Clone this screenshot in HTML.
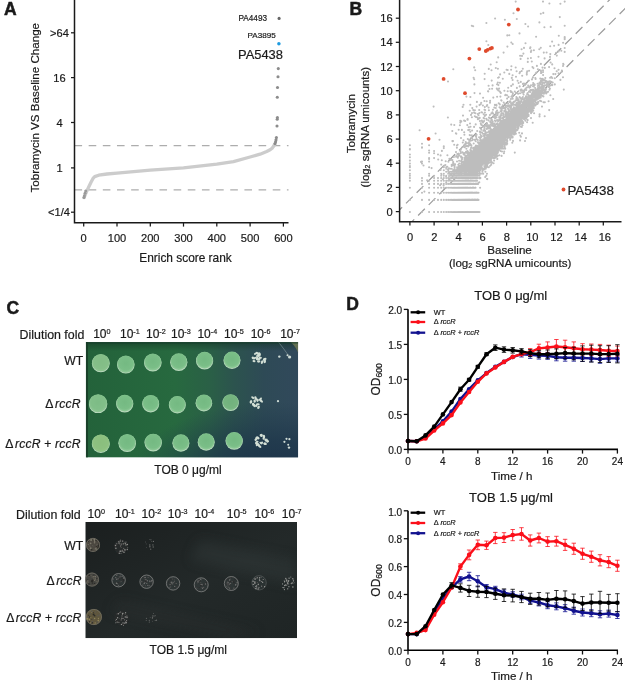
<!DOCTYPE html>
<html lang="en"><head><meta charset="utf-8"><title>Figure</title>
<style>html,body{margin:0;padding:0;background:#fff}body{width:625px;height:684px;overflow:hidden;font-family:"Liberation Sans", Arial, Helvetica, sans-serif}svg{display:block;filter:blur(.4px)}svg text{stroke:#1a1a1a;stroke-width:.2px}</style>
</head><body>
<svg width="625" height="684" viewBox="0 0 625 684" font-family='"Liberation Sans", Arial, Helvetica, sans-serif' fill="#1a1a1a">
<g id="pA">
<text x="4.0" y="14.5" font-size="17.5" font-weight="bold" style="stroke-width:.5px">A</text>
<line x1="74.5" y1="145.6" x2="288.5" y2="145.6" stroke="#adadad" stroke-width="1.3" stroke-dasharray="7.6 6.56"/>
<line x1="74.5" y1="189.9" x2="288.5" y2="189.9" stroke="#adadad" stroke-width="1.3" stroke-dasharray="7.6 6.56"/>
<path d="M74.5 0V222.8H288.5" fill="none" stroke="#1a1a1a" stroke-width="1.5"/>
<line x1="71.0" y1="32.8" x2="74.5" y2="32.8" stroke="#1a1a1a" stroke-width="1.25"/>
<line x1="71.0" y1="77.6" x2="74.5" y2="77.6" stroke="#1a1a1a" stroke-width="1.25"/>
<line x1="71.0" y1="122.5" x2="74.5" y2="122.5" stroke="#1a1a1a" stroke-width="1.25"/>
<line x1="71.0" y1="167.9" x2="74.5" y2="167.9" stroke="#1a1a1a" stroke-width="1.25"/>
<line x1="71.0" y1="212.2" x2="74.5" y2="212.2" stroke="#1a1a1a" stroke-width="1.25"/>
<text x="59.5" y="36.9" text-anchor="middle" font-size="11.1">&gt;64</text>
<text x="59.5" y="81.8" text-anchor="middle" font-size="11.1">16</text>
<text x="59.5" y="126.7" text-anchor="middle" font-size="11.1">4</text>
<text x="59.5" y="172.1" text-anchor="middle" font-size="11.1">1</text>
<text x="70" y="216.4" text-anchor="end" font-size="11.1">&lt;1/4</text>
<line x1="83.7" y1="222.8" x2="83.7" y2="226.60000000000002" stroke="#1a1a1a" stroke-width="1.25"/>
<text x="83.7" y="242.4" text-anchor="middle" font-size="11.1">0</text>
<line x1="117.0" y1="222.8" x2="117.0" y2="226.60000000000002" stroke="#1a1a1a" stroke-width="1.25"/>
<text x="117.0" y="242.4" text-anchor="middle" font-size="11.1">100</text>
<line x1="150.3" y1="222.8" x2="150.3" y2="226.60000000000002" stroke="#1a1a1a" stroke-width="1.25"/>
<text x="150.3" y="242.4" text-anchor="middle" font-size="11.1">200</text>
<line x1="183.5" y1="222.8" x2="183.5" y2="226.60000000000002" stroke="#1a1a1a" stroke-width="1.25"/>
<text x="183.5" y="242.4" text-anchor="middle" font-size="11.1">300</text>
<line x1="216.8" y1="222.8" x2="216.8" y2="226.60000000000002" stroke="#1a1a1a" stroke-width="1.25"/>
<text x="216.8" y="242.4" text-anchor="middle" font-size="11.1">400</text>
<line x1="250.1" y1="222.8" x2="250.1" y2="226.60000000000002" stroke="#1a1a1a" stroke-width="1.25"/>
<text x="250.1" y="242.4" text-anchor="middle" font-size="11.1">500</text>
<line x1="283.4" y1="222.8" x2="283.4" y2="226.60000000000002" stroke="#1a1a1a" stroke-width="1.25"/>
<text x="283.4" y="242.4" text-anchor="middle" font-size="11.1">600</text>
<text x="185.5" y="261.9" text-anchor="middle" font-size="11.9">Enrich score rank</text>
<text transform="translate(39.0 107.7) rotate(-90)" text-anchor="middle" font-size="11.6">Tobramycin VS Baseline Change</text>
<path d="M84.0 197.6 L84.7 196.0 L85.7 193.6 L87.0 190.6 L88.7 187.0 L91.0 182.2 L93.0 178.4 L94.7 176.6 L98.7 175.2 L107.0 174.0 L117.0 173.2 L133.6 171.6 L150.3 170.2 L183.5 167.8 L216.8 164.2 L233.5 161.6 L250.1 157.0 L260.1 154.2 L266.7 151.5 L270.1 149.8 L272.1 148.2 L273.4 146.5 L274.7 144.5" fill="none" stroke="#cccccc" stroke-width="3.3" stroke-linecap="round" stroke-linejoin="round"/>
<circle cx="84.0" cy="197.6" r="1.5" fill="#9a9a9a"/>
<circle cx="84.4" cy="195.8" r="1.5" fill="#9a9a9a"/>
<circle cx="85.0" cy="193.2" r="1.5" fill="#9a9a9a"/>
<circle cx="85.7" cy="191.0" r="1.5" fill="#9a9a9a"/>
<circle cx="275.0" cy="143.6" r="1.55" fill="#8c8c8c"/>
<circle cx="275.6" cy="141.8" r="1.55" fill="#8c8c8c"/>
<circle cx="276.0" cy="139.8" r="1.55" fill="#8c8c8c"/>
<circle cx="276.4" cy="137.6" r="1.55" fill="#8c8c8c"/>
<circle cx="277.0" cy="126.0" r="1.55" fill="#8c8c8c"/>
<circle cx="277.2" cy="119.2" r="1.55" fill="#8c8c8c"/>
<circle cx="277.4" cy="117.6" r="1.55" fill="#8c8c8c"/>
<circle cx="277.3" cy="97.2" r="1.55" fill="#8c8c8c"/>
<circle cx="277.5" cy="87.5" r="1.55" fill="#8c8c8c"/>
<circle cx="278.0" cy="76.8" r="1.55" fill="#8c8c8c"/>
<circle cx="278.3" cy="68.6" r="1.55" fill="#8c8c8c"/>
<circle cx="279.1" cy="18.4" r="1.55" fill="#666"/>
<circle cx="278.9" cy="43.8" r="1.75" fill="#1e9be0"/>
<text x="238.5" y="21.2" font-size="8.2" fill="#222">PA4493</text>
<text x="247.5" y="37.9" font-size="8.1" fill="#222">PA3895</text>
<text x="238" y="58.9" font-size="12.9" fill="#1a1a1a">PA5438</text>
</g>
<g id="pB">
<text x="349.6" y="14.5" font-size="17.5" font-weight="bold" style="stroke-width:.5px">B</text>
<clipPath id="cb"><rect x="399.6" y="0" width="225.39999999999998" height="221.8"/></clipPath>
<g clip-path="url(#cb)" stroke="#9c9c9c" stroke-width="1.25" stroke-dasharray="9.5 5.5" fill="none">
<line x1="395.4" y1="214.0" x2="627.5" y2="-18.1"/>
<line x1="407.5" y1="226.1" x2="639.6" y2="-6.0"/>
</g>
<path d="M491.6 138.7h0M500.5 132.6h0M487.6 151.5h0M477.1 168.7h0M482.7 144.5h0M471.4 163.6h0M494.7 142.4h0M522.3 121.1h0M483.8 144.5h0M476.3 150.5h0M504.1 131.0h0M501.2 132.9h0M497.2 139.5h0M471.9 173.7h0M491.1 142.7h0M506.0 129.9h0M470.3 178.1h0M481.6 153.9h0M453.2 187.8h0M461.3 166.0h0M460.3 171.8h0M487.0 152.7h0M466.7 164.8h0M501.6 140.6h0M495.8 135.1h0M492.7 144.5h0M450.1 192.8h0M483.5 163.6h0M494.7 151.5h0M496.6 144.8h0M464.6 178.1h0M481.6 144.5h0M472.9 152.7h0M476.7 168.7h0M516.9 114.3h0M476.3 156.6h0M491.2 149.5h0M512.9 120.4h0M481.9 157.3h0M493.0 147.2h0M497.3 137.6h0M493.0 136.9h0M464.6 187.8h0M495.3 141.2h0M523.3 110.2h0M451.7 175.7h0M512.9 125.8h0M496.7 138.7h0M478.1 155.2h0M537.1 95.2h0M510.7 129.7h0M466.7 160.6h0M492.8 139.2h0M506.6 124.7h0M491.6 141.5h0M507.0 131.0h0M490.4 146.8h0M509.5 130.3h0M525.1 114.1h0M479.2 149.5h0M496.6 135.8h0M482.7 170.2h0M493.8 137.4h0M465.3 171.8h0M481.9 151.5h0M491.1 146.4h0M512.6 125.4h0M517.0 113.7h0M469.2 171.8h0M479.2 154.5h0M507.2 127.1h0M453.2 199.9h0M478.8 147.7h0M491.2 153.9h0M520.6 111.1h0M507.2 127.1h0M490.6 152.1h0M487.6 146.8h0M486.8 157.3h0M526.2 110.0h0M481.9 154.5h0M487.0 148.1h0M501.5 138.9h0M489.9 142.1h0M490.6 145.2h0M467.4 187.8h0M493.5 140.6h0M481.0 159.7h0M519.1 117.4h0M507.4 131.2h0M494.3 138.1h0M507.5 121.4h0M487.0 144.1h0M516.7 117.9h0M494.7 145.2h0M505.6 134.1h0M465.3 170.2h0M500.8 123.9h0M458.3 175.7h0M448.2 180.7h0M485.0 153.3h0M473.3 159.7h0M496.8 137.4h0M541.8 93.8h0M475.1 171.8h0M478.8 163.6h0M496.3 134.3h0M502.9 131.0h0M487.0 157.3h0M488.4 146.4h0M510.1 133.7h0M505.1 120.0h0M474.2 171.8h0M494.3 152.1h0M495.2 134.5h0M468.6 178.1h0M498.1 132.2h0M471.4 160.6h0M514.3 126.2h0M497.3 133.7h0M495.7 146.0h0M479.8 156.6h0M489.9 143.4h0M448.2 187.8h0M471.9 175.7h0M502.7 123.2h0M450.1 180.7h0M511.4 129.7h0M458.3 167.3h0M509.3 122.6h0M473.3 167.3h0M510.1 126.2h0M497.3 139.5h0M462.2 171.8h0M520.1 112.3h0M525.1 118.3h0M491.7 133.3h0M486.5 144.1h0M489.7 155.2h0M470.3 173.7h0M517.1 124.3h0M480.7 156.6h0M491.2 144.1h0M480.1 155.9h0M481.3 163.6h0M472.4 173.7h0M520.4 107.1h0M489.9 148.6h0M514.1 107.6h0M494.4 145.6h0M481.9 155.9h0M487.0 152.7h0M487.2 164.8h0M494.4 134.9h0M487.6 152.1h0M486.1 151.5h0M463.0 175.7h0M475.5 154.5h0M529.0 110.0h0M474.2 155.2h0M470.9 158.9h0M499.5 135.1h0M524.0 102.6h0M466.7 166.0h0M489.5 143.8h0M478.5 153.9h0M462.2 175.7h0M510.6 117.5h0M493.5 153.3h0M495.1 138.7h0M477.4 163.6h0M502.7 135.1h0M482.7 162.6h0M490.7 138.9h0M469.2 168.7h0M470.3 166.0h0M522.3 105.2h0M483.2 155.9h0M500.6 133.5h0M490.7 143.4h0M482.7 159.7h0M480.7 157.3h0M505.2 124.8h0M488.0 147.2h0M490.0 137.6h0M493.7 147.7h0M518.7 114.7h0M508.1 134.7h0M502.2 136.5h0M473.3 160.6h0M465.3 164.8h0M513.3 116.7h0M514.0 117.8h0M489.3 138.1h0M503.7 121.6h0M510.8 122.1h0M510.4 126.3h0M512.8 130.3h0M484.3 155.2h0M525.6 107.4h0M468.0 171.8h0M511.6 124.1h0M503.7 136.0h0M512.2 114.0h0M533.2 105.9h0M525.9 111.6h0M468.0 170.2h0M454.6 212.0h0M513.0 118.3h0M471.9 155.9h0M495.3 143.1h0M511.9 129.4h0M460.3 175.7h0M453.2 187.8h0M499.3 126.7h0M494.1 144.5h0M485.9 153.3h0M494.8 146.8h0M473.8 158.1h0M458.3 171.8h0M486.3 154.5h0M471.4 164.8h0M457.1 178.1h0M503.5 128.9h0M493.0 142.1h0M503.4 121.3h0M469.8 171.8h0M479.2 159.7h0M465.3 170.2h0M475.5 158.1h0M498.2 150.5h0M479.8 158.9h0M500.3 134.1h0M501.9 140.3h0M536.2 99.2h0M454.6 166.0h0M514.2 114.7h0M490.6 153.3h0M492.7 143.8h0M461.3 160.6h0M481.0 163.6h0M509.0 127.9h0M492.7 151.0h0M493.8 138.9h0M488.6 155.9h0M517.6 118.7h0M493.1 150.0h0M446.2 199.9h0M479.2 168.7h0M453.2 212.0h0M441.2 212.0h0M481.9 152.7h0M522.9 116.3h0M494.7 140.0h0M471.4 175.7h0M474.2 166.0h0M517.3 119.3h0M497.6 135.6h0M494.9 140.3h0M494.8 151.5h0M490.6 141.2h0M510.5 123.5h0M506.1 121.2h0M500.1 145.6h0M471.9 170.2h0M505.3 126.8h0M473.8 164.8h0M516.4 112.5h0M463.8 167.3h0M489.5 149.5h0M494.8 133.9h0M462.2 171.8h0M530.7 109.3h0M524.0 109.1h0M482.7 150.5h0M510.0 121.4h0M503.1 136.0h0M441.2 192.8h0M499.9 137.6h0M492.4 134.7h0M495.1 124.8h0M470.3 173.7h0M486.8 159.7h0M492.8 152.7h0M520.0 121.5h0M499.6 134.5h0M493.0 143.4h0M526.7 112.9h0M481.9 163.6h0M483.0 156.6h0M454.6 180.7h0M527.7 120.1h0M515.7 115.5h0M513.4 122.8h0M506.6 129.1h0M496.0 137.6h0M496.2 144.1h0M488.0 149.5h0M488.6 143.1h0M496.0 136.5h0M526.8 104.5h0M507.1 133.5h0M491.4 149.0h0M477.4 149.0h0M474.7 155.9h0M528.2 107.3h0M505.5 144.5h0M492.8 149.0h0M483.5 158.1h0M469.8 156.6h0M491.9 141.2h0M510.5 126.1h0M483.0 153.3h0M491.9 131.7h0M489.0 141.8h0M499.0 141.8h0M457.1 178.1h0M489.1 156.6h0M474.7 167.3h0M513.3 121.1h0M470.9 152.7h0M507.4 123.5h0M526.0 107.3h0M484.5 155.2h0M480.1 153.9h0M497.8 136.5h0M493.4 148.6h0M471.9 171.8h0M504.2 120.6h0M537.2 94.8h0M489.1 136.7h0M490.6 141.8h0M470.9 157.3h0M501.2 138.9h0M460.3 166.0h0M471.4 155.2h0M520.0 106.8h0M478.1 163.6h0M517.1 112.7h0M527.4 111.1h0M498.0 144.8h0M506.4 125.8h0M535.8 89.8h0M491.1 146.0h0M478.1 168.7h0M463.0 178.1h0M495.2 140.3h0M525.1 111.3h0M513.8 133.9h0M474.7 155.9h0M477.4 150.0h0M481.0 152.7h0M501.0 143.8h0M488.8 156.6h0M497.4 134.5h0M502.4 131.3h0M487.4 143.4h0M493.5 144.1h0M497.3 139.5h0M489.7 146.4h0M505.3 133.3h0M534.0 104.0h0M504.4 128.1h0M496.1 150.0h0M459.3 178.1h0M502.6 132.0h0M446.2 183.9h0M469.8 162.6h0M511.4 128.6h0M507.9 127.5h0M489.0 137.9h0M451.7 183.9h0M488.4 159.7h0M476.7 155.9h0M507.6 119.7h0M543.0 82.6h0M498.4 149.5h0M480.1 162.6h0M468.0 173.7h0M492.8 147.7h0M491.1 138.7h0M472.4 180.7h0M497.4 133.7h0M464.6 175.7h0M517.2 122.5h0M515.3 123.6h0M517.8 117.6h0M482.2 153.9h0M505.9 123.8h0M491.6 144.1h0M482.7 149.5h0M491.2 158.9h0M468.0 173.7h0M463.0 168.7h0M509.7 122.2h0M490.9 152.1h0M496.7 143.4h0M515.6 117.8h0M460.3 175.7h0M477.1 164.8h0M497.5 140.9h0M501.0 138.9h0M482.7 141.8h0M515.5 118.1h0M498.2 133.5h0M466.7 163.6h0M471.4 156.6h0M510.1 128.9h0M505.3 124.5h0M443.8 175.7h0M523.3 108.4h0M506.8 122.0h0M521.7 114.4h0M483.0 148.1h0M483.5 152.7h0M463.8 161.6h0M548.8 86.9h0M488.2 144.1h0M528.2 110.8h0M479.8 155.9h0M496.5 138.9h0M448.2 178.1h0M483.8 145.2h0M515.2 120.5h0M466.0 170.2h0M515.1 130.2h0M497.1 130.2h0M467.4 170.2h0M481.6 155.9h0M481.0 158.9h0M492.8 136.7h0M481.3 155.9h0M475.1 157.3h0M487.0 142.1h0M468.0 155.2h0M469.2 163.6h0M491.6 141.2h0M511.7 128.2h0M463.8 173.7h0M491.4 136.2h0M477.8 153.9h0M474.7 155.2h0M509.2 122.8h0M485.2 158.1h0M526.7 101.3h0M477.4 149.5h0M500.1 138.1h0M487.8 141.8h0M477.4 162.6h0M506.4 124.3h0M492.2 144.1h0M506.7 125.2h0M492.8 139.5h0M467.4 162.6h0M492.5 151.5h0M497.9 140.3h0M513.3 119.6h0M477.8 171.8h0M491.7 141.5h0M460.3 183.9h0M508.2 123.6h0M472.9 153.9h0M455.9 183.9h0M491.4 139.7h0M517.4 114.9h0M458.3 170.2h0M472.4 171.8h0M469.2 155.2h0M469.2 173.7h0M503.2 128.8h0M472.9 158.1h0M482.4 148.6h0M506.2 126.7h0M481.3 157.3h0M500.9 121.0h0M471.9 164.8h0M464.6 167.3h0M448.2 192.8h0M533.3 95.1h0M489.0 149.5h0M498.9 130.0h0M492.0 133.3h0M496.6 144.8h0M494.8 137.2h0M534.5 95.5h0M470.9 178.1h0M461.3 171.8h0M473.3 162.6h0M465.3 164.8h0M507.9 132.0h0M512.2 122.3h0M478.8 168.7h0M465.3 159.7h0M485.2 152.7h0M523.5 110.5h0M443.8 187.8h0M502.5 128.2h0M464.6 170.2h0M516.0 123.9h0M468.6 167.3h0M486.5 152.7h0M465.3 170.2h0M471.9 178.1h0M524.0 110.9h0M511.2 129.4h0M484.7 158.1h0M475.1 154.5h0M455.9 212.0h0M482.2 144.8h0M490.4 149.0h0M490.7 140.9h0M491.9 131.7h0M472.4 183.9h0M488.0 150.0h0M490.0 137.4h0M521.6 110.7h0M534.2 100.8h0M492.0 150.0h0M474.7 162.6h0M492.7 148.1h0M480.7 146.0h0M474.2 157.3h0M491.7 139.7h0M471.4 155.2h0M506.6 116.3h0M491.1 147.2h0M499.4 135.1h0M489.1 146.8h0M479.2 156.6h0M474.2 171.8h0M490.6 150.5h0M478.8 164.8h0M498.7 150.0h0M493.8 147.7h0M465.3 168.7h0M493.4 131.5h0M467.4 171.8h0M479.5 157.3h0M487.0 143.1h0M448.2 173.7h0M494.5 139.7h0M496.0 139.7h0M490.2 133.9h0M485.2 149.5h0M484.0 154.5h0M473.3 183.9h0M485.9 143.4h0M485.9 155.2h0M494.9 126.4h0M469.2 164.8h0M500.3 133.5h0M495.3 132.9h0M493.1 134.9h0M488.0 159.7h0M506.0 120.9h0M450.1 168.7h0M504.9 133.9h0M497.2 140.6h0M496.0 136.2h0M503.2 138.7h0M481.6 167.3h0M488.8 144.8h0M507.7 126.4h0M502.1 136.5h0M498.7 138.7h0M461.3 170.2h0M504.9 128.4h0M519.7 118.4h0M516.1 107.7h0M499.2 141.8h0M466.7 180.7h0M514.9 120.9h0M490.2 144.5h0M438.0 183.9h0M501.0 128.5h0M458.3 183.9h0M459.3 171.8h0M482.7 159.7h0M521.6 118.0h0M482.7 156.6h0M497.8 143.8h0M531.2 104.6h0M527.4 103.9h0M490.7 147.7h0M490.0 147.2h0M464.6 173.7h0M477.1 162.6h0M503.7 138.4h0M502.1 134.7h0M496.1 137.6h0M516.8 119.0h0M476.7 159.7h0M494.1 146.4h0M508.1 117.8h0M505.7 123.9h0M517.0 118.2h0M502.7 130.5h0M486.8 146.8h0M500.4 134.9h0M473.8 167.3h0M454.6 164.8h0M506.7 121.9h0M492.4 138.9h0M500.8 140.0h0M454.6 173.7h0M487.6 138.7h0M480.1 157.3h0M470.9 154.5h0M438.0 192.8h0M481.6 144.8h0M512.9 112.9h0M502.3 132.0h0M477.1 153.9h0M489.1 144.5h0M511.2 110.5h0M448.2 212.0h0M491.7 145.6h0M505.9 120.5h0M507.7 126.7h0M530.2 102.0h0M517.4 117.8h0M500.8 136.2h0M501.4 138.4h0M510.6 118.3h0M480.7 155.9h0M490.2 142.1h0M512.9 121.7h0M535.5 98.0h0M489.5 151.0h0M491.2 136.9h0M495.6 133.7h0M522.6 113.0h0M491.1 150.5h0M524.8 104.3h0M467.4 170.2h0M488.2 143.4h0M489.5 146.8h0M509.2 127.5h0M515.9 122.4h0M466.0 175.7h0M471.9 153.9h0M501.0 137.9h0M479.2 164.8h0M454.6 175.7h0M516.8 114.5h0M503.3 124.0h0M503.8 136.5h0M481.9 156.6h0M515.4 100.5h0M490.0 146.0h0M516.4 117.9h0M473.8 158.1h0M471.9 157.3h0M499.0 145.2h0M475.1 157.3h0M508.7 125.1h0M499.7 131.5h0M471.9 166.0h0M495.7 144.5h0M482.4 158.1h0M512.3 131.9h0M483.2 148.1h0M484.0 157.3h0M521.2 116.7h0M541.5 81.4h0M536.4 97.7h0M496.2 135.8h0M497.2 138.4h0M527.4 102.7h0M489.5 146.4h0M467.4 158.9h0M494.3 134.1h0M504.0 130.7h0M475.5 171.8h0M460.3 178.1h0M460.3 168.7h0M508.2 135.4h0M478.5 159.7h0M489.9 142.4h0M499.9 123.4h0M506.0 130.0h0M483.2 146.4h0M504.3 140.9h0M472.9 170.2h0M486.1 151.5h0M474.2 156.6h0M517.8 119.0h0M488.2 145.2h0M481.6 164.8h0M485.2 147.2h0M487.4 146.4h0M507.9 125.0h0M453.2 175.7h0M466.7 163.6h0M486.3 143.4h0M548.1 91.8h0M513.6 124.1h0M492.4 147.7h0M508.7 128.4h0M538.4 88.2h0M488.8 140.6h0M487.8 152.1h0M521.1 113.6h0M502.5 125.4h0M508.5 131.2h0M484.7 152.1h0M535.0 92.8h0M530.2 99.2h0M507.0 122.9h0M509.4 125.8h0M446.2 180.7h0M508.6 132.6h0M489.1 154.5h0M502.7 129.5h0M506.7 144.5h0M487.0 149.5h0M464.6 171.8h0M503.5 132.9h0M478.8 159.7h0M491.1 143.1h0M483.8 155.2h0M486.1 144.5h0M434.1 178.1h0M518.2 109.8h0M497.6 131.7h0M518.8 114.2h0M536.3 94.7h0M494.5 139.5h0M450.1 187.8h0M477.1 153.3h0M469.2 175.7h0M481.9 155.9h0M494.5 138.7h0M454.6 199.9h0M500.9 136.0h0M463.8 183.9h0M497.5 133.3h0M493.0 139.2h0M488.8 139.5h0M493.3 137.4h0M483.2 154.5h0M481.3 157.3h0M455.9 175.7h0M489.7 134.7h0M533.2 110.6h0M536.9 94.7h0M522.8 122.2h0M509.2 123.0h0M479.8 153.9h0M525.9 106.8h0M492.5 135.4h0M491.1 143.8h0M487.2 148.1h0M495.8 140.0h0M485.2 151.5h0M493.1 142.7h0M469.8 167.3h0M488.4 158.9h0M543.0 82.9h0M493.8 144.5h0M488.4 155.9h0M505.1 134.5h0M509.4 131.5h0M470.3 167.3h0M487.0 137.4h0M514.6 118.0h0M501.8 128.1h0M497.1 130.5h0M527.3 110.0h0M481.3 154.5h0M494.3 132.2h0M481.3 144.1h0M525.9 116.7h0M451.7 192.8h0M473.3 155.9h0M483.8 161.6h0M505.9 133.7h0M508.0 125.3h0M523.9 114.6h0M451.7 192.8h0M510.5 123.4h0M487.2 149.5h0M476.7 155.9h0M505.0 126.4h0M468.6 161.6h0M448.2 192.8h0M485.2 156.6h0M459.3 180.7h0M481.6 160.6h0M502.1 126.2h0M501.0 128.2h0M527.2 94.4h0M489.1 148.1h0M460.3 212.0h0M473.3 160.6h0M479.8 164.8h0M475.5 178.1h0M502.3 140.3h0M480.7 158.1h0M448.2 173.7h0M508.9 135.1h0M491.1 149.0h0M501.7 136.0h0M494.9 146.0h0M509.0 137.2h0M491.4 141.8h0M519.6 117.1h0M502.3 133.9h0M502.6 144.8h0M501.7 123.9h0M457.1 183.9h0M487.8 149.5h0M486.5 156.6h0M498.5 136.9h0M463.8 187.8h0M528.0 103.3h0M498.3 138.4h0M470.9 160.6h0M465.3 183.9h0M489.5 148.6h0M491.7 145.2h0M480.7 147.7h0M496.3 148.6h0M481.0 158.9h0M505.7 130.7h0M480.4 163.6h0M492.5 137.6h0M516.4 118.2h0M549.7 81.4h0M475.9 164.8h0M479.5 155.9h0M477.4 161.6h0M511.0 135.1h0M472.4 168.7h0M479.2 161.6h0M491.9 146.8h0M474.7 158.9h0M477.8 160.6h0M484.0 152.7h0M459.3 183.9h0M461.3 199.9h0M487.2 155.2h0M498.0 136.2h0M488.8 142.7h0M450.1 187.8h0M485.9 152.7h0M510.1 118.9h0M504.8 126.7h0M493.1 146.8h0M473.3 163.6h0M508.2 123.2h0M478.8 143.1h0M470.3 160.6h0M478.8 161.6h0M523.9 108.0h0M498.0 138.1h0M519.3 113.7h0M481.6 154.5h0M515.7 116.9h0M480.7 163.6h0M491.9 148.1h0M547.7 82.5h0M509.3 127.6h0M480.4 152.7h0M492.4 157.3h0M501.6 131.0h0M518.8 115.7h0M477.1 158.1h0M451.7 180.7h0M487.6 149.5h0M491.1 145.6h0M497.8 127.8h0M522.0 114.7h0M500.4 131.2h0M510.5 113.8h0M466.0 168.7h0M512.9 121.4h0M539.3 98.1h0M509.9 119.9h0M499.1 139.7h0M496.9 143.4h0M532.0 93.9h0M468.6 160.6h0M489.3 153.9h0M502.7 125.0h0M509.8 123.6h0M487.2 137.2h0M499.2 125.9h0M486.5 153.3h0M495.6 140.9h0M488.8 149.0h0M465.3 168.7h0M494.9 140.9h0M513.5 120.6h0M468.0 161.6h0M489.0 153.9h0M507.9 131.2h0M473.8 162.6h0M498.9 131.2h0M472.4 164.8h0M517.9 116.6h0M543.9 89.6h0M538.0 94.7h0M488.2 160.6h0M510.0 121.8h0M495.3 143.8h0M495.1 137.9h0M527.1 122.2h0M466.7 178.1h0M516.5 112.0h0M492.0 162.6h0M525.1 101.6h0M497.8 138.4h0M475.1 158.1h0M501.1 143.8h0M507.5 118.7h0M493.3 138.7h0M505.3 127.8h0M477.8 149.5h0M450.1 183.9h0M510.9 116.7h0M508.9 132.0h0M497.6 136.5h0M495.1 149.0h0M516.8 122.8h0M485.4 159.7h0M471.9 155.9h0M489.9 156.6h0M517.7 120.1h0M466.7 167.3h0M518.9 114.3h0M481.3 144.5h0M474.2 156.6h0M520.9 111.3h0M490.4 139.2h0M467.4 175.7h0M489.3 155.2h0M513.4 124.1h0M519.7 116.1h0M485.0 159.7h0M503.7 137.6h0M506.8 128.2h0M483.2 155.9h0M502.1 130.8h0M490.2 144.1h0M483.5 155.9h0M487.4 150.0h0M494.8 143.8h0M492.4 147.2h0M484.0 168.7h0M478.5 155.2h0M518.4 112.0h0M497.1 135.4h0M511.5 118.9h0M520.7 112.1h0M504.6 122.0h0M543.2 88.8h0M472.9 168.7h0M511.0 130.2h0M485.9 147.2h0M533.3 92.8h0M530.5 98.1h0M454.6 180.7h0M469.2 158.9h0M508.2 134.7h0M508.6 128.6h0M510.2 139.7h0M490.4 142.1h0M503.9 137.4h0M508.5 127.4h0M491.4 151.0h0M516.6 130.5h0M441.2 183.9h0M508.4 122.6h0M469.8 170.2h0M514.5 119.1h0M489.0 145.2h0M476.7 168.7h0M500.7 127.9h0M475.5 163.6h0M480.1 164.8h0M460.3 171.8h0M492.4 148.6h0M505.6 126.7h0M516.3 113.8h0M490.4 140.6h0M516.7 119.8h0M493.1 145.6h0M490.9 153.9h0M505.5 134.9h0M517.1 116.6h0M487.2 148.6h0M488.6 153.3h0M493.8 149.5h0M496.5 139.2h0M473.8 156.6h0M514.7 111.8h0M487.4 159.7h0M504.4 127.6h0M475.9 166.0h0M499.6 134.5h0M502.5 132.0h0M483.8 153.9h0M536.9 103.7h0M501.6 155.9h0M532.2 99.5h0M513.5 113.1h0M481.9 156.6h0M487.4 150.5h0M503.3 133.1h0M494.1 144.1h0M494.0 145.2h0M485.7 143.4h0M441.2 180.7h0M490.0 158.1h0M443.8 180.7h0M502.4 134.1h0M479.8 178.1h0M477.1 151.5h0M487.0 150.5h0M498.9 134.5h0M465.3 183.9h0M455.9 183.9h0M467.4 170.2h0M454.6 180.7h0M468.0 168.7h0M527.7 93.1h0M474.2 158.9h0M506.6 131.7h0M461.3 175.7h0M498.1 131.9h0M486.3 149.0h0M493.1 149.5h0M504.8 133.1h0M531.4 90.3h0M499.2 132.8h0M495.5 152.7h0M471.4 180.7h0M506.0 133.5h0M487.2 147.2h0M512.7 120.0h0M490.6 144.5h0M530.6 109.7h0M451.7 180.7h0M489.0 146.0h0M511.2 123.5h0M486.5 153.9h0M476.3 161.6h0M489.3 148.6h0M468.0 173.7h0M497.3 139.7h0M546.8 92.4h0M518.3 111.8h0M463.0 175.7h0M469.2 170.2h0M484.0 150.5h0M514.9 113.9h0M475.1 178.1h0M476.7 171.8h0M512.6 111.2h0M512.5 130.2h0M489.3 154.5h0M468.0 178.1h0M459.3 187.8h0M479.2 178.1h0M441.2 192.8h0M508.7 128.9h0M477.1 157.3h0M502.2 128.6h0M533.9 96.3h0M519.3 109.0h0M469.2 170.2h0M510.6 118.5h0M519.5 122.4h0M480.1 159.7h0M464.6 154.5h0M492.0 133.5h0M457.1 173.7h0M526.1 103.7h0M446.2 192.8h0M465.3 170.2h0M487.4 136.9h0M488.8 150.5h0M496.9 139.2h0M498.4 121.0h0M490.7 159.7h0M519.3 116.3h0M458.3 199.9h0M492.2 143.8h0M476.3 159.7h0M496.6 139.2h0M496.1 134.3h0M472.9 167.3h0M478.1 162.6h0M509.4 131.5h0M497.9 132.9h0M477.4 161.6h0M537.1 90.3h0M543.4 96.4h0M462.2 171.8h0M498.5 145.6h0M547.9 85.4h0M511.4 116.0h0M498.1 136.9h0M489.9 153.9h0M482.4 151.5h0M488.8 167.3h0M485.9 150.5h0M508.9 129.9h0M485.4 168.7h0M484.5 153.3h0M468.6 173.7h0M491.7 131.0h0M475.1 158.9h0M485.2 140.0h0M516.0 109.8h0M500.8 138.1h0M502.1 138.4h0M501.7 127.8h0M494.8 144.1h0M488.2 141.5h0M485.9 151.0h0M509.2 134.7h0M471.4 167.3h0M521.5 117.8h0M491.9 152.1h0M477.8 164.8h0M486.1 138.1h0M477.1 150.0h0M498.3 141.2h0M473.8 161.6h0M517.1 114.8h0M480.1 156.6h0M434.1 192.8h0M475.9 154.5h0M451.7 212.0h0M494.1 138.1h0M516.8 102.9h0M507.6 133.7h0M468.0 183.9h0M478.1 155.9h0M532.7 101.1h0M500.4 134.7h0M492.4 138.4h0M516.5 116.0h0M546.2 93.4h0M522.0 123.8h0M499.1 139.5h0M501.0 139.7h0M505.1 127.8h0M478.8 170.2h0M475.9 175.7h0M495.5 149.0h0M475.5 158.1h0M490.2 150.0h0M496.9 139.2h0M544.0 80.3h0M472.4 168.7h0M490.4 150.0h0M491.2 135.1h0M504.1 130.7h0M515.7 116.7h0M479.5 153.9h0M473.8 153.9h0M453.2 170.2h0M473.8 157.3h0M504.0 122.9h0M492.5 147.2h0M470.9 167.3h0M486.5 155.2h0M496.3 142.1h0M502.7 130.0h0M481.6 158.1h0M490.2 146.0h0M446.2 183.9h0M470.3 180.7h0M528.9 100.5h0M453.2 187.8h0M486.3 152.1h0M498.5 134.5h0M483.2 149.5h0M473.8 159.7h0M492.2 154.5h0M493.5 148.6h0M489.5 144.8h0M454.6 167.3h0M488.8 152.1h0M475.9 164.8h0M476.7 162.6h0M499.2 138.9h0M508.2 127.4h0M513.4 132.8h0M477.8 171.8h0M513.6 116.6h0M518.6 114.2h0M518.7 121.1h0M524.3 104.8h0M490.9 138.1h0M489.1 158.9h0M512.2 124.8h0M463.0 170.2h0M499.7 144.8h0M485.7 159.7h0M485.9 146.4h0M458.3 192.8h0M471.9 170.2h0M490.9 142.1h0M513.9 126.8h0M515.0 117.0h0M494.7 150.0h0M485.9 141.2h0M474.2 164.8h0M503.2 134.7h0M485.7 155.9h0M507.9 134.9h0M530.9 96.2h0M490.2 135.8h0M458.3 178.1h0M479.5 175.7h0M465.3 199.9h0M464.6 159.7h0M521.1 109.3h0M499.1 142.7h0M463.8 178.1h0M508.6 126.2h0M522.2 107.9h0M481.3 149.5h0M478.1 153.3h0M488.6 153.3h0M501.5 140.6h0M507.9 137.4h0M518.9 117.6h0M519.7 116.7h0M520.0 112.2h0M523.9 118.2h0M505.3 109.7h0M458.3 178.1h0M489.5 138.9h0M498.9 131.3h0M485.9 162.6h0M513.9 122.1h0M484.5 145.2h0M475.1 187.8h0M525.5 104.6h0M507.7 132.8h0M499.2 140.0h0M514.6 120.1h0M517.4 129.9h0M501.3 133.7h0M434.1 199.9h0M481.9 163.6h0M480.4 150.5h0M469.8 143.4h0M498.0 136.0h0M519.5 112.1h0M485.4 150.0h0M466.0 166.0h0M537.5 95.0h0M485.0 142.4h0M473.3 175.7h0M498.7 132.0h0M503.1 133.9h0M478.8 143.4h0M511.2 137.4h0M482.7 147.2h0M470.3 161.6h0M499.2 136.9h0M510.1 129.9h0M480.4 161.6h0M500.1 140.3h0M489.7 144.1h0M554.8 84.4h0M480.1 164.8h0M524.2 108.2h0M493.3 137.6h0M489.5 148.6h0M510.8 129.5h0M511.7 127.6h0M520.7 98.6h0M501.0 130.7h0M481.9 159.7h0M480.7 153.3h0M503.2 117.8h0M504.7 123.9h0M524.1 115.6h0M504.4 136.2h0M517.5 120.4h0M525.9 109.4h0M499.1 146.0h0M455.9 180.7h0M471.4 171.8h0M463.0 178.1h0M527.6 104.8h0M474.7 167.3h0M519.7 123.5h0M505.3 130.0h0M531.6 99.1h0M514.0 115.9h0M492.5 148.6h0M488.4 162.6h0M495.6 143.8h0M497.1 141.5h0M478.1 156.6h0M492.0 153.3h0M527.8 108.5h0M462.2 199.9h0M497.1 120.1h0M471.4 163.6h0M496.2 140.3h0M511.9 123.0h0M492.4 150.5h0M510.0 123.9h0M465.3 178.1h0M517.3 115.5h0M481.3 155.2h0M506.8 123.4h0M495.7 139.7h0M422.0 183.9h0M478.1 158.1h0M500.3 146.4h0M526.4 115.3h0M498.7 139.7h0M499.3 138.9h0M465.3 166.0h0M524.9 103.2h0M532.2 103.4h0M495.7 148.1h0M491.2 146.0h0M462.2 173.7h0M513.2 124.0h0M552.2 78.0h0M509.3 119.0h0M521.7 110.4h0M506.7 130.5h0M472.9 175.7h0M523.0 102.2h0M470.3 163.6h0M488.4 144.1h0M499.8 137.2h0M513.5 132.8h0M505.0 131.7h0M503.5 134.5h0M471.9 155.9h0M460.3 171.8h0M495.6 131.7h0M479.8 160.6h0M469.8 167.3h0M465.3 173.7h0M482.4 156.6h0M457.1 187.8h0M463.8 180.7h0M455.9 187.8h0M496.6 139.7h0M502.8 133.5h0M537.4 103.9h0M461.3 180.7h0M472.9 159.7h0M512.5 125.3h0M491.2 147.7h0M485.0 157.3h0M531.1 113.3h0M486.5 152.7h0M471.9 162.6h0M466.7 178.1h0M500.1 136.7h0M502.5 130.8h0M458.3 183.9h0M469.2 160.6h0M504.4 126.4h0M506.8 126.2h0M479.8 163.6h0M505.8 140.3h0M504.6 148.1h0M454.6 187.8h0M489.9 148.1h0M504.6 129.9h0M481.6 149.5h0M453.2 192.8h0M483.5 158.1h0M510.5 124.0h0M526.7 96.8h0M446.2 192.8h0M550.1 77.7h0M463.8 183.9h0M514.8 121.1h0M520.1 109.5h0M514.1 123.5h0M498.0 146.8h0M469.8 175.7h0M508.0 128.8h0M476.3 157.3h0M438.0 212.0h0M555.4 74.1h0M508.1 128.5h0M532.9 95.0h0M471.4 152.7h0M524.1 99.9h0M528.2 98.6h0M526.7 101.4h0M494.1 150.5h0M465.3 166.0h0M491.2 151.0h0M450.1 175.7h0M455.9 187.8h0M495.5 139.7h0M468.0 162.6h0M492.2 157.3h0M491.4 153.9h0M535.5 99.8h0M521.6 118.2h0M493.1 148.6h0M519.8 116.7h0M474.7 162.6h0M481.6 144.1h0M511.2 121.2h0M466.7 173.7h0M482.4 153.3h0M468.6 167.3h0M495.7 136.7h0M528.5 111.8h0M479.8 153.3h0M498.7 133.5h0M476.3 171.8h0M468.0 183.9h0M466.0 180.7h0M525.6 112.1h0M544.5 85.3h0M503.4 129.1h0M477.1 161.6h0M508.7 129.5h0M487.4 149.5h0M512.4 111.6h0M500.5 151.0h0M498.1 130.5h0M507.0 127.5h0M478.1 158.9h0M481.6 148.1h0M457.1 180.7h0M481.3 159.7h0M462.2 167.3h0M491.1 145.6h0M472.9 187.8h0M495.1 136.2h0M502.8 125.8h0M462.2 192.8h0M474.2 175.7h0M475.9 153.9h0M510.4 123.7h0M529.4 102.6h0M511.9 120.0h0M485.9 144.8h0M525.3 105.6h0M466.0 168.7h0M525.9 106.4h0M479.8 153.3h0M443.8 212.0h0M551.2 82.0h0M527.9 113.1h0M463.8 154.5h0M498.6 126.1h0M488.4 146.4h0M494.4 151.0h0M463.0 175.7h0M477.1 152.1h0M503.1 130.7h0M498.9 134.9h0M519.7 109.2h0M495.2 152.1h0M544.1 80.0h0M479.5 158.1h0M500.3 137.9h0M454.6 183.9h0M467.4 170.2h0M521.8 120.2h0M470.9 178.1h0M505.2 131.3h0M493.8 137.9h0M469.8 163.6h0M485.9 150.0h0M485.7 154.5h0M486.3 148.6h0M510.7 126.2h0M506.8 119.4h0M479.5 149.5h0M476.3 163.6h0M499.6 138.1h0M491.2 142.4h0M514.8 122.9h0M551.0 85.3h0M511.4 125.0h0M490.6 149.5h0M489.0 142.4h0M470.9 159.7h0M475.5 173.7h0M473.3 158.1h0M485.7 155.2h0M485.4 140.3h0M509.9 125.3h0M484.0 157.3h0M490.2 148.6h0M466.7 168.7h0M528.5 105.8h0M502.0 131.9h0M532.0 102.1h0M511.6 120.9h0M525.7 106.3h0M491.2 147.7h0M508.6 133.9h0M552.3 85.1h0M469.2 187.8h0M520.1 110.3h0M529.8 96.9h0M505.1 125.8h0M510.6 122.3h0M521.9 106.6h0M477.4 161.6h0M500.9 136.2h0M473.8 183.9h0M477.8 162.6h0M479.2 164.8h0M486.3 141.2h0M495.7 128.5h0M504.0 135.4h0M466.7 166.0h0M538.1 94.5h0M518.3 119.3h0M507.0 137.6h0M482.4 155.9h0M490.2 151.0h0M507.4 133.3h0M502.0 134.3h0M457.1 183.9h0M510.2 125.9h0M558.5 69.8h0M448.2 183.9h0M514.9 114.0h0M502.7 139.5h0M493.4 145.6h0M522.9 107.4h0M468.0 170.2h0M496.8 146.0h0M526.1 103.9h0M488.0 152.1h0M483.0 149.0h0M495.1 136.5h0M483.5 151.5h0M527.8 104.6h0M475.5 154.5h0M512.9 117.4h0M464.6 180.7h0M509.7 124.8h0M491.2 139.2h0M434.1 212.0h0M495.2 146.0h0M472.9 168.7h0M484.3 155.9h0M527.6 110.3h0M466.7 171.8h0M473.8 161.6h0M525.6 111.7h0M496.0 136.7h0M527.3 116.0h0M502.2 132.6h0M473.3 161.6h0M491.9 125.7h0M520.0 119.2h0M513.5 127.0h0M493.1 138.4h0M495.3 134.9h0M490.7 155.9h0M481.3 151.0h0M536.1 91.2h0M493.8 150.5h0M466.7 166.0h0M478.1 156.6h0M508.2 128.6h0M507.5 128.2h0M488.0 145.6h0M483.2 173.7h0M492.0 129.7h0M454.6 183.9h0M462.2 187.8h0M512.7 120.2h0M481.6 160.6h0M502.7 127.4h0M521.0 115.3h0M508.6 124.1h0M491.7 144.1h0M541.2 91.9h0M507.6 124.8h0M485.9 147.2h0M506.9 114.9h0M502.4 135.1h0M473.8 170.2h0M496.0 144.8h0M493.5 147.2h0M446.2 180.7h0M486.8 143.4h0M488.0 163.6h0M482.4 153.3h0M454.6 183.9h0M484.7 152.7h0M491.9 148.1h0M493.1 151.0h0M459.3 171.8h0M509.6 126.2h0M466.7 178.1h0M488.6 146.8h0M523.1 103.7h0M475.1 168.7h0M482.4 150.5h0M517.2 120.4h0M481.6 154.5h0M485.2 151.0h0M497.5 138.9h0M517.4 109.9h0M450.1 199.9h0M473.8 171.8h0M471.9 161.6h0M465.3 166.0h0M477.1 166.0h0M469.2 158.9h0M499.7 138.4h0M471.9 170.2h0M497.6 128.9h0M504.2 144.1h0M477.4 157.3h0M495.6 145.6h0M530.0 103.7h0M499.4 134.9h0M481.6 159.7h0M493.0 155.2h0M475.9 158.9h0M497.1 136.0h0M513.9 127.6h0M476.7 161.6h0M487.4 143.8h0M519.6 118.7h0M485.7 150.5h0M496.5 144.1h0M468.6 159.7h0M476.7 158.1h0M485.2 138.1h0M540.1 87.4h0M483.0 150.0h0M479.5 150.5h0M484.7 160.6h0M488.2 140.6h0M508.8 131.9h0M497.1 139.5h0M537.4 89.0h0M496.8 135.8h0M524.5 101.2h0M501.7 143.1h0M507.5 126.3h0M464.6 183.9h0M490.7 149.5h0M490.7 154.5h0M491.1 143.4h0M448.2 192.8h0M513.1 127.8h0M485.0 163.6h0M483.8 154.5h0M485.4 142.4h0M490.2 149.0h0M501.0 133.3h0M464.6 167.3h0M478.1 162.6h0M499.7 129.4h0M496.9 134.9h0M487.0 154.5h0M484.5 153.9h0M480.1 173.7h0M492.2 142.1h0M518.7 116.0h0M472.4 167.3h0M526.3 106.4h0M512.8 124.0h0M484.5 155.2h0M510.3 119.0h0M460.3 178.1h0M457.1 183.9h0M469.8 170.2h0M483.8 142.1h0M486.3 149.5h0M481.9 153.3h0M497.2 147.2h0M450.1 183.9h0M505.9 122.4h0M467.4 162.6h0M475.1 158.1h0M485.4 157.3h0M466.7 183.9h0M463.0 168.7h0M472.9 162.6h0M495.2 139.2h0M506.8 117.8h0M505.7 126.7h0M475.9 159.7h0M473.8 164.8h0M479.5 158.9h0M503.6 129.4h0M448.2 183.9h0M521.0 109.7h0M484.3 151.5h0M477.4 158.9h0M501.6 141.2h0M516.9 115.0h0M501.5 129.1h0M517.0 122.6h0M498.0 141.2h0M520.2 111.8h0M520.2 113.6h0M493.1 140.3h0M525.2 106.0h0M495.5 144.5h0M494.8 141.8h0M475.9 157.3h0M486.3 150.0h0M510.2 127.1h0M454.6 173.7h0M508.1 123.9h0M501.1 122.9h0M499.3 145.2h0M453.2 192.8h0M487.0 140.0h0M508.1 132.0h0M474.2 162.6h0M496.0 146.4h0M446.2 199.9h0M506.2 123.8h0M481.3 151.0h0M511.3 121.6h0M459.3 175.7h0M507.5 121.6h0M489.9 154.5h0M512.2 116.4h0M475.9 157.3h0M482.2 162.6h0M542.0 80.4h0M475.9 158.9h0M477.1 155.9h0M489.9 139.2h0M470.9 175.7h0M517.8 120.9h0M531.2 98.7h0M479.2 159.7h0M463.8 187.8h0M519.3 106.8h0M518.1 113.3h0M509.8 132.8h0M518.4 117.6h0M475.1 158.1h0M493.1 136.2h0M463.8 199.9h0M463.0 178.1h0M515.4 122.6h0M471.9 168.7h0M542.5 90.8h0M492.7 151.0h0M479.8 160.6h0M509.0 116.0h0M532.9 97.5h0M502.8 126.7h0M469.2 164.8h0M502.3 133.1h0M523.6 105.6h0M482.7 164.8h0M477.4 161.6h0M515.2 113.7h0M499.3 141.8h0M470.3 167.3h0M485.9 141.8h0M476.7 150.0h0M499.9 139.7h0M494.4 145.6h0M519.0 113.2h0M510.0 123.8h0M455.9 199.9h0M503.7 130.3h0M511.9 117.7h0M502.4 131.0h0M514.6 101.8h0M481.0 147.7h0M468.6 159.7h0M513.1 114.1h0M466.7 152.7h0M443.8 178.1h0M515.9 122.0h0M470.9 160.6h0M485.0 147.7h0M464.6 187.8h0M459.3 170.2h0M465.3 170.2h0M485.7 157.3h0M501.2 135.6h0M448.2 212.0h0M510.1 134.9h0M469.2 170.2h0M474.2 178.1h0M505.6 123.5h0M494.1 160.6h0M457.1 178.1h0M533.4 108.2h0M472.4 164.8h0M499.2 136.5h0M498.0 142.4h0M524.8 110.7h0M482.4 158.1h0M515.5 121.5h0M473.3 159.7h0M516.3 111.9h0M474.7 158.1h0M485.4 152.1h0M535.9 96.2h0M500.2 141.8h0M493.1 142.7h0M542.1 78.8h0M500.1 138.9h0M478.1 155.9h0M508.5 124.6h0M471.9 160.6h0M516.8 119.2h0M519.6 112.5h0M484.7 150.0h0M479.5 163.6h0M498.3 133.9h0M495.3 146.4h0M469.2 173.7h0M506.7 131.9h0M459.3 199.9h0M483.8 153.9h0M485.0 158.1h0M484.7 148.6h0M499.2 136.5h0M464.6 173.7h0M505.2 120.9h0M489.1 145.6h0M482.4 155.2h0M465.3 170.2h0M464.6 187.8h0M501.3 126.8h0M465.3 170.2h0M494.0 138.4h0M517.6 117.1h0M515.4 120.4h0M526.4 105.5h0M488.0 154.5h0M472.4 171.8h0M516.8 125.8h0M499.1 141.2h0M518.3 108.8h0M493.5 143.1h0M518.4 127.8h0M511.6 116.6h0M506.8 130.3h0M505.2 148.6h0M502.6 131.5h0M501.0 132.0h0M499.0 135.1h0M515.7 109.1h0M477.1 161.6h0M532.3 97.3h0M493.8 147.7h0M514.7 118.2h0M487.8 134.7h0M492.5 143.4h0M537.2 92.9h0M487.0 161.6h0M469.2 170.2h0M477.1 164.8h0M484.0 145.2h0M540.3 96.0h0M496.9 137.4h0M513.3 125.9h0M472.4 158.9h0M499.3 142.7h0M508.2 122.5h0M533.0 86.2h0M475.1 153.9h0M506.0 136.5h0M501.0 130.3h0M468.0 160.6h0M492.7 138.4h0M488.8 162.6h0M441.2 199.9h0M504.5 138.7h0M505.7 120.6h0M485.7 150.0h0M466.7 180.7h0M526.0 102.6h0M497.2 135.8h0M514.0 127.0h0M525.0 100.8h0M484.5 156.6h0M512.6 136.2h0M489.9 141.8h0M490.9 136.0h0M491.9 140.0h0M492.8 141.5h0M518.2 123.2h0M495.2 131.3h0M490.4 136.5h0M490.0 145.6h0M499.4 127.4h0M475.5 166.0h0M480.4 146.4h0M493.3 135.8h0M479.5 157.3h0M494.0 153.9h0M478.8 162.6h0M537.1 95.5h0M523.3 107.4h0M504.7 132.0h0M489.9 146.4h0M540.9 92.8h0M501.2 133.5h0M493.8 137.9h0M499.0 132.8h0M501.6 138.9h0M523.2 108.6h0M492.4 143.4h0M538.1 89.4h0M477.8 159.7h0M507.9 119.8h0M471.4 166.0h0M532.8 98.7h0M483.0 154.5h0M495.2 143.8h0M514.5 118.8h0M520.8 112.9h0M462.2 171.8h0M484.7 157.3h0M468.6 170.2h0M495.8 138.9h0M490.0 143.1h0M489.0 141.5h0M476.3 160.6h0M482.4 164.8h0M476.7 158.1h0M506.8 136.5h0M525.4 114.5h0M450.1 171.8h0M493.4 141.8h0M483.5 155.9h0M506.8 135.6h0M472.4 168.7h0M489.5 153.3h0M469.8 171.8h0M505.4 129.1h0M493.3 130.3h0M489.0 152.1h0M501.1 126.7h0M486.8 150.5h0M463.8 171.8h0M506.2 133.3h0M498.2 132.6h0M489.0 151.0h0M514.7 124.7h0M519.5 113.0h0M470.3 166.0h0M476.3 151.5h0M527.6 98.2h0M524.0 104.7h0M481.3 168.7h0M460.3 171.8h0M479.8 168.7h0M486.5 155.2h0M453.2 163.6h0M493.7 154.5h0M466.0 173.7h0M466.7 160.6h0M514.1 122.9h0M480.4 152.7h0M492.5 142.4h0M505.8 124.1h0M512.0 112.1h0M485.2 151.0h0M493.7 138.9h0M475.9 162.6h0M531.0 99.8h0M506.6 120.6h0M464.6 154.5h0M492.4 139.5h0M509.9 132.0h0M504.3 137.9h0M532.9 107.5h0M524.9 109.5h0M483.2 144.8h0M491.4 162.6h0M464.6 180.7h0M498.5 129.9h0M497.2 150.0h0M551.4 77.1h0M493.7 148.1h0M455.9 183.9h0M481.9 151.5h0M497.4 139.2h0M457.1 170.2h0M475.1 158.9h0M482.4 149.5h0M500.9 125.6h0M489.3 137.2h0M471.4 166.0h0M510.3 127.4h0M481.0 156.6h0M482.4 155.9h0M468.0 178.1h0M478.8 159.7h0M505.3 124.5h0M448.2 183.9h0M493.8 136.5h0M507.5 127.2h0M489.1 149.5h0M498.0 138.1h0M468.6 158.9h0M522.0 110.3h0M517.4 113.0h0M498.1 137.2h0M464.6 183.9h0M468.6 161.6h0M513.7 118.7h0M531.3 103.1h0M501.8 142.7h0M521.0 111.6h0M482.2 159.7h0M490.2 151.0h0M492.7 132.2h0M503.7 140.3h0M463.0 170.2h0M513.3 112.4h0M522.2 105.6h0M462.2 161.6h0M453.2 173.7h0M500.1 138.9h0M477.8 151.5h0M450.1 212.0h0M512.8 112.3h0M493.1 137.6h0M483.0 151.5h0M538.8 89.8h0M495.1 142.7h0M475.9 154.5h0M497.6 143.1h0M475.9 167.3h0M478.1 167.3h0M503.5 131.2h0M479.5 161.6h0M483.8 155.9h0M529.6 101.2h0M513.3 122.1h0M512.9 126.6h0M505.9 133.3h0M504.9 137.6h0M526.0 96.4h0M494.5 152.7h0M532.8 89.7h0M470.3 160.6h0M489.5 142.4h0M466.7 173.7h0M488.4 149.0h0M504.7 125.0h0M524.7 103.1h0M479.2 159.7h0M491.6 145.2h0M485.4 139.5h0M480.1 149.5h0M470.3 166.0h0M493.7 146.4h0M466.7 175.7h0M496.2 138.1h0M489.3 137.6h0M482.7 159.7h0M469.8 166.0h0M460.3 192.8h0M534.3 91.3h0M461.3 156.6h0M527.6 106.3h0M508.2 124.1h0M488.6 148.1h0M470.9 167.3h0M516.5 124.8h0M530.8 95.9h0M469.2 159.7h0M485.2 155.2h0M516.6 110.1h0M502.1 133.3h0M536.6 104.2h0M479.8 152.1h0M505.1 130.8h0M469.2 154.5h0M538.4 93.7h0M480.4 158.9h0M446.2 183.9h0M492.0 143.8h0M492.4 151.5h0M534.9 97.6h0M488.0 157.3h0M494.5 134.1h0M503.4 114.5h0M528.6 111.1h0M488.4 141.8h0M516.6 121.3h0M505.2 132.8h0M489.7 155.9h0M496.3 141.2h0M495.5 135.4h0M475.5 164.8h0M519.6 122.2h0M462.2 175.7h0M518.2 108.8h0M514.6 113.0h0M489.7 153.3h0M473.3 168.7h0M490.2 148.6h0M504.7 125.9h0M509.8 117.9h0M499.5 134.3h0M515.2 114.6h0M480.1 152.1h0M497.3 139.7h0M451.7 166.0h0M511.2 124.0h0M497.3 145.6h0M486.3 152.7h0M519.2 125.6h0M508.2 128.5h0M438.0 199.9h0M494.8 149.0h0M460.3 170.2h0M517.2 106.2h0M547.5 82.0h0M479.2 158.1h0M496.0 141.8h0M487.6 148.6h0M502.9 143.8h0M507.0 135.4h0M521.1 113.8h0M472.4 168.7h0M527.7 102.8h0M473.8 171.8h0M499.5 125.9h0M518.7 107.3h0M509.0 120.5h0M471.9 170.2h0M478.8 146.8h0M483.2 154.5h0M489.1 134.3h0M518.1 108.7h0M472.4 173.7h0M502.9 132.2h0M506.8 117.0h0M506.6 123.4h0M503.7 132.9h0M527.5 106.0h0M503.9 128.8h0M514.0 124.8h0M506.8 129.7h0M532.5 103.1h0M454.6 192.8h0M521.1 109.1h0M489.7 155.2h0M489.9 145.2h0M475.9 170.2h0M453.2 183.9h0M487.6 140.0h0M479.8 152.1h0M504.1 128.2h0M460.3 168.7h0M525.2 110.6h0M496.5 134.1h0M485.7 158.1h0M475.5 159.7h0M475.5 158.9h0M470.3 167.3h0M483.0 151.0h0M492.0 145.6h0M489.7 140.3h0M458.3 173.7h0M490.0 148.6h0M473.8 160.6h0M493.5 129.7h0M533.9 99.6h0M506.9 131.0h0M486.1 153.3h0M453.2 180.7h0M464.6 187.8h0M453.2 171.8h0M506.3 115.8h0M481.0 173.7h0M495.7 151.5h0M481.3 155.9h0M494.7 134.1h0M521.9 109.2h0M483.0 156.6h0M486.8 149.5h0M474.7 152.1h0M512.6 112.2h0M474.2 167.3h0M471.9 168.7h0M465.3 173.7h0M457.1 167.3h0M501.7 135.6h0M549.2 83.5h0M473.8 173.7h0M512.7 123.9h0M499.3 134.1h0M463.8 166.0h0M487.4 153.3h0M488.4 156.6h0M475.9 164.8h0M534.7 84.9h0M451.7 168.7h0M503.9 125.7h0M499.5 127.8h0M482.4 171.8h0M498.2 136.7h0M511.9 124.7h0M492.8 146.4h0M501.0 139.2h0M507.8 116.3h0M446.2 183.9h0M526.5 110.4h0M543.1 82.5h0M514.0 117.2h0M516.3 129.2h0M463.8 178.1h0M494.3 150.0h0M475.5 162.6h0M482.7 149.5h0M515.0 120.9h0M474.2 166.0h0M487.8 137.9h0M459.3 192.8h0M489.0 145.6h0M496.9 139.7h0M474.7 162.6h0M476.3 160.6h0M534.4 104.0h0M468.0 168.7h0M469.8 164.8h0M474.2 157.3h0M519.0 107.2h0M538.8 92.6h0M500.9 136.9h0M477.8 149.5h0M481.3 153.3h0M515.6 127.4h0M480.7 161.6h0M524.9 106.2h0M522.9 102.9h0M494.5 147.7h0M508.0 122.4h0M509.7 113.5h0M525.8 102.2h0M471.4 175.7h0M519.2 117.2h0M487.0 149.5h0M474.2 168.7h0M496.0 140.6h0M489.7 143.4h0M466.0 170.2h0M460.3 175.7h0M472.9 170.2h0M524.8 106.7h0M535.8 90.2h0M507.6 129.5h0M517.2 110.8h0M483.5 158.9h0M491.6 149.0h0M498.0 135.6h0M466.7 158.1h0M473.8 170.2h0M493.0 135.1h0M483.8 155.9h0M474.2 162.6h0M501.6 125.6h0M485.0 146.8h0M513.9 124.8h0M494.1 151.0h0M486.5 144.5h0M497.8 145.2h0M489.5 140.6h0M478.8 159.7h0M482.4 149.0h0M511.5 110.1h0M507.7 118.7h0M522.5 107.6h0M455.9 187.8h0M481.6 153.3h0M482.7 156.6h0M498.0 139.7h0M487.2 149.5h0M485.2 168.7h0M510.5 121.7h0M496.3 135.8h0M469.2 171.8h0M521.5 101.6h0M513.0 124.8h0M483.0 154.5h0M511.7 122.8h0M483.0 173.7h0M517.1 124.7h0M488.0 158.9h0M479.5 158.1h0M487.6 148.6h0M479.2 153.3h0M498.1 135.1h0M497.1 153.3h0M495.8 143.8h0M480.1 164.8h0M446.2 183.9h0M495.2 129.9h0M459.3 180.7h0M498.1 134.5h0M517.4 111.7h0M498.9 136.7h0M486.8 151.5h0M487.8 155.9h0M492.4 140.3h0M481.6 159.7h0M481.0 153.3h0M471.4 166.0h0M520.3 117.1h0M493.1 139.7h0M515.8 124.4h0M486.1 142.4h0M491.2 143.4h0M492.7 137.4h0M501.7 135.8h0M512.1 119.7h0M499.8 125.0h0M478.1 183.9h0M473.3 166.0h0M529.6 103.5h0M485.4 142.1h0M488.6 155.2h0M525.1 105.4h0M517.0 120.9h0M505.6 127.6h0M485.0 150.5h0M544.6 82.9h0M501.0 146.4h0M503.5 140.6h0M490.4 136.9h0M454.6 171.8h0M470.3 175.7h0M501.8 122.4h0M502.5 128.6h0M487.6 139.7h0M470.9 171.8h0M460.3 173.7h0M482.7 150.0h0M457.1 187.8h0M512.2 119.1h0M518.9 117.1h0M554.5 68.3h0M512.8 114.3h0M481.3 153.3h0M473.8 170.2h0M448.2 199.9h0M475.9 149.5h0M488.4 144.1h0M514.6 119.8h0M506.8 126.2h0M507.1 125.4h0M498.9 130.3h0M508.4 125.0h0M525.2 112.7h0M463.8 175.7h0M485.0 148.1h0M457.1 199.9h0M528.3 105.5h0M520.9 111.9h0M510.3 135.6h0M469.8 166.0h0M497.2 152.7h0M489.7 150.0h0M496.1 143.8h0M488.0 135.8h0M503.7 128.6h0M488.2 148.6h0M513.1 121.0h0M498.0 131.2h0M489.0 156.6h0M490.6 141.5h0M481.6 154.5h0M510.6 108.6h0M491.4 153.3h0M499.0 148.1h0M483.0 150.0h0M461.3 161.6h0M512.4 127.9h0M471.4 145.2h0M506.0 125.9h0M499.2 125.4h0M459.3 175.7h0M474.2 161.6h0M483.8 161.6h0M472.4 164.8h0M466.0 171.8h0M509.3 118.2h0M487.2 151.5h0M501.4 129.5h0M483.8 151.0h0M501.7 139.2h0M475.5 163.6h0M493.1 148.1h0M504.4 130.8h0M496.5 138.1h0M483.5 153.3h0M470.3 168.7h0M493.4 149.0h0M501.0 137.2h0M487.8 144.1h0M476.7 158.9h0M506.1 121.8h0M547.1 83.2h0M485.9 143.4h0M500.6 133.1h0M503.2 128.4h0M446.2 192.8h0M495.6 137.6h0M475.1 162.6h0M523.3 109.3h0M488.6 138.1h0M475.5 162.6h0M489.9 148.6h0M495.8 141.5h0M482.7 144.1h0M491.7 131.7h0M469.2 171.8h0M489.9 160.6h0M509.7 122.4h0M536.0 92.1h0M509.5 136.0h0M497.5 137.2h0M519.4 114.9h0M514.4 130.3h0M529.0 100.3h0M516.3 114.5h0M493.3 141.5h0M500.8 140.6h0M496.2 142.1h0M500.6 138.1h0M499.3 136.0h0M477.4 162.6h0M454.6 178.1h0M477.1 153.9h0M451.7 187.8h0M496.6 128.9h0M494.9 140.0h0M453.2 183.9h0M510.0 124.6h0M512.3 132.4h0M496.3 138.7h0M528.6 116.0h0M533.5 105.7h0M467.4 160.6h0M517.3 109.1h0M504.0 132.0h0M503.2 137.9h0M514.4 114.6h0M473.3 158.1h0M479.8 155.2h0M477.1 161.6h0M475.1 175.7h0M492.0 143.4h0M467.4 192.8h0M472.4 156.6h0M506.9 139.5h0M489.7 148.1h0M499.5 138.4h0M457.1 178.1h0M478.1 158.1h0M483.5 151.0h0M493.8 138.1h0M480.7 152.7h0M513.2 119.2h0M493.4 158.1h0M494.3 157.3h0M494.8 152.1h0M507.2 126.6h0M483.0 154.5h0M517.3 117.8h0M504.4 133.1h0M498.0 139.2h0M494.1 146.0h0M504.8 140.0h0M515.8 127.4h0M512.1 110.9h0M498.4 128.1h0M511.2 132.0h0M496.2 144.5h0M521.4 111.0h0M491.6 135.1h0M446.2 183.9h0M522.5 108.8h0M493.4 136.0h0M460.3 187.8h0M486.8 150.0h0M473.8 164.8h0M539.4 97.8h0M502.6 118.5h0M457.1 170.2h0M505.3 127.9h0M486.5 152.7h0M535.4 93.5h0M472.9 175.7h0M450.1 192.8h0M495.3 139.5h0M484.3 162.6h0M487.0 153.3h0M448.2 180.7h0M505.5 126.7h0M529.6 100.3h0M451.7 187.8h0M518.8 118.8h0M481.3 167.3h0M545.0 80.4h0M501.6 130.3h0M489.3 149.0h0M517.9 113.0h0M505.6 125.4h0M483.8 151.0h0M509.8 125.4h0M485.0 153.9h0M459.3 175.7h0M537.9 86.0h0M487.2 150.5h0M479.5 160.6h0M501.9 131.5h0M461.3 212.0h0M463.0 178.1h0M482.2 155.2h0M484.5 147.2h0M493.0 137.9h0M516.7 109.6h0M482.4 141.5h0M504.1 134.7h0M507.8 133.7h0M475.5 160.6h0M499.0 137.2h0M467.4 167.3h0M517.3 120.9h0M504.0 126.6h0M492.4 148.6h0M469.8 183.9h0M496.8 140.6h0M472.9 156.6h0M509.4 118.0h0M490.4 144.5h0M478.1 161.6h0M514.9 113.2h0M509.4 127.4h0M479.8 158.1h0M518.0 113.8h0M487.2 142.7h0M489.7 145.2h0M496.1 150.0h0M475.9 158.1h0M484.7 155.2h0M488.0 149.5h0M527.2 94.3h0M525.5 102.7h0M488.6 153.9h0M529.3 108.1h0M492.2 146.8h0M500.7 140.0h0M512.9 133.9h0M499.4 133.3h0M546.2 81.4h0M500.3 134.9h0M468.6 167.3h0M520.6 111.7h0M485.7 145.6h0M492.5 154.5h0M434.1 180.7h0M513.8 123.6h0M512.2 119.4h0M510.5 123.3h0M514.2 128.8h0M530.1 106.7h0M493.5 133.7h0M513.0 124.3h0M477.1 155.9h0M485.7 150.5h0M513.2 110.9h0M501.2 132.9h0M464.6 180.7h0M501.2 139.7h0M490.2 147.2h0M480.7 159.7h0M504.8 129.4h0M486.3 157.3h0M467.4 167.3h0M472.4 167.3h0M531.3 106.1h0M459.3 180.7h0M498.5 142.4h0M507.5 132.9h0M506.8 134.5h0M468.6 168.7h0M486.1 151.0h0M494.5 153.3h0M512.6 122.6h0M478.8 168.7h0M464.6 163.6h0M513.8 117.1h0M517.6 111.7h0M502.5 132.9h0M479.5 148.1h0M503.1 135.1h0M496.6 146.8h0M511.4 119.9h0M464.6 192.8h0M496.7 143.8h0M489.1 151.0h0M474.2 166.0h0M499.1 131.2h0M493.5 138.9h0M485.4 151.5h0M502.9 138.4h0M463.0 167.3h0M493.7 149.5h0M504.0 131.0h0M499.4 133.7h0M516.2 115.4h0M465.3 155.9h0M464.6 178.1h0M499.6 149.0h0M502.8 128.1h0M539.0 85.7h0M507.7 129.5h0M472.9 154.5h0M510.9 115.2h0M479.2 162.6h0M459.3 175.7h0M549.9 88.5h0M501.0 132.8h0M508.6 123.4h0M506.1 125.7h0M533.2 107.1h0M501.3 144.1h0M519.4 120.9h0M472.4 173.7h0M464.6 175.7h0M525.1 118.5h0M526.7 109.9h0M503.6 131.5h0M496.5 135.4h0M497.1 138.1h0M480.4 161.6h0M526.6 105.4h0M507.9 125.0h0M504.0 131.9h0M501.4 131.9h0M516.2 120.0h0M505.8 133.9h0M509.0 126.2h0M466.7 178.1h0M504.8 126.2h0M541.2 101.2h0M483.5 155.9h0M492.0 146.8h0M511.7 111.7h0M515.4 114.0h0M506.8 131.9h0M453.2 199.9h0M505.3 136.2h0M471.4 164.8h0M481.3 158.1h0M505.4 114.0h0M488.8 158.1h0M510.6 116.0h0M561.5 72.0h0M509.6 123.6h0M507.8 121.5h0M475.1 159.7h0M473.8 154.5h0M473.3 170.2h0M481.0 162.6h0M470.9 171.8h0M478.5 147.7h0M489.7 156.6h0M468.0 167.3h0M467.4 180.7h0M467.4 175.7h0M504.4 137.2h0M495.3 136.7h0M516.0 105.4h0M516.5 109.6h0M486.1 156.6h0M508.4 127.9h0M464.6 183.9h0M542.5 85.8h0M518.7 106.5h0M493.1 144.1h0M468.6 168.7h0M500.1 133.1h0M451.7 199.9h0M475.5 180.7h0M509.4 128.5h0M495.2 140.6h0M484.3 145.6h0M513.9 120.8h0M474.2 161.6h0M499.7 132.4h0M483.0 146.4h0M475.5 159.7h0M503.1 140.6h0M474.7 162.6h0M534.3 95.3h0M481.9 154.5h0M537.2 102.8h0M465.3 164.8h0M506.6 139.5h0M469.2 183.9h0M469.2 175.7h0M497.8 142.7h0M507.9 122.4h0M462.2 158.9h0M519.4 115.1h0M477.8 150.5h0M497.1 142.4h0M500.6 128.9h0M507.3 134.9h0M454.6 183.9h0M528.6 106.6h0M504.2 127.9h0M484.5 144.1h0M466.7 178.1h0M457.1 173.7h0M461.3 175.7h0M505.4 128.1h0M485.4 144.8h0M468.0 162.6h0M481.0 161.6h0M527.7 111.7h0M485.7 143.4h0M480.7 160.6h0M522.6 108.5h0M503.1 138.7h0M496.2 131.7h0M477.1 159.7h0M461.3 183.9h0M468.0 178.1h0M483.5 155.9h0M488.4 147.2h0M500.3 131.7h0M507.0 127.8h0M498.0 128.9h0M498.6 133.7h0M469.8 163.6h0M454.6 187.8h0M483.0 160.6h0M473.3 157.3h0M479.2 157.3h0M490.4 158.1h0M468.0 163.6h0M472.4 170.2h0M491.6 134.3h0M497.2 141.2h0M480.1 155.2h0M504.8 129.1h0M489.0 158.1h0M471.9 167.3h0M494.4 146.0h0M534.3 90.4h0M470.3 152.1h0M519.1 116.4h0M523.0 122.1h0M525.6 107.2h0M472.4 161.6h0M537.5 92.0h0M494.9 140.3h0M490.0 153.9h0M487.2 146.4h0M504.8 131.5h0M494.3 132.9h0M488.2 152.1h0M520.4 116.6h0M479.5 158.1h0M469.2 167.3h0M510.8 126.3h0M507.5 128.2h0M516.2 119.2h0M472.9 170.2h0M516.2 109.2h0M501.9 128.9h0M531.2 108.4h0M467.4 160.6h0M498.4 133.1h0M488.4 150.5h0M464.6 168.7h0M478.5 159.7h0M517.2 113.0h0M481.9 158.9h0M479.2 160.6h0M513.3 128.1h0M516.3 119.3h0M514.7 125.7h0M470.9 153.3h0M493.0 148.6h0M516.3 118.5h0M481.3 152.1h0M478.1 155.9h0M512.1 122.4h0M527.7 106.5h0M473.8 173.7h0M441.2 212.0h0M457.1 170.2h0M475.5 159.7h0M491.2 149.5h0M505.1 130.5h0M488.2 144.8h0M479.5 157.3h0M496.2 127.6h0M474.2 171.8h0M495.2 139.7h0M479.8 155.9h0M551.2 82.3h0M512.5 118.2h0M472.4 162.6h0M473.8 164.8h0M485.2 149.0h0M468.0 178.1h0M476.3 155.9h0M480.1 155.2h0M513.2 114.8h0M479.2 155.9h0M479.5 168.7h0M468.0 180.7h0M466.0 166.0h0M494.3 134.3h0M489.1 162.6h0M518.5 116.1h0M474.2 157.3h0M517.1 111.8h0M499.0 136.9h0M491.4 152.7h0M448.2 192.8h0M463.0 175.7h0M509.9 126.2h0M524.8 110.7h0M498.2 143.4h0M510.5 124.3h0M484.3 158.9h0M488.8 139.2h0M477.8 155.9h0M514.1 116.6h0M502.0 140.6h0M488.2 158.9h0M485.9 159.7h0M504.1 131.2h0M501.2 121.8h0M471.9 156.6h0M530.6 105.5h0M498.7 129.7h0M490.2 136.5h0M524.5 110.0h0M516.0 114.1h0M489.0 146.4h0M505.0 133.3h0M470.9 183.9h0M478.8 151.5h0M443.8 199.9h0M519.2 122.5h0M453.2 192.8h0M508.6 123.0h0M472.4 178.1h0M475.1 159.7h0M490.9 150.5h0M498.7 131.7h0M506.1 119.7h0M531.4 110.5h0M501.0 138.4h0M511.2 110.0h0M481.6 155.2h0M510.2 126.7h0M496.2 137.4h0M485.2 147.2h0M488.4 137.9h0M490.0 145.6h0M495.6 140.0h0M500.3 133.9h0M481.9 151.5h0M475.1 149.0h0M509.8 126.3h0M446.2 167.3h0M478.5 164.8h0M526.4 103.8h0M448.2 183.9h0M479.5 154.5h0M507.3 122.5h0M457.1 183.9h0M549.8 85.7h0M448.2 199.9h0M524.6 105.9h0M527.2 108.8h0M513.6 132.6h0M490.9 153.9h0M501.3 131.9h0M474.7 159.7h0M508.6 130.7h0M477.8 170.2h0M489.3 155.9h0M515.9 123.3h0M470.3 144.1h0M486.1 148.6h0M495.8 140.9h0M469.8 167.3h0M518.3 121.5h0M500.9 146.8h0M458.3 173.7h0M491.7 145.2h0M476.3 155.2h0M480.4 164.8h0M495.1 137.2h0M478.5 155.2h0M514.1 130.3h0M473.3 152.7h0M515.2 127.4h0M491.7 143.8h0M513.7 112.1h0M481.0 156.6h0M486.8 166.0h0M465.3 166.0h0M507.0 127.2h0M512.9 114.4h0M539.9 94.5h0M521.4 111.2h0M500.8 136.2h0M487.2 140.0h0M502.0 142.4h0M493.0 146.0h0M525.5 112.2h0M511.7 119.5h0M473.3 163.6h0M479.2 153.9h0M522.5 102.7h0M501.5 147.2h0M487.8 155.2h0M518.4 120.9h0M485.2 151.0h0M487.4 145.2h0M485.2 159.7h0M450.1 199.9h0M512.8 125.2h0M466.7 163.6h0M477.1 151.5h0M476.3 158.1h0M510.3 116.8h0M492.7 140.0h0M493.1 155.2h0M451.7 183.9h0M488.2 146.8h0M457.1 168.7h0M498.6 129.5h0M502.1 134.5h0M493.4 140.0h0M538.3 101.9h0M506.1 142.7h0M507.3 133.1h0M497.8 142.1h0M486.3 164.8h0M515.8 117.8h0M517.3 116.7h0M471.4 160.6h0M516.1 109.7h0M506.5 126.6h0M513.6 122.7h0M504.4 134.7h0M470.3 175.7h0M469.8 171.8h0M532.5 92.4h0M500.4 131.5h0M466.7 178.1h0M501.7 140.0h0M488.2 128.4h0M455.9 180.7h0M450.1 192.8h0M451.7 173.7h0M499.9 127.8h0M492.7 142.1h0M489.7 141.2h0M500.6 144.1h0M506.3 125.8h0M453.2 192.8h0M486.5 146.4h0M477.1 158.9h0M464.6 183.9h0M480.7 142.7h0M490.6 158.1h0M489.0 138.9h0M462.2 180.7h0M482.7 153.9h0M536.5 98.4h0M470.9 148.1h0M459.3 166.0h0M498.1 127.0h0M505.9 123.8h0M502.1 126.7h0M472.9 168.7h0M515.2 120.3h0M472.9 156.6h0M465.3 162.6h0M478.5 159.7h0M490.2 155.2h0M508.7 128.1h0M507.0 126.1h0M493.1 148.1h0M513.6 115.6h0M496.5 140.6h0M512.4 129.4h0M461.3 171.8h0M463.0 171.8h0M511.1 126.2h0M468.6 175.7h0M486.5 146.8h0M491.1 153.3h0M479.8 160.6h0M483.5 152.1h0M523.9 114.1h0M443.8 192.8h0M513.8 107.4h0M543.3 79.8h0M494.8 141.2h0M493.8 137.6h0M508.9 123.5h0M532.9 94.3h0M468.6 173.7h0M495.6 144.5h0M486.3 150.5h0M506.9 119.0h0M494.5 131.2h0M507.2 131.3h0M482.2 144.1h0M494.1 145.6h0M478.1 150.5h0M480.7 164.8h0M489.0 140.0h0M491.7 144.1h0M465.3 168.7h0M527.4 105.6h0M490.9 142.4h0M461.3 180.7h0M517.1 122.9h0M478.5 150.5h0M506.2 134.9h0M488.8 153.9h0M496.7 152.7h0M495.6 157.3h0M484.7 162.6h0M493.5 133.1h0M537.8 103.4h0M443.8 199.9h0M495.1 155.9h0M501.9 128.5h0M473.3 159.7h0M465.3 168.7h0M540.7 84.1h0M487.6 143.4h0M538.9 87.9h0M504.8 132.6h0M495.5 151.0h0M504.4 138.4h0M505.9 136.0h0M518.1 105.4h0M503.5 134.9h0M494.7 141.2h0M497.2 137.9h0M522.3 97.9h0M510.6 126.2h0M470.9 155.9h0M476.7 151.0h0M501.3 136.9h0M480.4 170.2h0M481.6 146.0h0M478.8 173.7h0M489.7 149.0h0M503.6 132.8h0M515.0 119.1h0M493.1 132.4h0M538.2 98.1h0M489.1 143.1h0M563.0 66.0h0M516.3 118.8h0M506.1 125.4h0M481.3 157.3h0M441.2 199.9h0M492.5 151.0h0M496.2 152.7h0M535.3 96.9h0M469.8 168.7h0M534.4 101.0h0M489.1 149.5h0M510.7 128.6h0M422.0 212.0h0M497.6 138.1h0M484.7 147.7h0M508.2 135.6h0M496.9 132.2h0M471.9 158.9h0M514.4 126.3h0M508.4 117.9h0M507.1 128.1h0M515.0 109.9h0M514.8 124.5h0M491.6 136.2h0M467.4 187.8h0M459.3 178.1h0M522.5 106.6h0M509.3 131.3h0M498.3 148.1h0M482.4 153.9h0M494.0 154.5h0M496.3 141.2h0M484.5 158.1h0M477.1 164.8h0M540.5 83.4h0M499.7 137.2h0M479.8 158.1h0M463.8 171.8h0M478.8 170.2h0M510.2 119.5h0M510.1 129.2h0M489.0 151.0h0M493.1 137.6h0M487.8 148.1h0M468.6 164.8h0M520.5 101.3h0M501.6 146.0h0M547.6 84.4h0M475.9 170.2h0M489.5 146.0h0M512.6 119.1h0M487.2 136.7h0M463.8 192.8h0M474.2 160.6h0M494.8 133.1h0M500.8 138.7h0M493.8 134.3h0M514.4 118.1h0M514.4 125.3h0M502.9 131.9h0M492.2 154.5h0M487.4 141.2h0M506.1 124.1h0M512.5 122.5h0M495.6 139.7h0M503.5 130.5h0M484.7 135.1h0M466.7 178.1h0M473.8 166.0h0M510.3 138.1h0M500.8 134.9h0M528.5 114.9h0M491.7 141.2h0M512.2 121.4h0M523.1 113.5h0M515.3 124.8h0M482.4 147.2h0M487.8 143.1h0M496.0 137.9h0M466.7 163.6h0M505.4 137.9h0M515.9 123.0h0M479.5 142.7h0M536.8 96.8h0M489.7 156.6h0M488.6 146.8h0M488.0 155.9h0M479.5 160.6h0M501.0 134.1h0M492.8 144.5h0M528.9 104.1h0M506.8 125.8h0M503.0 139.7h0M491.4 161.6h0M463.0 167.3h0M492.7 149.5h0M469.2 157.3h0M514.4 117.9h0M493.0 150.5h0M529.2 99.9h0M507.7 131.5h0M511.3 123.0h0M498.5 131.2h0M498.9 125.0h0M507.5 128.1h0M513.6 117.8h0M475.1 158.1h0M502.7 126.3h0M550.4 95.3h0M493.0 146.4h0M488.8 148.1h0M485.0 155.9h0M462.2 178.1h0M519.0 109.5h0M494.4 133.9h0M498.7 134.9h0M533.3 101.0h0M547.8 86.3h0M475.5 161.6h0M517.3 110.9h0M508.2 118.8h0M501.5 135.6h0M503.2 136.9h0M493.4 142.4h0M527.7 99.6h0M506.0 127.5h0M500.3 131.0h0M520.4 111.0h0M512.3 119.9h0M503.9 132.4h0M502.6 141.5h0M530.5 105.2h0M505.1 130.3h0M493.4 141.2h0M470.9 166.0h0M484.5 148.1h0M473.3 160.6h0M495.3 144.8h0M499.2 133.5h0M451.7 187.8h0M490.6 146.0h0M507.7 137.9h0M497.4 143.8h0M472.4 175.7h0M521.0 107.5h0M478.8 162.6h0M470.9 163.6h0M470.9 161.6h0M492.7 145.2h0M512.9 117.1h0M517.6 111.6h0M496.9 148.1h0M468.6 173.7h0M478.8 166.0h0M474.2 157.3h0M488.8 141.8h0M454.6 180.7h0M495.3 130.7h0M504.6 129.4h0M487.6 142.1h0M504.6 129.9h0M472.9 167.3h0M469.2 171.8h0M474.2 155.2h0M518.4 107.6h0M515.3 118.2h0M483.0 153.9h0M519.4 116.6h0M487.6 157.3h0M525.6 116.0h0M505.7 129.2h0M485.0 147.2h0M508.7 124.8h0M476.3 167.3h0M472.9 159.7h0M453.2 163.6h0M500.8 136.5h0M489.3 132.2h0M491.7 151.5h0M482.4 149.5h0M524.5 105.6h0M483.2 151.0h0M475.1 159.7h0M519.7 118.7h0M525.4 112.0h0M500.1 127.1h0M463.0 166.0h0M484.3 157.3h0M505.4 126.7h0M494.0 138.7h0M527.3 100.6h0M465.3 178.1h0M509.3 124.1h0M477.8 149.0h0M521.9 118.4h0M489.7 143.4h0M515.1 126.7h0M478.5 167.3h0M462.2 183.9h0M472.4 178.1h0M481.0 158.9h0M471.9 154.5h0M521.1 114.1h0M522.3 113.2h0M498.1 138.9h0M470.3 173.7h0M492.4 141.8h0M476.7 156.6h0M525.4 111.9h0M500.8 140.9h0M503.7 134.9h0M482.2 148.6h0M459.3 187.8h0M473.3 152.1h0M466.0 164.8h0M500.9 127.0h0M494.0 148.1h0M481.0 164.8h0M484.5 150.0h0M527.1 103.7h0M476.3 178.1h0M473.3 148.6h0M486.3 150.5h0M483.5 152.1h0M483.5 156.6h0M505.3 123.2h0M530.6 97.8h0M451.7 173.7h0M495.1 153.3h0M495.3 140.0h0M490.0 146.4h0M491.2 144.8h0M488.0 143.1h0M516.3 122.4h0M483.2 145.2h0M491.2 141.8h0M491.2 140.3h0M495.5 139.7h0M487.6 152.7h0M515.2 125.2h0M493.3 151.5h0M495.8 130.7h0M492.2 143.4h0M468.6 168.7h0M477.1 171.8h0M472.4 171.8h0M495.2 152.1h0M477.8 158.9h0M467.4 163.6h0M499.7 148.1h0M505.5 134.7h0M458.3 180.7h0M530.2 104.8h0M495.6 148.6h0M490.4 145.6h0M516.4 117.2h0M494.0 143.8h0M474.7 152.7h0M540.8 91.6h0M466.7 171.8h0M490.9 145.2h0M511.0 134.3h0M469.8 158.1h0M488.8 153.9h0M502.8 135.8h0M545.9 85.2h0M467.4 157.3h0M493.1 143.4h0M507.8 121.0h0M494.9 146.0h0M464.6 164.8h0M505.2 131.5h0M498.0 141.2h0M504.8 136.9h0M517.7 107.8h0M515.9 123.7h0M501.1 133.7h0M501.7 136.2h0M470.3 173.7h0M490.9 146.4h0M495.3 141.2h0M486.5 147.2h0M496.3 136.7h0M478.1 167.3h0M526.6 99.4h0M540.7 97.6h0M482.2 142.4h0M501.0 137.9h0M488.4 145.2h0M520.6 112.2h0M503.7 132.4h0M493.4 155.2h0M490.9 140.9h0M496.5 144.1h0M471.4 168.7h0M508.2 121.3h0M475.5 163.6h0M504.7 120.1h0M497.6 127.4h0M518.5 113.7h0M491.7 143.1h0M515.3 114.1h0M469.2 170.2h0M505.9 126.6h0M485.0 143.8h0M497.9 139.7h0M494.1 140.9h0M515.0 127.5h0M451.7 180.7h0M500.3 127.2h0M459.3 199.9h0M519.1 116.1h0M453.2 187.8h0M475.1 166.0h0M455.9 175.7h0M529.8 109.9h0M464.6 178.1h0M494.8 133.1h0M480.7 158.1h0M453.2 178.1h0M485.7 155.9h0M508.7 129.7h0M490.7 148.6h0M514.1 122.1h0M484.7 152.7h0M493.0 131.5h0M483.0 152.7h0M502.8 133.3h0M535.3 91.8h0M501.0 138.1h0M498.3 139.2h0M481.9 156.6h0M473.8 164.8h0M525.6 105.4h0M470.3 158.9h0M473.8 160.6h0M491.9 143.8h0M478.8 151.0h0M535.4 105.4h0M441.2 183.9h0M503.3 131.9h0M509.4 121.8h0M473.8 167.3h0M479.8 155.9h0M503.8 135.6h0M529.0 104.4h0M475.1 163.6h0M455.9 178.1h0M514.6 120.5h0M526.6 109.2h0M487.4 147.2h0M453.2 192.8h0M524.9 111.2h0M488.0 163.6h0M518.3 125.0h0M489.0 153.3h0M483.5 147.7h0M485.7 153.9h0M524.9 108.2h0M524.5 103.5h0M457.1 192.8h0M474.2 153.3h0M531.6 99.0h0M482.2 155.2h0M467.4 175.7h0M493.1 150.5h0M491.1 148.6h0M491.1 147.2h0M485.0 155.9h0M484.0 153.9h0M484.3 163.6h0M501.1 136.7h0M476.7 160.6h0M485.7 133.9h0M491.6 134.7h0M521.7 110.6h0M501.0 140.6h0M489.1 140.6h0M504.3 136.9h0M501.4 131.7h0M517.3 115.0h0M503.8 132.6h0M532.0 99.8h0M521.6 113.7h0M493.0 149.5h0M484.0 144.8h0M514.0 117.5h0M506.2 132.4h0M489.9 152.1h0M460.3 167.3h0M454.6 183.9h0M500.2 127.4h0M510.3 117.1h0M512.0 121.1h0M459.3 192.8h0M516.5 106.8h0M479.2 144.8h0M503.5 129.1h0M501.5 125.8h0M477.8 175.7h0M478.5 157.3h0M441.2 199.9h0M470.9 156.6h0M450.1 187.8h0M502.0 133.5h0M497.2 130.8h0M514.7 118.2h0M500.2 138.4h0M475.5 148.6h0M500.3 141.5h0M483.2 148.1h0M506.6 127.4h0M500.3 130.7h0M466.7 163.6h0M495.6 144.8h0M496.9 139.7h0M489.0 155.2h0M513.8 119.2h0M530.5 104.0h0M487.8 143.4h0M485.9 157.3h0M454.6 183.9h0M492.8 140.9h0M487.4 145.2h0M446.2 187.8h0M498.9 134.7h0M504.5 124.7h0M480.4 158.9h0M481.6 151.5h0M473.8 166.0h0M509.7 130.3h0M461.3 178.1h0M488.0 141.2h0M535.4 102.4h0M490.6 144.1h0M502.6 146.8h0M490.7 150.0h0M473.8 175.7h0M492.5 131.7h0M500.6 128.5h0M473.8 168.7h0M501.4 122.6h0M520.5 108.3h0M517.0 118.3h0M462.2 164.8h0M471.9 163.6h0M462.2 173.7h0M516.7 129.7h0M507.9 136.5h0M508.1 126.8h0M473.8 171.8h0M474.7 167.3h0M494.5 138.4h0M497.4 144.8h0M469.8 152.7h0M498.9 143.1h0M505.6 123.4h0M499.2 146.0h0M472.9 171.8h0M451.7 183.9h0M488.6 155.2h0M500.2 141.5h0M487.6 146.4h0M483.2 146.4h0M481.0 162.6h0M508.1 130.2h0M492.5 148.1h0M499.3 155.2h0M469.8 163.6h0M481.9 146.0h0M496.5 128.6h0M475.1 173.7h0M465.3 171.8h0M486.3 148.1h0M519.9 111.8h0M496.0 148.1h0M525.5 114.7h0M488.6 139.5h0M488.2 145.2h0M457.1 183.9h0M480.1 163.6h0M523.8 111.4h0M499.7 137.6h0M509.2 130.3h0M507.2 140.6h0M493.0 138.7h0M488.2 147.7h0M492.8 145.2h0M509.6 117.3h0M503.2 128.4h0M503.4 135.6h0M497.6 139.2h0M476.7 175.7h0M487.2 143.1h0M476.7 167.3h0M516.3 119.5h0M443.8 192.8h0M488.4 138.4h0M545.6 89.2h0M489.5 157.3h0M466.0 160.6h0M494.0 143.1h0M521.7 104.5h0M490.2 153.9h0M506.8 126.8h0M492.8 145.2h0M484.3 150.0h0M561.9 70.6h0M495.5 146.8h0M479.8 145.6h0M484.5 152.1h0M500.4 140.6h0M502.1 135.1h0M509.8 129.5h0M497.5 147.2h0M454.6 180.7h0M504.6 131.3h0M487.0 148.1h0M487.6 151.0h0M466.0 183.9h0M481.9 156.6h0M479.2 155.9h0M493.5 153.3h0M457.1 173.7h0M493.8 137.2h0M496.3 145.6h0M472.4 167.3h0M477.8 155.9h0M474.2 168.7h0M513.4 128.4h0M429.1 192.8h0M482.2 145.6h0M463.0 187.8h0M482.4 146.0h0M512.3 136.9h0M479.8 163.6h0M498.2 148.1h0M471.4 155.2h0M535.4 101.5h0M513.2 116.8h0M518.1 128.5h0M461.3 168.7h0M464.6 163.6h0M517.0 116.1h0M483.8 158.1h0M487.8 145.2h0M500.8 130.8h0M458.3 153.9h0M511.9 124.7h0M496.8 152.1h0M503.7 129.9h0M476.3 153.9h0M504.8 132.2h0M480.7 152.7h0M515.5 125.0h0M517.3 115.3h0M511.2 118.3h0M503.4 135.6h0M506.0 111.4h0M422.0 212.0h0M511.8 121.3h0M488.2 155.2h0M496.5 139.5h0M488.6 145.2h0M466.0 187.8h0M478.5 164.8h0M507.6 130.3h0M524.0 109.3h0M479.8 170.2h0M469.2 170.2h0M524.2 112.0h0M471.9 158.1h0M538.5 91.1h0M493.4 153.9h0M473.3 159.7h0M514.3 122.9h0M529.6 105.7h0M463.8 170.2h0M527.2 100.5h0M482.4 145.2h0M525.1 104.2h0M484.0 153.9h0M461.3 183.9h0M504.1 136.5h0M512.8 122.0h0M538.6 95.8h0M531.8 103.6h0M509.6 123.4h0M490.7 146.8h0M479.8 156.6h0M486.8 146.8h0M481.3 156.6h0M489.7 149.0h0M438.0 187.8h0M498.1 136.7h0M492.2 140.3h0M548.7 82.1h0M509.3 129.9h0M483.2 160.6h0M507.6 117.4h0M470.3 167.3h0M476.3 150.5h0M453.2 192.8h0M523.5 110.2h0M506.1 112.4h0M467.4 175.7h0M494.3 143.4h0M513.2 120.9h0M505.2 140.6h0M505.4 140.6h0M475.5 163.6h0M479.5 154.5h0M493.4 145.6h0M513.0 116.6h0M470.3 161.6h0M464.6 158.1h0M518.2 107.7h0M471.9 159.7h0M517.6 123.5h0M498.4 146.0h0M512.9 117.0h0M530.4 99.5h0M508.6 129.1h0M510.5 115.1h0M472.4 183.9h0M480.7 157.3h0M506.6 136.9h0M527.4 105.6h0M523.9 113.0h0M544.3 90.7h0M498.3 126.7h0M500.1 134.3h0M515.6 127.5h0M491.4 143.1h0M493.5 137.9h0M468.6 175.7h0M515.0 121.8h0M472.9 175.7h0M504.3 133.3h0M462.2 173.7h0M515.9 114.0h0M471.4 175.7h0M510.9 111.5h0M464.6 183.9h0M482.2 155.2h0M518.8 104.1h0M480.1 151.5h0M494.0 138.7h0M483.5 153.3h0M446.2 192.8h0M501.0 126.6h0M504.4 132.8h0M471.9 166.0h0M505.1 125.9h0M471.4 152.7h0M478.5 164.8h0M493.3 132.9h0M479.8 153.9h0M542.9 86.2h0M458.3 187.8h0M509.3 123.0h0M514.7 113.8h0M454.6 173.7h0M448.2 173.7h0M505.4 128.4h0M483.2 153.9h0M503.2 124.5h0M517.7 118.3h0M483.8 158.9h0M474.2 163.6h0M441.2 192.8h0M498.5 138.1h0M475.9 162.6h0M498.9 140.3h0M497.3 152.1h0M461.3 175.7h0M530.3 109.0h0M516.3 117.0h0M512.1 124.4h0M468.0 168.7h0M487.4 155.2h0M480.7 159.7h0M488.6 154.5h0M466.0 162.6h0M502.2 139.5h0M499.0 133.1h0M501.6 133.5h0M483.8 152.1h0M521.1 110.1h0M497.3 139.5h0M434.1 192.8h0M481.0 157.3h0M492.4 137.2h0M516.1 122.0h0M483.0 155.2h0M486.1 153.3h0M483.2 151.0h0M509.6 129.4h0M482.7 147.7h0M483.0 162.6h0M476.7 154.5h0M505.0 127.8h0M480.7 161.6h0M454.6 175.7h0M509.3 118.2h0M481.3 156.6h0M501.5 130.5h0M499.9 136.2h0M518.4 116.1h0M516.1 115.6h0M477.1 158.1h0M491.7 134.9h0M466.7 168.7h0M530.7 104.9h0M502.4 134.5h0M523.8 118.4h0M485.4 153.9h0M443.8 192.8h0M526.4 118.7h0M495.8 134.9h0M498.6 132.9h0M494.8 141.2h0M506.7 132.8h0M505.1 127.8h0M459.3 187.8h0M517.8 110.4h0M482.4 168.7h0M481.6 153.3h0M531.0 103.5h0M512.8 121.3h0M490.0 155.2h0M446.2 199.9h0M497.1 142.1h0M507.6 137.2h0M492.5 149.5h0M468.6 161.6h0M477.4 146.8h0M471.4 159.7h0M498.3 131.2h0M511.8 113.1h0M514.7 118.4h0M475.1 166.0h0M497.6 126.1h0M505.6 135.1h0M482.4 158.9h0M492.0 149.0h0M539.4 85.0h0M499.6 139.2h0M511.8 118.8h0M482.4 158.1h0M492.2 146.8h0M457.1 183.9h0M490.2 141.5h0M518.9 121.8h0M538.3 98.8h0M519.1 120.9h0M509.1 120.3h0M493.0 140.3h0M475.5 153.3h0M490.2 140.0h0M508.3 133.5h0M475.1 158.1h0M513.9 123.5h0M473.8 175.7h0M463.0 187.8h0M466.7 155.9h0M459.3 180.7h0M464.6 162.6h0M518.5 125.8h0M489.5 152.7h0M497.1 141.2h0M518.3 121.5h0M521.5 109.6h0M480.7 166.0h0M522.8 116.9h0M504.1 128.4h0M493.5 146.4h0M502.7 128.2h0M461.3 173.7h0M477.4 178.1h0M490.6 152.7h0M508.8 128.1h0M486.5 150.5h0M492.0 140.3h0M514.4 134.5h0M524.2 103.4h0M510.9 119.0h0M520.2 105.0h0M485.9 155.9h0M488.6 157.3h0M500.7 139.7h0M487.8 149.0h0M484.3 153.3h0M529.1 105.8h0M486.5 148.6h0M469.8 162.6h0M502.4 137.6h0M533.5 89.9h0M495.7 147.2h0M519.6 110.1h0M480.1 149.5h0M482.4 156.6h0M483.0 155.2h0M491.6 137.2h0M533.5 100.9h0M468.0 159.7h0M529.1 103.0h0M472.4 159.7h0M489.7 143.1h0M512.6 126.1h0M506.3 129.1h0M501.0 133.5h0M457.1 183.9h0M500.2 131.2h0M474.2 166.0h0M548.4 81.7h0M490.0 139.5h0M497.5 133.1h0M466.7 163.6h0M480.7 158.1h0M467.4 170.2h0M515.5 116.9h0M487.6 141.5h0M504.5 128.4h0M479.8 149.0h0M484.0 159.7h0M520.9 106.3h0M473.3 171.8h0M458.3 183.9h0M503.2 136.9h0M466.7 162.6h0M485.2 145.2h0M511.9 130.0h0M478.1 162.6h0M511.8 125.9h0M479.2 163.6h0M525.2 113.6h0M522.0 116.2h0M479.8 146.8h0M488.0 136.2h0M474.2 168.7h0M497.1 140.3h0M518.1 117.1h0M462.2 178.1h0M513.0 122.2h0M466.0 164.8h0M476.3 158.9h0M457.1 183.9h0M538.7 96.4h0M494.9 134.5h0M498.1 141.8h0M475.1 152.7h0M516.4 123.5h0M451.7 212.0h0M491.9 142.4h0M541.5 92.2h0M483.2 157.3h0M494.9 138.9h0M507.9 134.3h0M473.3 163.6h0M494.0 133.1h0M514.0 122.9h0M498.3 133.1h0M500.6 131.3h0M487.0 155.9h0M499.5 129.4h0M495.3 139.2h0M525.2 109.3h0M509.6 130.0h0M486.5 144.8h0M446.2 183.9h0M508.9 129.9h0M511.4 115.8h0M473.8 170.2h0M453.2 192.8h0M466.0 173.7h0M513.8 132.8h0M470.9 155.2h0M483.2 142.7h0M498.7 129.7h0M519.3 124.4h0M494.8 138.7h0M491.6 143.4h0M477.8 157.3h0M529.5 102.5h0M515.1 124.6h0M490.9 142.7h0M458.3 175.7h0M477.8 163.6h0M505.8 130.0h0M475.9 166.0h0M513.0 123.6h0M501.9 136.0h0M502.1 134.5h0M507.5 121.9h0M503.7 128.2h0M477.4 161.6h0M487.0 158.9h0M544.3 89.8h0M458.3 167.3h0M483.2 158.9h0M516.5 121.3h0M491.2 150.0h0M476.3 149.5h0M473.8 175.7h0M503.5 132.0h0M515.5 116.3h0M524.1 103.8h0M496.0 138.4h0M516.3 113.3h0M466.0 167.3h0M493.5 141.2h0M479.2 157.3h0M495.7 143.8h0M512.0 128.1h0M514.4 115.0h0M471.4 163.6h0M520.3 111.7h0M481.6 153.3h0M470.3 171.8h0M489.7 152.1h0M465.3 180.7h0M495.1 149.5h0M500.0 148.1h0M489.7 147.7h0M505.0 140.9h0M489.1 152.7h0M490.2 150.5h0M466.0 168.7h0M493.4 140.9h0M475.9 152.1h0M482.4 160.6h0M489.7 144.8h0M497.3 136.2h0M457.1 187.8h0M450.1 178.1h0M483.2 158.9h0M505.0 131.9h0M502.7 140.0h0M512.9 123.7h0M522.3 112.6h0M505.2 121.9h0M493.5 135.4h0M470.3 160.6h0M473.3 168.7h0M480.7 152.1h0M498.9 120.0h0M499.2 127.6h0M490.0 126.2h0M489.1 148.6h0M508.8 126.1h0M498.4 132.9h0M501.1 133.5h0M497.5 135.8h0M484.5 167.3h0M472.4 162.6h0M503.6 130.0h0M504.9 126.7h0M488.6 152.1h0M484.7 163.6h0M542.6 86.1h0M477.1 150.5h0M491.1 154.5h0M501.1 142.7h0M466.0 173.7h0M497.2 143.4h0M531.9 112.1h0M513.8 112.3h0M507.0 122.7h0M507.0 131.9h0M497.1 152.7h0M515.3 117.1h0M490.4 134.1h0M481.3 146.8h0M496.1 135.8h0M513.8 129.1h0M500.6 131.7h0M508.9 135.6h0M455.9 175.7h0M518.9 112.2h0M544.8 102.3h0M522.2 123.4h0M487.6 145.6h0M479.5 163.6h0M498.6 138.7h0M469.2 156.6h0M509.4 113.6h0M483.5 148.6h0M515.3 131.5h0M523.0 111.4h0M448.2 187.8h0M496.9 143.8h0M482.2 153.3h0M463.0 180.7h0M480.1 158.1h0M485.7 142.4h0M515.7 125.2h0M459.3 170.2h0M515.6 118.9h0M536.7 93.5h0M506.8 131.9h0M504.8 125.0h0M494.5 146.0h0M466.7 164.8h0M506.6 133.9h0M499.7 130.5h0M510.5 135.8h0M549.1 67.1h0M509.2 129.1h0M504.8 132.2h0M528.6 108.5h0M460.3 167.3h0M470.9 163.6h0M490.0 153.3h0M480.1 162.6h0M509.7 133.3h0M485.7 154.5h0M530.6 108.5h0M525.7 98.5h0M511.8 132.2h0M483.2 161.6h0M507.3 127.9h0M510.8 113.9h0M468.0 175.7h0M501.5 143.4h0M507.7 128.1h0M498.2 138.1h0M527.7 111.2h0M521.6 126.6h0M474.7 173.7h0M498.1 135.4h0M474.2 166.0h0M508.1 123.8h0M475.9 155.2h0M513.7 123.4h0M503.6 127.2h0M514.9 119.6h0M489.7 144.1h0M470.3 183.9h0M531.6 104.2h0M485.9 143.4h0M523.0 110.2h0M502.4 136.0h0M509.0 122.8h0M533.6 97.1h0M502.6 132.8h0M523.4 113.2h0M465.3 183.9h0M512.5 109.4h0M485.7 149.0h0M489.0 152.1h0M494.7 143.4h0M499.9 139.7h0M530.3 111.7h0M451.7 180.7h0M495.6 136.5h0M473.8 158.1h0M518.8 106.9h0M484.3 150.0h0M503.6 137.2h0M481.3 146.8h0M509.0 130.8h0M517.0 120.0h0M485.0 156.6h0M494.9 138.9h0M461.3 170.2h0M500.2 137.4h0M512.6 122.3h0M484.3 153.9h0M517.1 115.4h0M443.8 187.8h0M462.2 173.7h0M462.2 178.1h0M479.8 157.3h0M492.7 144.5h0M489.0 153.9h0M493.3 140.0h0M509.6 119.0h0M480.7 149.5h0M464.6 163.6h0M472.9 160.6h0M539.4 88.1h0M450.1 212.0h0M487.4 151.0h0M525.4 120.7h0M503.6 136.2h0M480.1 168.7h0M493.8 139.5h0M511.6 120.0h0M520.0 119.5h0M475.9 166.0h0M507.9 125.0h0M496.8 137.6h0M518.1 116.3h0M522.9 122.8h0M482.7 155.9h0M465.3 175.7h0M499.8 131.7h0M531.9 110.3h0M509.0 129.7h0M498.0 138.4h0M545.5 91.9h0M464.6 164.8h0M513.3 124.5h0M482.4 153.3h0M497.2 143.1h0M493.5 126.1h0M526.7 110.6h0M474.2 166.0h0M482.7 153.9h0M462.2 178.1h0M505.3 133.7h0M486.3 175.7h0M503.2 130.5h0M468.6 167.3h0M489.0 155.9h0M517.5 109.7h0M491.7 149.5h0M507.5 133.3h0M505.4 138.1h0M484.7 157.3h0M462.2 199.9h0M514.1 129.2h0M494.8 138.4h0M515.2 114.4h0M451.7 187.8h0M461.3 183.9h0M450.1 199.9h0M475.5 167.3h0M516.3 117.1h0M505.3 130.3h0M490.2 150.0h0M495.7 142.7h0M508.6 120.6h0M485.4 138.1h0M504.2 135.1h0M496.7 133.7h0M448.2 187.8h0M485.7 154.5h0M522.8 104.4h0M485.9 151.0h0M491.7 146.4h0M481.6 152.7h0M483.2 154.5h0M517.7 121.3h0M484.7 138.7h0M469.8 168.7h0M434.1 175.7h0M481.3 154.5h0M451.7 183.9h0M463.0 187.8h0M510.3 122.5h0M509.4 127.0h0M453.2 183.9h0M511.4 122.6h0M504.4 117.1h0M479.8 161.6h0M509.6 124.5h0M454.6 187.8h0M468.0 175.7h0M464.6 166.0h0M468.0 178.1h0M512.7 122.0h0M463.8 166.0h0M466.7 166.0h0M471.9 163.6h0M497.3 135.4h0M483.8 146.0h0M512.8 130.8h0M472.9 151.0h0M466.0 170.2h0M481.6 152.7h0M493.1 133.7h0M475.9 158.1h0M499.5 136.7h0M532.5 93.5h0M480.4 151.0h0M496.8 129.2h0M523.2 122.9h0M480.4 155.9h0M473.3 168.7h0M470.9 167.3h0M500.9 134.3h0M506.2 143.8h0M486.1 154.5h0M491.4 151.5h0M520.3 115.3h0M512.6 113.8h0M467.4 178.1h0M492.0 152.7h0M494.9 158.1h0M508.2 126.3h0M488.6 146.8h0M481.6 160.6h0M486.1 166.0h0M450.1 192.8h0M491.2 155.2h0M478.1 162.6h0M502.4 141.5h0M473.3 183.9h0M486.5 149.5h0M475.1 158.9h0M462.2 162.6h0M509.2 125.9h0M480.1 158.1h0M502.2 125.6h0M471.9 175.7h0M496.0 130.5h0M455.9 183.9h0M479.8 162.6h0M485.7 150.5h0M505.1 120.5h0M496.3 141.2h0M488.6 142.1h0M510.0 125.3h0M496.6 142.4h0M504.7 147.2h0M508.4 119.9h0M488.6 146.4h0M486.5 147.2h0M498.7 144.1h0M482.4 168.7h0M499.3 130.0h0M515.7 120.3h0M512.9 124.6h0M483.0 160.6h0M463.0 178.1h0M489.9 141.5h0M487.4 149.5h0M516.7 118.7h0M485.7 154.5h0M490.0 140.6h0M508.8 130.2h0M484.3 160.6h0M487.8 134.9h0M529.3 105.0h0M524.2 119.2h0M504.8 134.9h0M498.2 141.8h0M475.1 160.6h0M505.1 129.5h0M492.5 142.1h0M499.3 132.4h0M480.7 152.1h0M495.8 146.4h0M488.4 140.0h0M497.4 129.5h0M523.0 108.1h0M502.0 151.5h0M457.1 183.9h0M475.5 163.6h0M463.0 180.7h0M474.7 151.5h0M504.2 130.7h0M503.5 142.1h0M478.5 156.6h0M498.3 140.9h0M477.1 159.7h0M454.6 170.2h0M463.8 168.7h0M470.3 163.6h0M522.5 110.3h0M463.0 175.7h0M518.2 122.6h0M521.8 110.2h0M489.9 155.2h0M488.2 146.4h0M478.5 168.7h0M492.0 143.8h0M507.1 124.3h0M494.8 144.8h0M513.7 116.4h0M517.5 112.0h0M498.3 135.8h0M498.1 143.8h0M490.0 145.2h0M501.7 140.6h0M470.9 175.7h0M501.6 122.1h0M498.0 144.8h0M470.3 167.3h0M539.4 90.8h0M471.9 162.6h0M475.9 145.6h0M497.8 136.0h0M458.3 199.9h0M475.5 153.9h0M459.3 192.8h0M470.3 187.8h0M488.0 153.9h0M499.7 136.7h0M516.4 117.0h0M512.0 124.8h0M518.3 126.3h0M502.1 125.8h0M483.2 139.2h0M516.5 120.7h0M481.9 153.3h0M479.5 158.9h0M525.1 102.2h0M510.6 128.8h0M499.0 143.1h0M508.9 132.6h0M511.4 118.4h0M460.3 170.2h0M489.0 160.6h0M471.9 180.7h0M496.2 155.9h0M472.9 163.6h0M521.2 110.1h0M501.7 130.3h0M476.7 150.0h0M490.6 140.9h0M468.6 167.3h0M491.6 134.1h0M504.0 136.9h0M499.6 146.4h0M453.2 187.8h0M480.4 147.7h0M504.1 141.8h0M498.0 134.9h0M518.2 112.3h0M464.6 171.8h0M504.1 134.5h0M479.5 160.6h0M493.7 137.9h0M501.6 131.7h0M507.5 132.4h0M478.8 154.5h0M496.3 133.9h0M466.7 166.0h0M465.3 178.1h0M504.3 141.2h0M491.7 139.2h0M448.2 178.1h0M475.5 160.6h0M493.1 148.1h0M525.3 118.2h0M513.5 121.7h0M508.2 128.8h0M453.2 187.8h0M490.0 143.4h0M502.7 137.9h0M499.2 128.9h0M501.4 147.7h0M489.7 136.2h0M530.9 111.2h0M525.3 108.5h0M491.7 142.7h0M467.4 166.0h0M537.4 92.6h0M481.0 157.3h0M517.8 127.6h0M533.7 96.6h0M471.9 160.6h0M498.2 138.7h0M485.4 162.6h0M503.5 136.7h0M498.2 133.7h0M534.5 97.5h0M504.5 124.6h0M495.8 142.1h0M517.7 116.8h0M485.4 164.8h0M484.7 137.9h0M540.5 91.5h0M474.2 155.9h0M486.3 151.5h0M493.7 144.1h0M465.3 167.3h0M441.2 175.7h0M515.7 110.8h0M475.1 159.7h0M478.5 146.0h0M481.6 154.5h0M468.6 166.0h0M473.3 178.1h0M496.1 131.7h0M543.8 87.6h0M509.4 123.0h0M507.1 116.0h0M460.3 183.9h0M491.9 134.7h0M470.3 168.7h0M509.7 129.4h0M485.9 158.9h0M494.7 138.9h0M491.2 164.8h0M480.4 157.3h0M461.3 171.8h0M504.2 121.1h0M461.3 170.2h0M472.4 170.2h0M485.9 146.0h0M474.7 148.1h0M498.1 138.7h0M514.6 117.4h0M496.6 146.8h0M497.3 146.4h0M493.1 143.8h0M512.2 125.7h0M458.3 212.0h0M502.4 139.5h0M468.0 162.6h0M461.3 178.1h0M490.0 141.8h0M484.0 155.9h0M504.1 121.9h0M516.6 108.2h0M446.2 187.8h0M490.9 144.1h0M535.2 88.1h0M510.1 120.0h0M523.0 113.5h0M494.8 152.7h0M465.3 187.8h0M468.6 160.6h0M508.2 128.1h0M512.8 104.7h0M475.9 162.6h0M485.9 151.0h0M499.0 130.8h0M458.3 178.1h0M485.7 148.1h0M527.2 111.6h0M540.1 100.7h0M486.5 146.8h0M531.6 101.3h0M482.4 155.9h0M472.9 173.7h0M454.6 180.7h0M513.7 124.7h0M483.0 159.7h0M543.1 92.8h0M498.6 149.5h0M493.0 133.1h0M458.3 178.1h0M525.0 106.8h0M486.8 144.1h0M489.0 144.5h0M455.9 199.9h0M510.6 125.1h0M514.3 118.3h0M478.8 154.5h0M494.9 138.1h0M500.4 135.4h0M513.4 120.1h0M495.1 140.9h0M529.3 99.6h0M488.6 146.4h0M475.9 147.2h0M483.0 152.7h0M438.0 187.8h0M478.5 159.7h0M515.2 124.3h0M495.7 140.9h0M476.7 160.6h0M497.8 133.9h0M453.2 173.7h0M488.2 148.1h0M502.1 135.8h0M506.4 130.2h0M477.4 158.9h0M512.1 122.7h0M533.0 102.5h0M482.4 147.2h0M507.9 135.8h0M462.2 178.1h0M446.2 183.9h0M505.4 129.9h0M493.4 149.0h0M498.9 132.0h0M477.8 147.2h0M489.1 154.5h0M510.1 124.4h0M529.0 100.3h0M488.6 138.1h0M453.2 183.9h0M519.3 120.8h0M505.1 131.3h0M506.5 115.6h0M498.9 139.7h0M542.6 88.0h0M493.1 131.3h0M503.1 141.8h0M448.2 192.8h0M479.8 149.0h0M478.1 156.6h0M492.8 150.0h0M499.6 132.8h0M473.8 159.7h0M530.1 100.9h0M468.0 183.9h0M481.3 155.9h0M499.8 144.8h0M470.3 171.8h0M505.0 132.0h0M506.8 120.9h0M481.9 146.4h0M533.8 108.3h0M490.0 140.3h0M499.3 129.7h0M474.2 162.6h0M459.3 168.7h0M480.7 153.9h0M485.7 144.1h0M485.4 160.6h0M508.7 119.2h0M443.8 192.8h0M472.9 160.6h0M458.3 199.9h0M522.5 125.3h0M478.8 153.9h0M484.3 157.3h0M470.9 168.7h0M511.0 118.0h0M487.8 153.9h0M495.1 142.1h0M438.0 199.9h0M517.5 114.2h0M499.2 129.5h0M503.2 118.9h0M519.0 119.1h0M486.8 156.6h0M486.1 144.1h0M509.2 125.6h0M501.5 141.5h0M488.0 149.5h0M492.2 137.2h0M481.6 152.1h0M505.7 121.8h0M512.5 126.7h0M491.4 140.0h0M534.2 104.9h0M459.3 183.9h0M488.8 146.8h0M528.8 103.5h0M484.3 143.1h0M453.2 192.8h0M522.5 107.5h0M502.3 121.7h0M469.2 162.6h0M509.8 128.6h0M475.5 167.3h0M455.9 180.7h0M491.2 143.8h0M478.8 152.1h0M472.9 166.0h0M488.0 148.6h0M472.9 175.7h0M492.8 153.3h0M490.9 154.5h0M508.1 133.9h0M479.8 152.7h0M464.6 166.0h0M459.3 155.2h0M485.2 146.8h0M525.3 107.4h0M512.0 115.8h0M476.7 159.7h0M512.9 121.5h0M469.2 168.7h0M515.0 115.2h0M485.2 146.4h0M509.5 124.6h0M506.8 132.8h0M485.4 148.1h0M500.4 138.4h0M469.2 162.6h0M490.4 146.8h0M515.1 115.6h0M563.0 77.3h0M507.5 120.9h0M496.8 151.0h0M471.4 183.9h0M515.6 124.8h0M457.1 183.9h0M471.9 153.3h0M500.5 132.4h0M466.0 170.2h0M525.1 107.8h0M514.8 118.3h0M478.5 166.0h0M478.1 160.6h0M468.6 183.9h0M458.3 199.9h0M504.2 151.5h0M506.8 131.2h0M499.7 143.4h0M499.4 138.9h0M480.4 159.7h0M499.3 130.5h0M463.0 170.2h0M493.3 143.4h0M524.8 105.3h0M521.3 106.0h0M481.9 150.0h0M486.8 155.2h0M522.5 115.8h0M531.8 105.8h0M466.7 199.9h0M485.0 155.2h0M497.9 138.7h0M518.8 108.5h0M475.1 159.7h0M506.9 119.2h0M487.4 146.4h0M544.3 91.1h0M500.6 126.2h0M488.2 161.6h0M485.2 145.6h0M515.3 118.0h0M506.2 122.9h0M472.4 192.8h0M496.3 124.1h0M466.0 173.7h0M478.5 164.8h0M464.6 163.6h0M466.0 168.7h0M473.3 162.6h0M471.4 161.6h0M504.4 137.2h0M509.6 120.8h0M486.1 144.8h0M466.0 163.6h0M509.3 131.0h0M446.2 180.7h0M446.2 192.8h0M507.5 114.8h0M508.6 134.9h0M512.0 110.8h0M488.2 144.8h0M458.3 168.7h0M482.2 161.6h0M507.1 127.5h0M476.7 155.9h0M479.5 167.3h0M464.6 178.1h0M473.3 175.7h0M510.5 116.1h0M503.9 135.1h0M468.0 167.3h0M475.9 163.6h0M482.7 157.3h0M503.6 130.8h0M471.4 166.0h0M490.0 137.6h0M446.2 212.0h0M471.9 171.8h0M499.8 143.1h0M511.8 120.5h0M466.0 180.7h0M473.3 163.6h0M508.6 119.4h0M484.0 159.7h0M483.0 158.1h0M503.7 127.1h0M497.4 134.9h0M517.4 122.5h0M508.1 123.6h0M477.1 155.9h0M487.8 147.7h0M487.6 153.3h0M468.0 175.7h0M473.3 168.7h0M513.5 121.6h0M459.3 180.7h0M514.9 126.2h0M497.1 137.2h0M489.7 145.6h0M505.1 131.5h0M503.8 120.2h0M519.4 121.2h0M481.3 155.9h0M492.2 155.9h0M491.7 150.5h0M534.3 105.4h0M512.9 120.9h0M474.2 173.7h0M488.6 143.1h0M476.3 160.6h0M493.1 148.1h0M496.2 128.1h0M542.2 95.8h0M458.3 187.8h0M514.2 107.9h0M501.6 139.7h0M477.4 147.2h0M490.0 136.5h0M479.8 151.0h0M493.3 153.9h0M514.7 112.1h0M463.8 168.7h0M520.7 116.2h0M485.0 148.1h0M524.6 112.5h0M503.0 130.5h0M519.9 118.7h0M504.6 126.8h0M516.2 124.8h0M494.3 144.8h0M478.8 160.6h0M506.6 132.4h0M506.8 125.2h0M538.2 94.6h0M453.2 192.8h0M488.4 141.5h0M515.5 121.6h0M459.3 183.9h0M490.4 148.6h0M539.0 93.5h0M523.6 106.2h0M471.9 155.9h0M524.4 105.2h0M517.1 115.8h0M509.2 123.2h0M501.4 140.6h0M496.2 130.2h0M472.9 166.0h0M483.0 145.6h0M507.5 128.9h0M496.3 136.9h0M532.8 103.6h0M484.5 149.0h0M434.1 212.0h0M486.5 144.8h0M499.1 131.7h0M502.9 122.4h0M494.1 140.3h0M475.9 167.3h0M525.6 107.7h0M477.4 158.1h0M508.9 126.6h0M483.5 156.6h0M468.6 178.1h0M525.1 115.3h0M441.2 187.8h0M476.3 170.2h0M502.9 141.8h0M487.2 153.3h0M508.9 121.0h0M489.9 144.8h0M483.5 147.7h0M539.8 87.1h0M487.6 144.8h0M490.2 152.7h0M469.8 171.8h0M478.5 166.0h0M509.0 132.8h0M506.2 127.8h0M492.0 147.7h0M477.8 155.2h0M507.6 117.8h0M457.1 175.7h0M485.0 147.2h0M487.6 155.9h0M475.5 178.1h0M496.7 141.2h0M481.3 155.9h0M480.1 164.8h0M532.1 105.8h0M508.6 115.3h0M520.0 113.7h0M494.1 140.3h0M513.7 117.2h0M508.7 123.5h0M519.3 118.6h0M544.3 90.4h0M489.5 154.5h0M499.5 128.4h0M492.4 152.1h0M409.9 212.0h0M466.0 180.7h0M494.3 152.1h0M505.9 116.8h0M485.0 149.0h0M518.0 108.5h0M521.3 105.8h0M483.2 148.1h0M524.0 105.6h0M530.7 105.3h0M503.5 135.4h0M468.6 173.7h0M524.8 109.6h0M492.7 153.9h0M481.3 144.8h0M494.7 135.4h0M483.2 156.6h0M518.2 128.5h0M510.3 118.2h0M519.9 109.1h0M508.0 130.0h0M476.7 171.8h0M490.7 144.1h0M512.8 117.5h0M484.5 166.0h0M556.7 71.2h0M487.0 156.6h0M476.7 157.3h0M518.2 106.2h0M508.2 124.4h0M495.2 141.2h0M489.7 148.6h0M503.0 132.8h0M510.4 108.7h0M509.5 116.4h0M487.2 153.3h0M501.0 135.8h0M514.0 122.7h0M509.4 111.2h0M441.2 187.8h0M477.4 153.3h0M473.8 161.6h0M492.5 153.9h0M498.1 134.3h0M512.8 121.2h0M508.8 131.2h0M491.2 151.5h0M496.0 145.2h0M532.6 106.2h0M479.2 162.6h0M501.0 132.9h0M528.9 103.8h0M500.6 129.1h0M457.1 187.8h0M501.4 132.6h0M488.0 152.1h0M491.1 142.1h0M517.5 113.6h0M505.0 127.2h0M487.6 151.5h0M512.7 128.1h0M504.4 136.9h0M494.8 141.5h0M499.5 139.7h0M498.0 148.6h0M484.0 140.9h0M486.8 158.1h0M492.2 147.2h0M476.3 167.3h0M466.0 173.7h0M521.5 109.7h0M488.4 136.9h0M494.9 151.0h0M487.0 143.1h0M495.3 141.8h0M492.4 132.4h0M494.4 132.9h0M472.9 153.3h0M515.1 117.9h0M476.3 155.2h0M516.1 121.1h0M455.9 180.7h0M467.4 170.2h0M513.9 119.4h0M492.7 146.8h0M477.8 162.6h0M499.2 133.7h0M469.2 171.8h0M495.3 139.5h0M448.2 183.9h0M482.4 154.5h0M481.3 142.7h0M506.2 136.5h0M512.5 127.5h0M473.3 154.5h0M528.1 100.5h0M479.8 163.6h0M454.6 183.9h0M446.2 192.8h0M526.6 101.7h0M489.5 141.8h0M477.1 155.2h0M476.7 166.0h0M468.6 168.7h0M521.6 108.7h0M491.1 138.9h0M532.6 108.1h0M486.1 149.0h0M448.2 192.8h0M514.0 119.8h0M485.4 164.8h0M487.2 154.5h0M527.4 93.6h0M491.1 141.8h0M518.4 123.3h0M493.7 140.6h0M480.1 150.5h0M504.8 125.8h0M484.7 153.9h0M519.4 117.5h0M513.0 115.4h0M496.0 145.6h0M505.0 124.3h0M504.4 127.5h0M485.0 150.0h0M513.3 115.3h0M485.2 151.0h0M505.3 125.7h0M473.8 166.0h0M495.1 139.2h0M501.6 134.7h0M480.7 159.7h0M482.4 149.5h0M482.2 145.6h0M510.5 115.3h0M480.1 153.3h0M503.4 131.0h0M526.3 98.6h0M502.7 128.2h0M463.8 175.7h0M496.8 144.5h0M516.2 110.5h0M490.4 155.9h0M517.9 110.3h0M507.1 130.2h0M502.9 125.3h0M489.0 152.1h0M483.0 173.7h0M489.5 159.7h0M493.7 139.7h0M503.3 133.7h0M504.4 145.2h0M489.5 154.5h0M496.2 144.8h0M503.8 136.9h0M457.1 171.8h0M479.8 161.6h0M477.1 170.2h0M488.8 143.8h0M489.0 151.5h0M487.6 144.5h0M477.8 163.6h0M506.6 124.6h0M498.9 137.9h0M460.3 171.8h0M493.1 142.7h0M469.8 171.8h0M530.1 108.2h0M483.2 152.1h0M482.7 153.9h0M494.5 142.7h0M490.7 142.4h0M493.5 125.7h0M528.7 107.5h0M498.3 133.1h0M511.8 121.3h0M518.5 108.9h0M471.4 155.2h0M530.2 96.6h0M508.7 122.3h0M514.2 104.7h0M476.7 159.7h0M513.6 134.1h0M502.2 132.9h0M480.4 157.3h0M543.5 102.3h0M506.0 132.4h0M488.6 149.5h0M498.9 145.6h0M513.4 121.9h0M518.9 125.2h0M505.0 125.4h0M521.4 108.9h0M525.7 105.2h0M468.0 183.9h0M483.2 158.9h0M475.5 163.6h0M493.7 131.0h0M525.5 105.6h0M507.5 116.6h0M475.5 168.7h0M489.3 140.6h0M515.5 120.0h0M479.2 160.6h0M492.4 153.9h0M500.4 130.8h0M451.7 183.9h0M508.7 119.8h0M500.7 126.4h0M507.2 128.2h0M470.9 164.8h0M471.9 159.7h0M478.1 151.5h0M497.8 137.4h0M491.4 135.4h0M498.4 138.1h0M533.0 96.3h0M522.8 107.5h0M483.0 160.6h0M480.4 152.7h0M532.2 96.3h0M488.8 151.0h0M523.8 108.6h0M528.7 108.7h0M482.2 152.7h0M488.0 141.8h0M497.2 135.8h0M478.1 168.7h0M471.9 162.6h0M488.2 149.0h0M513.0 115.7h0M480.4 159.7h0M490.4 149.0h0M485.0 152.7h0M469.2 173.7h0M525.0 100.9h0M441.2 212.0h0M476.7 161.6h0M506.3 136.5h0M464.6 178.1h0M506.5 124.4h0M520.6 110.3h0M475.1 153.3h0M498.6 134.1h0M463.0 187.8h0M504.7 126.6h0M498.9 149.5h0M496.3 138.7h0M523.9 112.7h0M504.1 139.2h0M524.1 109.1h0M507.7 129.5h0M466.7 157.3h0M498.4 131.7h0M504.7 123.8h0M466.7 173.7h0M524.4 106.6h0M495.2 142.4h0M499.3 120.5h0M471.4 167.3h0M493.4 139.2h0M501.8 136.0h0M486.8 150.0h0M496.1 136.2h0M454.6 180.7h0M523.2 106.5h0M468.6 163.6h0M446.2 180.7h0M470.9 156.6h0M474.2 167.3h0M506.8 140.9h0M480.1 160.6h0M500.7 135.1h0M474.2 151.5h0M542.0 91.3h0M506.6 123.5h0M536.8 91.4h0M470.9 150.0h0M507.7 126.4h0M474.2 157.3h0M506.2 129.5h0M506.9 132.0h0M459.3 199.9h0M471.4 175.7h0M471.4 166.0h0M464.6 173.7h0M477.1 156.6h0M468.6 163.6h0M469.8 175.7h0M495.5 141.2h0M505.2 127.9h0M467.4 175.7h0M482.7 146.8h0M494.9 153.3h0M489.7 143.8h0M475.9 153.3h0M511.2 129.2h0M512.3 123.6h0M510.2 127.4h0M489.0 140.9h0M536.1 91.3h0M531.1 102.3h0M484.7 150.0h0M490.7 140.9h0M520.1 111.9h0M475.5 150.5h0M502.9 133.5h0M493.3 150.0h0M477.1 156.6h0M488.4 148.1h0M463.8 183.9h0M483.8 149.5h0M448.2 187.8h0M543.2 79.3h0M527.5 101.3h0M519.1 105.1h0M499.9 142.1h0M515.5 122.8h0M521.1 109.7h0M514.1 118.3h0M513.7 117.4h0M473.8 161.6h0M500.2 134.7h0M481.6 147.2h0M472.4 164.8h0M466.7 170.2h0M502.7 142.4h0M515.6 116.9h0M468.6 164.8h0M530.0 101.7h0M525.6 117.8h0M486.1 148.1h0M480.1 160.6h0M492.8 137.9h0M514.4 117.1h0M487.4 142.4h0M473.3 153.3h0M499.6 128.4h0M448.2 212.0h0M497.3 138.9h0M518.9 117.1h0M497.4 141.5h0M510.6 126.1h0M506.0 135.6h0M508.8 123.0h0M494.7 135.8h0M476.7 170.2h0M492.5 142.7h0M490.9 148.1h0M521.4 118.1h0M529.8 100.1h0M503.1 135.6h0M478.1 164.8h0M479.2 155.9h0M493.7 141.2h0M523.5 111.2h0M502.1 128.8h0M493.1 139.2h0M477.1 163.6h0M512.5 113.0h0M500.9 135.6h0M492.8 144.1h0M496.0 155.9h0M529.8 100.1h0M489.5 152.1h0M531.2 100.4h0M521.6 123.5h0M494.7 133.1h0M514.4 115.7h0M491.2 134.7h0M471.4 170.2h0M484.0 144.8h0M477.8 163.6h0M503.8 148.6h0M491.9 150.0h0M506.2 131.0h0M511.6 114.5h0M448.2 199.9h0M496.9 132.0h0M454.6 187.8h0M496.1 138.9h0M477.8 163.6h0M495.1 136.7h0M523.6 105.1h0M462.2 192.8h0M499.2 131.7h0M493.3 146.8h0M451.7 187.8h0M506.1 122.4h0M494.9 138.1h0M479.8 152.7h0M477.1 158.1h0M563.2 63.9h0M485.0 155.9h0M450.1 199.9h0M473.8 161.6h0M484.3 147.2h0M486.3 152.1h0M492.5 148.1h0M471.4 166.0h0M504.8 130.2h0M482.2 162.6h0M461.3 167.3h0M472.4 158.9h0M485.7 149.0h0M512.7 127.1h0M502.8 136.9h0M485.7 148.6h0M494.0 143.8h0M496.3 138.9h0M537.8 89.8h0M480.7 155.2h0M503.5 124.1h0M506.5 124.8h0M469.2 153.3h0M498.9 132.4h0M495.2 125.2h0M483.8 153.9h0M505.9 130.2h0M515.3 110.6h0M517.4 121.3h0M490.6 146.8h0M497.1 135.1h0M544.2 85.9h0M468.0 173.7h0M494.9 133.5h0M513.6 123.4h0M495.5 141.5h0M507.1 127.9h0M498.4 140.6h0M510.0 119.3h0M520.6 109.0h0M489.0 145.2h0M499.0 134.5h0M491.9 135.8h0M485.4 148.6h0M490.2 136.2h0M466.7 175.7h0M510.0 125.3h0M530.3 90.4h0M530.5 102.8h0M520.2 103.1h0M472.4 164.8h0M526.5 109.0h0M478.5 167.3h0M490.7 138.4h0M533.6 103.3h0M473.8 170.2h0M512.0 132.9h0M497.1 127.5h0M491.1 143.4h0M472.9 164.8h0M503.8 127.6h0M482.2 147.2h0M514.5 116.5h0M521.0 111.4h0M460.3 168.7h0M486.1 167.3h0M486.5 146.4h0M473.8 164.8h0M469.8 170.2h0M497.3 133.5h0M489.5 158.9h0M455.9 183.9h0M480.1 149.5h0M503.9 125.8h0M466.0 168.7h0M470.3 160.6h0M529.3 101.4h0M521.9 117.8h0M455.9 187.8h0M464.6 153.3h0M500.8 126.4h0M471.4 180.7h0M489.3 143.8h0M484.3 155.9h0M502.8 127.0h0M450.1 192.8h0M450.1 192.8h0M459.3 183.9h0M516.3 108.2h0M488.0 141.8h0M460.3 192.8h0M504.5 134.9h0M509.2 116.2h0M487.4 138.4h0M489.5 152.1h0M501.7 129.7h0M520.1 109.9h0M498.9 144.8h0M502.8 141.2h0M493.0 145.6h0M485.0 157.3h0M473.8 167.3h0M498.7 142.1h0M485.9 155.9h0M485.0 141.2h0M513.0 115.5h0M504.1 132.2h0M512.1 111.6h0M455.9 199.9h0M507.0 126.7h0M481.3 162.6h0M478.5 154.5h0M479.8 160.6h0M519.5 123.6h0M512.9 126.8h0M479.2 147.7h0M470.9 163.6h0M496.6 141.8h0M481.6 148.6h0M529.1 111.5h0M455.9 171.8h0M458.3 199.9h0M489.3 150.5h0M490.0 142.1h0M495.5 135.1h0M510.1 118.0h0M538.2 88.1h0M485.2 133.7h0M481.9 155.2h0M461.3 183.9h0M500.9 130.7h0M511.5 127.5h0M488.4 149.0h0M518.5 112.9h0M492.5 142.4h0M525.6 105.2h0M501.4 129.2h0M468.0 168.7h0M479.2 168.7h0M462.2 180.7h0M453.2 183.9h0M499.9 138.7h0M512.6 123.4h0M535.4 94.7h0M487.4 138.9h0M488.0 140.3h0M465.3 168.7h0M514.6 123.5h0M501.0 145.2h0M478.1 170.2h0M509.4 134.3h0M505.3 130.0h0M454.6 187.8h0M509.0 128.8h0M496.5 154.5h0M484.7 159.7h0M482.4 163.6h0M532.0 98.6h0M527.0 117.1h0M533.1 95.6h0M470.9 171.8h0M476.7 154.5h0M513.5 117.8h0M464.6 162.6h0M479.8 151.0h0M454.6 183.9h0M533.5 104.1h0M517.1 119.8h0M504.4 137.2h0M498.3 135.8h0M484.3 156.6h0M486.1 151.5h0M505.6 128.1h0M477.4 155.2h0M520.9 107.4h0M485.7 168.7h0M472.9 163.6h0M520.5 109.5h0M486.3 148.6h0M504.8 134.5h0M484.0 145.6h0M448.2 183.9h0M506.8 143.1h0M461.3 183.9h0M517.5 112.2h0M463.0 178.1h0M459.3 192.8h0M499.0 128.2h0M504.4 135.1h0M496.8 140.6h0M467.4 183.9h0M512.2 121.7h0M461.3 180.7h0M479.8 146.8h0M476.3 168.7h0M485.0 148.6h0M512.1 122.2h0M477.8 150.0h0M504.9 138.1h0M509.0 133.9h0M458.3 187.8h0M464.6 167.3h0M486.8 151.0h0M481.0 153.3h0M504.7 124.5h0M451.7 199.9h0M507.3 122.4h0M510.5 127.9h0M492.2 140.3h0M461.3 163.6h0M493.1 137.4h0M482.2 153.9h0M505.6 127.2h0M491.6 134.9h0M508.4 130.2h0M486.8 167.3h0M524.3 105.0h0M441.2 175.7h0M470.3 170.2h0M504.7 134.3h0M463.8 173.7h0M509.6 127.5h0M468.6 166.0h0M494.5 142.7h0M477.1 162.6h0M482.4 153.3h0M499.4 140.6h0M490.4 144.8h0M487.6 152.1h0M540.2 92.7h0M491.4 136.7h0M476.7 168.7h0M513.0 121.9h0M512.8 132.4h0M519.6 109.7h0M532.3 104.9h0M466.0 163.6h0M517.4 129.7h0M518.9 121.3h0M492.5 153.3h0M496.9 128.5h0M443.8 212.0h0M483.2 152.1h0M531.2 113.0h0M455.9 187.8h0M481.9 151.5h0M501.3 144.5h0M507.2 125.3h0M528.9 108.0h0M443.8 180.7h0M494.5 137.9h0M510.6 124.8h0M461.3 178.1h0M494.5 145.6h0M534.5 96.5h0M521.6 105.8h0M504.1 129.9h0M441.2 183.9h0M492.7 146.4h0M500.9 134.7h0M486.8 143.1h0M491.7 141.5h0M560.4 79.9h0M488.6 143.4h0M477.1 168.7h0M499.4 131.9h0M486.5 147.7h0M487.0 142.4h0M491.2 148.6h0M510.5 127.5h0M500.4 132.2h0M470.3 171.8h0M487.8 136.0h0M505.5 130.3h0M485.0 166.0h0M518.2 111.9h0M509.8 115.3h0M470.3 171.8h0M500.9 145.6h0M536.5 91.6h0M527.5 111.3h0M490.6 143.4h0M512.8 119.1h0M479.5 168.7h0M463.0 170.2h0M504.4 129.9h0M500.5 141.2h0M503.1 136.0h0M494.5 152.7h0M498.9 134.1h0M479.8 153.9h0M504.1 133.1h0M511.6 123.7h0M495.5 138.7h0M512.7 124.3h0M453.2 180.7h0M479.5 167.3h0M525.1 111.2h0M531.9 104.2h0M498.6 138.7h0M489.3 137.9h0M468.6 164.8h0M501.7 130.3h0M510.1 123.6h0M461.3 178.1h0M505.6 127.4h0M503.8 135.4h0M504.2 131.5h0M471.4 167.3h0M504.2 130.2h0M459.3 175.7h0M526.2 98.3h0M495.8 136.7h0M467.4 170.2h0M523.2 107.0h0M518.0 118.0h0M478.8 150.0h0M541.9 87.3h0M469.2 154.5h0M502.1 144.1h0M518.3 113.7h0M429.1 175.7h0M516.4 118.7h0M492.8 141.8h0M494.1 150.5h0M472.4 167.3h0M501.7 134.3h0M466.7 162.6h0M479.8 170.2h0M484.5 156.6h0M469.8 166.0h0M527.7 101.9h0M468.6 162.6h0M475.5 166.0h0M484.3 151.5h0M492.2 139.7h0M512.0 122.3h0M512.4 125.3h0M489.1 153.3h0M483.5 150.0h0M494.4 147.2h0M509.8 123.4h0M506.3 127.9h0M480.1 151.5h0M448.2 199.9h0M540.1 94.5h0M514.7 121.2h0M499.5 129.1h0M500.4 132.8h0M482.2 154.5h0M472.9 157.3h0M485.4 154.5h0M492.0 147.7h0M480.1 155.9h0M463.0 183.9h0M486.1 150.0h0M505.7 132.2h0M482.4 156.6h0M492.7 144.5h0M457.1 199.9h0M490.2 143.4h0M490.9 144.1h0M467.4 159.7h0M454.6 178.1h0M500.5 133.1h0M475.9 160.6h0M503.3 130.3h0M482.7 149.5h0M507.2 130.5h0M483.8 135.8h0M462.2 178.1h0M493.5 139.2h0M485.2 145.6h0M507.4 132.2h0M481.6 152.1h0M485.4 146.4h0M512.9 127.4h0M518.2 103.2h0M512.3 121.2h0M516.2 118.8h0M504.4 132.6h0M510.2 129.2h0M512.9 122.6h0M499.9 135.1h0M494.7 154.5h0M496.1 146.4h0M545.9 89.8h0M492.5 143.4h0M487.8 155.2h0M488.0 155.9h0M495.1 141.8h0M499.3 130.2h0M464.6 178.1h0M454.6 199.9h0M498.1 134.5h0M453.2 171.8h0M498.3 142.1h0M497.3 138.7h0M517.5 114.8h0M529.7 111.2h0M502.2 148.6h0M478.8 158.9h0M472.4 180.7h0M476.3 159.7h0M495.1 147.7h0M450.1 199.9h0M495.5 132.8h0M491.1 151.5h0M503.9 127.8h0M486.8 155.2h0M495.8 139.2h0M477.1 155.2h0M483.0 149.5h0M453.2 180.7h0M496.8 153.3h0M527.2 105.4h0M496.8 136.0h0M501.9 129.4h0M470.3 152.1h0M524.3 108.2h0M479.2 166.0h0M512.2 123.3h0M495.1 139.5h0M472.4 156.6h0M515.5 123.0h0M495.1 140.3h0M496.3 137.9h0M504.4 139.2h0M492.4 138.4h0M482.2 156.6h0M505.9 130.3h0M479.5 154.5h0M495.2 142.7h0M480.1 154.5h0M454.6 168.7h0M480.7 173.7h0M483.8 156.6h0M494.4 144.8h0M518.9 105.3h0M454.6 173.7h0M499.7 142.4h0M457.1 212.0h0M469.2 173.7h0M481.6 151.0h0M438.0 180.7h0M457.1 199.9h0M498.1 143.4h0M496.8 156.6h0M489.5 145.2h0M476.3 175.7h0M539.9 83.1h0M489.1 151.5h0M472.4 158.1h0M528.6 102.8h0M505.9 124.1h0M487.6 151.5h0M519.2 132.8h0M499.3 142.7h0M504.4 136.9h0M499.6 132.4h0M476.7 156.6h0M514.2 119.8h0M496.2 136.9h0M475.5 170.2h0M475.5 163.6h0M516.0 110.4h0M485.2 153.9h0M492.4 141.8h0M507.1 134.7h0M496.5 142.4h0M455.9 171.8h0M508.7 131.2h0M511.3 123.8h0M513.8 121.3h0M530.2 111.6h0M499.6 132.6h0M509.4 135.8h0M527.8 111.2h0M486.1 152.7h0M531.8 97.8h0M531.7 98.3h0M509.6 123.7h0M533.7 107.4h0M512.6 128.1h0M475.5 162.6h0M517.6 109.1h0M498.3 143.4h0M503.7 137.4h0M496.8 134.7h0M523.2 107.3h0M504.4 131.2h0M473.3 156.6h0M503.0 139.2h0M509.0 116.5h0M478.5 159.7h0M485.4 148.6h0M484.7 148.1h0M481.6 147.2h0M501.2 132.9h0M515.5 115.0h0M535.0 91.8h0M518.6 114.7h0M515.3 114.6h0M518.2 108.3h0M521.0 116.4h0M487.0 160.6h0M508.3 129.5h0M501.4 128.6h0M491.1 138.1h0M482.2 154.5h0M481.3 151.0h0M489.9 146.0h0M465.3 171.8h0M504.5 140.0h0M493.1 143.8h0M494.4 142.4h0M500.1 134.1h0M506.6 125.1h0M475.5 162.6h0M490.0 140.0h0M459.3 183.9h0M438.0 178.1h0M453.2 180.7h0M527.4 103.6h0M448.2 199.9h0M503.2 126.4h0M525.1 98.1h0M483.2 146.0h0M529.3 105.9h0M533.3 106.7h0M513.5 120.4h0M545.8 88.8h0M507.4 124.1h0M479.8 167.3h0M504.2 133.7h0M482.2 149.0h0M466.0 187.8h0M463.0 164.8h0M543.9 93.8h0M485.4 161.6h0M494.4 148.6h0M477.1 153.3h0M495.3 140.3h0M489.0 152.1h0M485.0 150.5h0M469.8 170.2h0M465.3 175.7h0M477.1 155.2h0M499.3 134.5h0M538.5 90.2h0M517.0 118.3h0M533.6 103.7h0M504.6 132.4h0M493.0 142.4h0M462.2 183.9h0M497.8 142.1h0M448.2 192.8h0M486.3 151.0h0M529.3 103.3h0M502.4 129.1h0M519.1 114.4h0M483.5 144.5h0M463.0 171.8h0M481.3 146.4h0M486.3 156.6h0M518.4 118.5h0M536.4 95.0h0M480.1 154.5h0M486.1 148.6h0M489.9 140.9h0M488.4 148.1h0M465.3 173.7h0M495.2 138.9h0M500.2 130.2h0M500.1 129.1h0M470.3 183.9h0M492.5 144.8h0M455.9 171.8h0M513.5 113.7h0M472.4 173.7h0M489.1 140.9h0M483.0 152.1h0M480.7 158.9h0M471.4 161.6h0M454.6 187.8h0M531.5 106.9h0M500.4 134.3h0M499.0 142.7h0M539.1 92.4h0M486.5 152.1h0M506.2 130.0h0M496.1 142.4h0M521.0 117.1h0M505.3 137.4h0M500.8 138.7h0M493.1 158.1h0M498.6 136.5h0M520.2 112.6h0M453.2 175.7h0M492.8 146.8h0M485.7 151.0h0M490.4 142.4h0M450.1 171.8h0M510.2 127.4h0M474.7 150.5h0M488.6 138.4h0M481.9 150.0h0M455.9 180.7h0M485.9 155.2h0M455.9 173.7h0M475.5 156.6h0M488.8 153.3h0M490.4 134.5h0M494.4 131.5h0M493.3 150.0h0M540.7 95.9h0M503.0 122.6h0M463.0 164.8h0M481.6 158.1h0M475.9 152.7h0M490.2 141.8h0M481.0 155.9h0M472.9 152.1h0M532.1 109.5h0M495.2 148.6h0M484.7 154.5h0M487.6 144.1h0M490.6 150.5h0M523.5 110.8h0M504.8 137.6h0M517.7 115.3h0M450.1 192.8h0M501.0 140.6h0M517.6 124.5h0M537.6 97.6h0M494.5 128.9h0M454.6 167.3h0M505.1 128.9h0M481.3 143.4h0M451.7 187.8h0M481.9 164.8h0M518.4 115.3h0M520.4 119.4h0M510.1 123.0h0M473.8 155.9h0M549.5 89.7h0M467.4 168.7h0M492.5 137.6h0M464.6 183.9h0M522.7 114.8h0M503.5 133.3h0M514.6 122.1h0M496.8 139.7h0M494.9 136.0h0M497.8 139.5h0M461.3 183.9h0M517.1 121.6h0M513.2 121.2h0M483.2 162.6h0M494.9 137.2h0M503.3 136.9h0M528.8 99.3h0M503.2 139.5h0M491.9 146.8h0M484.0 154.5h0M461.3 173.7h0M481.9 154.5h0M496.2 141.8h0M487.4 155.2h0M495.8 140.3h0M510.2 134.5h0M504.9 130.2h0M501.3 128.6h0M509.1 121.6h0M496.1 131.7h0M494.8 146.0h0M504.7 125.9h0M455.9 183.9h0M522.3 114.4h0M470.3 168.7h0M512.3 142.7h0M496.5 136.9h0M517.5 113.9h0M495.2 136.5h0M469.8 167.3h0M517.4 112.1h0M500.0 132.9h0M496.9 153.3h0M498.2 151.0h0M516.1 117.7h0M510.6 126.6h0M497.3 138.1h0M455.9 192.8h0M485.4 142.7h0M498.5 145.2h0M533.5 106.1h0M504.6 136.2h0M493.0 151.0h0M520.8 118.2h0M488.8 146.8h0M493.4 147.7h0M498.4 132.8h0M463.8 173.7h0M516.2 112.6h0M503.5 121.9h0M488.0 139.7h0M472.4 168.7h0M500.4 125.3h0M524.5 104.5h0M480.4 148.1h0M474.2 170.2h0M504.3 142.4h0M458.3 187.8h0M443.8 180.7h0M483.2 149.5h0M477.8 157.3h0M487.0 141.8h0M482.2 168.7h0M502.1 137.9h0M487.6 143.1h0M481.6 153.9h0M485.4 153.9h0M509.1 117.8h0M516.1 112.2h0M515.5 124.0h0M511.1 125.7h0M438.0 212.0h0M468.6 163.6h0M489.1 149.5h0M497.4 144.1h0M465.3 166.0h0M526.3 97.9h0M501.9 133.5h0M480.1 151.0h0M499.1 129.5h0M485.4 146.4h0M480.7 155.9h0M506.8 128.9h0M485.0 161.6h0M463.8 192.8h0M485.4 155.9h0M489.5 135.1h0M472.4 162.6h0M521.9 104.9h0M472.4 164.8h0M533.0 106.5h0M513.8 109.1h0M472.4 152.1h0M499.7 135.8h0M522.0 112.7h0M491.4 140.3h0M471.4 173.7h0M498.3 140.3h0M537.5 103.3h0M469.2 171.8h0M507.9 127.4h0M493.8 142.4h0M492.8 147.7h0M488.0 158.1h0M490.9 152.7h0M517.0 108.7h0M507.1 130.2h0M472.4 154.5h0M528.9 108.3h0M462.2 164.8h0M510.6 128.4h0M499.8 139.2h0M520.3 108.5h0M500.7 138.7h0M517.5 112.3h0M493.1 137.9h0M516.2 116.3h0M503.0 133.7h0M542.1 92.2h0M478.8 151.5h0M521.7 112.8h0M505.9 133.1h0M499.8 137.4h0M479.8 150.0h0M505.2 130.3h0M462.2 175.7h0M459.3 170.2h0M509.7 127.2h0M453.2 183.9h0M525.8 118.6h0M489.9 145.2h0M500.7 128.9h0M495.7 140.0h0M502.8 137.6h0M489.3 143.4h0M486.3 146.4h0M491.7 142.7h0M517.3 113.2h0M519.5 111.0h0M522.4 111.7h0M503.0 135.8h0M489.7 136.7h0M459.3 178.1h0M507.8 130.5h0M513.6 118.2h0M488.0 145.2h0M512.5 132.9h0M522.9 103.8h0M496.2 141.8h0M517.6 105.1h0M500.9 129.9h0M454.6 168.7h0M484.0 145.6h0M489.3 139.7h0M506.7 127.2h0M475.5 164.8h0M482.7 155.9h0M470.9 158.1h0M491.4 144.8h0M497.1 137.2h0M515.4 132.9h0M512.7 120.0h0M499.1 149.5h0M501.1 146.0h0M497.2 138.9h0M498.5 144.1h0M528.3 108.7h0M446.2 192.8h0M490.4 148.1h0M501.0 140.6h0M520.2 113.8h0M473.8 160.6h0M504.9 128.5h0M513.2 120.6h0M485.2 142.4h0M453.2 175.7h0M485.4 144.1h0M466.0 167.3h0M509.9 124.1h0M479.5 167.3h0M534.1 113.3h0M497.5 134.9h0M478.5 159.7h0M486.3 141.8h0M466.7 173.7h0M502.4 126.4h0M527.6 111.6h0M493.4 144.5h0M513.4 122.6h0M476.7 159.7h0M503.2 135.6h0M545.4 82.1h0M466.0 170.2h0M522.1 108.9h0M521.0 106.6h0M454.6 175.7h0M467.4 170.2h0M473.8 159.7h0M515.8 117.9h0M487.8 152.1h0M492.7 145.6h0M510.1 129.5h0M497.5 153.3h0M497.3 129.7h0M486.5 159.7h0M520.1 111.6h0M475.9 149.0h0M531.0 108.2h0M487.0 144.1h0M478.5 159.7h0M510.0 119.7h0M505.2 136.9h0M455.9 192.8h0M499.5 133.9h0M466.7 164.8h0M477.8 142.4h0M513.4 119.6h0M478.8 161.6h0M503.2 121.2h0M486.5 149.5h0M536.6 94.7h0M491.6 141.8h0M467.4 163.6h0M465.3 158.1h0M476.3 171.8h0M497.3 140.6h0M494.5 129.9h0M516.7 109.9h0M498.6 135.1h0M496.7 133.5h0M500.3 134.5h0M494.5 139.7h0M503.7 136.5h0M513.3 122.2h0M512.1 124.6h0M481.3 160.6h0M461.3 171.8h0M477.8 166.0h0M500.9 139.7h0M441.2 199.9h0M483.5 152.1h0M505.2 132.6h0M485.0 155.9h0M464.6 170.2h0M533.4 95.8h0M525.6 102.4h0M490.9 147.7h0M523.5 111.4h0M523.3 111.6h0M468.6 152.7h0M553.3 74.1h0M472.4 170.2h0M488.2 145.6h0M474.2 175.7h0M498.2 144.8h0M462.2 173.7h0M494.1 138.4h0M518.6 124.1h0M499.4 139.2h0M490.2 137.9h0M528.4 99.6h0M470.9 171.8h0M516.3 123.2h0M488.2 154.5h0M500.8 143.4h0M496.1 141.8h0M498.2 137.2h0M493.7 144.5h0M479.8 158.1h0M481.6 157.3h0M506.7 136.5h0M490.6 134.7h0M470.9 161.6h0M481.0 162.6h0M478.8 143.4h0M491.2 135.4h0M499.5 138.7h0M495.2 137.9h0M476.7 160.6h0M496.9 151.0h0M469.2 159.7h0M434.1 199.9h0M491.4 147.2h0M459.3 171.8h0M475.5 173.7h0M465.3 161.6h0M508.7 130.0h0M467.4 168.7h0M500.3 125.4h0M481.0 154.5h0M469.2 168.7h0M463.0 167.3h0M503.3 135.4h0M500.5 127.9h0M510.2 123.0h0M533.4 94.3h0M499.3 131.9h0M502.8 133.9h0M493.4 150.0h0M498.0 130.5h0M489.1 153.3h0M475.1 153.3h0M536.8 99.7h0M459.3 171.8h0M498.0 137.6h0M504.0 124.8h0M494.9 144.1h0M472.4 166.0h0M487.4 155.2h0M484.5 156.6h0M467.4 166.0h0M492.4 145.6h0M487.4 162.6h0M482.7 151.0h0M506.3 135.4h0M474.7 158.9h0M501.8 132.0h0M482.2 146.8h0M501.7 130.3h0M494.0 139.5h0M500.5 143.8h0M472.9 164.8h0M477.1 159.7h0M478.5 170.2h0M499.0 131.7h0M509.8 130.5h0M517.0 120.0h0M487.0 164.8h0M496.9 135.4h0M457.1 178.1h0M443.8 192.8h0M473.3 162.6h0M468.6 158.9h0M455.9 178.1h0M448.2 173.7h0M503.6 132.6h0M472.9 158.9h0M463.0 168.7h0M543.0 89.9h0M497.3 135.6h0M484.0 143.4h0M509.6 128.8h0M474.2 148.1h0M528.5 107.5h0M458.3 164.8h0M462.2 164.8h0M491.1 156.6h0M475.9 155.2h0M523.2 104.9h0M454.6 175.7h0M473.8 170.2h0M499.9 135.4h0M504.3 138.1h0M513.2 125.7h0M500.2 134.7h0M540.8 90.7h0M479.5 144.5h0M499.2 136.9h0M510.1 118.0h0M483.8 158.1h0M482.4 155.9h0M484.0 157.3h0M481.9 146.8h0M469.8 171.8h0M479.5 162.6h0M461.3 180.7h0M498.4 126.8h0M459.3 187.8h0M536.6 96.1h0M529.3 111.2h0M516.9 110.6h0M486.3 143.8h0M477.1 155.2h0M519.7 113.0h0M496.9 140.6h0M505.6 133.1h0M479.5 160.6h0M516.0 124.8h0M474.2 161.6h0M494.0 142.4h0M457.1 183.9h0M475.1 151.5h0M502.9 143.8h0M481.9 146.4h0M484.5 153.3h0M509.3 118.2h0M491.6 146.4h0M519.0 122.7h0M446.2 192.8h0M504.4 122.3h0M502.1 134.7h0M458.3 175.7h0M464.6 171.8h0M512.5 127.2h0M467.4 171.8h0M479.8 166.0h0M504.1 134.9h0M486.8 144.8h0M504.0 126.1h0M469.8 166.0h0M497.6 141.5h0M514.8 109.9h0M499.7 134.3h0M451.7 192.8h0M506.2 130.2h0M494.9 141.8h0M474.2 153.9h0M522.5 116.6h0M457.1 173.7h0M532.1 100.6h0M480.1 147.2h0M525.4 106.6h0M490.2 145.2h0M461.3 173.7h0M494.7 142.1h0M501.1 138.7h0M503.9 153.3h0M516.5 113.4h0M471.9 161.6h0M501.6 135.6h0M508.9 131.2h0M484.7 148.6h0M471.9 166.0h0M472.9 170.2h0M507.5 127.1h0M509.4 125.0h0M471.4 168.7h0M463.0 183.9h0M518.6 118.2h0M450.1 183.9h0M493.4 135.8h0M473.8 153.9h0M448.2 199.9h0M494.4 141.2h0M486.3 150.0h0M522.9 114.2h0M541.2 88.9h0M489.7 152.7h0M511.9 123.5h0M514.1 133.1h0M480.4 159.7h0M468.0 168.7h0M525.7 109.7h0M484.0 141.5h0M492.0 151.0h0M486.8 158.9h0M485.7 143.8h0M478.8 157.3h0M509.0 127.8h0M518.7 113.2h0M483.2 152.7h0M465.3 180.7h0M492.2 138.4h0M454.6 171.8h0M476.7 158.9h0M518.5 115.9h0M542.2 84.9h0M501.0 137.2h0M463.8 183.9h0M509.6 130.7h0M453.2 199.9h0M477.4 175.7h0M524.4 107.0h0M508.9 125.8h0M458.3 175.7h0M458.3 173.7h0M509.8 121.7h0M490.9 139.2h0M476.7 151.0h0M503.0 142.4h0M480.4 149.0h0M454.6 180.7h0M510.2 119.2h0M477.8 175.7h0M465.3 158.9h0M463.0 170.2h0M496.8 146.4h0M473.8 155.2h0M508.2 132.6h0M487.2 158.1h0M515.6 118.0h0M482.4 155.9h0M480.7 155.2h0M448.2 180.7h0M468.6 171.8h0M507.3 123.6h0M558.6 73.2h0M468.0 175.7h0M469.2 164.8h0M500.5 140.6h0M503.3 128.2h0M471.9 152.1h0M495.6 143.1h0M457.1 178.1h0M485.0 144.8h0M512.9 117.4h0M527.2 114.4h0M491.6 145.6h0M485.0 150.5h0M502.5 135.8h0M515.1 115.3h0M501.8 135.6h0M478.5 152.1h0M498.5 135.1h0M513.0 121.2h0M472.9 156.6h0M468.0 160.6h0M505.0 125.9h0M500.1 133.5h0M512.5 122.8h0M494.7 142.7h0M477.1 173.7h0M483.2 156.6h0M472.9 160.6h0M469.8 164.8h0M483.2 146.4h0M478.8 146.4h0M515.8 123.9h0M467.4 167.3h0M490.6 128.9h0M477.8 160.6h0M523.5 105.8h0M499.0 138.9h0M485.9 157.3h0M509.5 124.5h0M491.4 138.9h0M484.3 150.5h0M525.6 113.0h0M507.4 124.0h0M530.4 107.2h0M517.2 114.2h0M509.0 124.1h0M492.4 144.5h0M471.4 168.7h0M507.8 131.3h0M494.0 144.1h0M508.9 123.5h0M496.6 151.0h0M479.2 161.6h0M458.3 167.3h0M507.6 133.5h0M520.8 107.6h0M486.3 142.7h0M500.7 135.8h0M521.9 108.6h0M477.4 156.6h0M485.4 155.2h0M464.6 166.0h0M518.3 113.5h0M499.3 141.2h0M486.3 166.0h0M464.6 180.7h0M488.2 150.5h0M512.9 128.2h0M482.4 151.0h0M485.4 171.8h0M507.9 132.9h0M470.3 164.8h0M497.3 158.9h0M504.4 127.8h0M475.9 161.6h0M476.3 164.8h0M498.0 146.4h0M488.4 141.2h0M488.6 149.5h0M496.5 146.0h0M497.1 144.1h0M477.1 170.2h0M482.7 149.5h0M504.1 136.9h0M517.9 113.5h0M522.3 109.9h0M471.4 175.7h0M516.7 112.6h0M509.8 126.1h0M496.3 133.3h0M505.5 122.2h0M509.3 124.7h0M531.5 102.1h0M471.9 173.7h0M504.9 143.8h0M490.2 143.8h0M488.4 149.5h0M517.2 123.0h0M510.8 128.1h0M471.9 163.6h0M485.7 142.4h0M496.7 137.9h0M467.4 175.7h0M511.2 123.3h0M492.4 133.7h0M497.5 155.9h0M502.1 142.7h0M532.5 99.0h0M492.0 141.8h0M483.0 143.8h0M530.1 95.8h0M482.7 146.4h0M481.9 157.3h0M461.3 168.7h0M515.8 118.4h0M499.5 130.8h0M503.2 129.5h0M496.0 132.2h0M491.7 150.5h0M475.5 163.6h0M481.0 162.6h0M503.2 135.4h0M495.5 138.4h0M528.5 110.7h0M475.5 156.6h0M483.0 153.3h0M474.2 164.8h0M523.8 118.9h0M469.2 187.8h0M508.3 127.4h0M522.9 112.7h0M486.3 144.1h0M508.1 122.5h0M443.8 178.1h0M480.7 143.1h0M461.3 180.7h0M494.1 140.9h0M493.5 149.0h0M474.2 161.6h0M512.3 122.9h0M501.5 140.6h0M481.3 158.1h0M482.4 150.0h0M454.6 167.3h0M487.8 152.1h0M538.1 87.9h0M479.2 155.9h0M502.2 133.9h0M482.2 155.2h0M511.5 132.8h0M503.2 141.5h0M484.7 139.5h0M457.1 192.8h0M482.2 149.5h0M519.7 115.6h0M488.8 149.5h0M505.5 131.0h0M485.4 158.1h0M455.9 175.7h0M499.3 128.6h0M499.0 137.2h0M481.9 158.9h0M487.0 173.7h0M498.6 124.8h0M476.3 158.1h0M500.6 141.8h0M489.7 141.8h0M450.1 212.0h0M485.9 144.8h0M478.5 148.6h0M471.9 162.6h0M502.1 125.3h0M481.9 167.3h0M503.7 133.7h0M516.1 121.6h0M498.4 138.9h0M461.3 180.7h0M478.8 155.2h0M512.2 126.7h0M486.3 155.9h0M475.5 158.1h0M491.2 149.5h0M504.9 128.2h0M499.4 124.4h0M505.9 127.0h0M474.2 155.9h0M486.1 149.5h0M484.5 141.8h0M490.7 143.4h0M454.6 187.8h0M487.0 146.4h0M469.2 173.7h0M521.7 106.2h0M526.6 106.1h0M528.4 94.9h0M511.8 136.2h0M485.7 149.5h0M513.4 109.0h0M488.8 148.1h0M506.6 130.8h0M476.3 148.1h0M480.1 140.3h0M501.8 128.9h0M530.7 106.3h0M493.5 150.5h0M541.5 94.2h0M552.1 84.9h0M464.6 171.8h0M493.4 143.8h0M474.2 167.3h0M489.5 143.4h0M481.9 155.2h0M490.4 150.0h0M513.4 115.6h0M514.0 118.7h0M497.9 138.4h0M493.5 141.5h0M494.4 138.4h0M494.4 136.2h0M505.9 130.0h0M492.4 138.4h0M505.2 123.2h0M460.3 178.1h0M510.7 125.9h0M530.4 108.5h0M494.7 136.7h0M464.6 171.8h0M522.6 108.4h0M487.0 145.6h0M441.2 212.0h0M489.9 150.0h0M505.1 125.2h0M502.2 139.5h0M520.1 115.1h0M504.0 128.5h0M494.8 146.0h0M450.1 187.8h0M469.8 171.8h0M499.4 135.8h0M505.9 129.7h0M474.7 162.6h0M482.2 146.4h0M503.2 132.0h0M455.9 183.9h0M459.3 199.9h0M489.7 151.5h0M497.4 149.5h0M482.2 156.6h0M446.2 199.9h0M496.5 138.4h0M468.0 187.8h0M506.6 134.3h0M490.7 142.4h0M499.5 139.2h0M507.7 137.2h0M478.8 168.7h0M510.7 108.4h0M520.5 110.5h0M500.9 132.4h0M521.8 127.0h0M477.4 158.9h0M512.9 119.8h0M499.4 135.4h0M472.4 158.1h0M491.6 136.7h0M484.7 152.7h0M480.1 158.1h0M497.6 149.0h0M515.7 104.5h0M489.5 154.5h0M494.0 149.5h0M453.2 162.6h0M496.3 134.5h0M518.3 113.5h0M510.7 128.4h0M501.5 128.4h0M477.1 150.5h0M470.3 166.0h0M491.6 149.0h0M453.2 173.7h0M472.9 175.7h0M512.9 124.7h0M472.9 175.7h0M531.5 98.9h0M467.4 178.1h0M501.2 127.2h0M469.8 171.8h0M495.5 146.4h0M470.9 175.7h0M493.8 138.7h0M487.8 144.8h0M480.4 146.4h0M504.0 119.7h0M526.1 98.9h0M482.7 163.6h0M513.3 131.2h0M494.0 141.8h0M492.5 145.6h0M540.6 83.8h0M446.2 199.9h0M477.8 159.7h0M458.3 187.8h0M487.2 143.1h0M489.5 154.5h0M563.5 64.5h0M500.8 141.8h0M531.1 103.3h0M521.4 117.1h0M486.5 149.0h0M505.3 130.3h0M529.2 98.0h0M495.5 135.4h0M500.4 139.2h0M504.7 140.3h0M454.6 192.8h0M475.9 166.0h0M499.0 136.2h0M504.4 131.0h0M472.4 159.7h0M487.8 144.1h0M493.1 146.8h0M490.9 146.8h0M506.2 129.7h0M496.6 140.0h0M498.4 140.6h0M468.6 180.7h0M473.3 178.1h0M501.2 144.5h0M462.2 183.9h0M499.8 133.5h0M478.1 161.6h0M479.5 162.6h0M509.4 132.6h0M481.6 159.7h0M475.9 150.5h0M477.4 151.5h0M493.8 139.5h0M552.7 82.5h0M448.2 183.9h0M493.3 141.2h0M485.7 143.1h0M512.4 126.4h0M484.0 155.2h0M453.2 187.8h0M520.8 120.6h0M472.4 158.9h0M491.6 136.5h0M463.0 178.1h0M468.0 173.7h0M483.5 161.6h0M512.1 128.4h0M510.7 126.6h0M480.7 164.8h0M504.9 137.4h0M486.8 147.2h0M494.4 138.1h0M494.1 149.5h0M505.0 129.7h0M480.1 158.1h0M494.0 152.7h0M498.7 140.9h0M494.5 143.8h0M471.9 155.2h0M531.0 99.5h0M477.4 153.9h0M509.2 129.5h0M498.2 127.9h0M519.0 105.6h0M450.1 178.1h0M537.6 96.5h0M490.2 141.8h0M462.2 164.8h0M495.7 140.3h0M540.9 80.9h0M506.4 132.8h0M466.0 163.6h0M480.4 158.9h0M520.6 110.0h0M471.9 175.7h0M488.6 147.2h0M484.5 141.2h0M540.0 97.4h0M480.7 149.5h0M521.2 109.3h0M478.5 167.3h0M475.5 151.5h0M513.6 129.7h0M505.5 115.3h0M458.3 175.7h0M506.3 123.5h0M505.9 119.2h0M481.9 153.9h0M497.4 142.1h0M497.4 139.5h0M478.8 154.5h0M482.7 157.3h0M477.8 151.0h0M487.8 140.0h0M463.8 164.8h0M491.1 149.0h0M459.3 173.7h0M496.0 153.9h0M489.9 144.8h0M468.6 168.7h0M511.6 133.1h0M534.0 93.8h0M521.9 113.5h0M462.2 164.8h0M520.7 122.4h0M497.5 148.1h0M488.2 146.0h0M480.4 160.6h0M493.7 150.0h0M522.8 115.9h0M505.2 135.1h0M481.9 167.3h0M479.8 153.3h0M484.3 158.9h0M503.3 139.7h0M532.4 96.4h0M468.0 168.7h0M492.5 140.6h0M484.3 148.1h0M476.7 159.7h0M500.8 136.0h0M504.6 146.4h0M462.2 192.8h0M463.0 180.7h0M518.2 115.1h0M498.4 127.1h0M503.4 132.4h0M481.6 156.6h0M487.4 144.8h0M502.8 139.2h0M479.5 147.7h0M473.8 163.6h0M488.6 150.0h0M513.6 122.2h0M470.9 171.8h0M514.4 126.4h0M508.2 131.5h0M476.7 166.0h0M492.2 136.0h0M492.4 132.4h0M506.8 124.1h0M506.0 119.5h0M465.3 178.1h0M464.6 171.8h0M514.8 108.5h0M496.0 129.1h0M502.7 136.9h0M500.8 130.8h0M525.8 108.2h0M470.3 157.3h0M516.7 121.9h0M472.9 159.7h0M510.5 130.8h0M521.9 111.4h0M459.3 173.7h0M504.5 126.1h0M487.0 144.1h0M485.9 147.2h0M492.7 144.5h0M471.4 170.2h0M466.0 158.9h0M507.0 125.9h0M510.8 123.2h0M480.1 152.1h0M457.1 178.1h0M542.6 89.6h0M516.8 123.2h0M499.2 144.5h0M468.0 168.7h0M476.7 157.3h0M498.7 144.5h0M470.3 158.9h0M527.1 112.1h0M494.7 133.3h0M501.1 134.3h0M470.3 164.8h0M472.9 151.5h0M477.1 157.3h0M499.8 138.7h0M488.0 159.7h0M485.7 153.9h0M501.1 136.2h0M499.7 129.1h0M524.7 104.2h0M486.5 148.6h0M467.4 171.8h0M491.2 141.2h0M524.7 100.8h0M481.0 164.8h0M491.4 142.7h0M487.6 148.1h0M498.9 142.7h0M498.0 144.5h0M477.1 162.6h0M491.4 143.4h0M513.5 124.4h0M516.3 119.9h0M512.3 115.1h0M511.4 122.7h0M484.5 144.1h0M487.8 153.3h0M512.8 124.1h0M470.9 171.8h0M491.1 148.1h0M453.2 192.8h0M485.2 144.5h0M479.2 151.0h0M469.8 164.8h0M506.1 129.9h0M479.5 171.8h0M481.9 160.6h0M488.4 144.1h0M476.3 155.9h0M522.2 115.0h0M484.3 151.0h0M499.6 132.6h0M463.8 170.2h0M485.2 149.5h0M483.2 159.7h0M487.8 140.3h0M480.1 154.5h0M495.3 136.2h0M525.3 117.8h0M492.5 152.7h0M490.0 155.9h0M487.2 166.0h0M547.1 83.9h0M526.8 106.5h0M504.6 133.7h0M507.2 122.6h0M476.7 159.7h0M488.0 145.2h0M495.3 141.8h0M496.1 132.9h0M475.5 155.9h0M476.7 164.8h0M503.5 119.7h0M499.2 135.8h0M455.9 183.9h0M491.6 143.4h0M520.8 126.6h0M479.5 155.2h0M500.4 148.6h0M466.0 168.7h0M509.8 122.8h0M468.0 178.1h0M466.0 170.2h0M485.7 166.0h0M543.5 89.1h0M478.8 153.3h0M466.0 175.7h0M502.3 140.9h0M495.3 137.6h0M528.3 105.6h0M460.3 168.7h0M457.1 171.8h0M485.0 144.5h0M500.6 125.1h0M500.7 137.6h0M515.5 125.3h0M459.3 171.8h0M473.3 167.3h0M492.5 156.6h0M510.7 127.2h0M503.8 121.1h0M485.9 156.6h0M466.7 168.7h0M512.8 127.9h0M513.3 119.8h0M550.5 81.5h0M488.0 142.1h0M526.7 115.3h0M466.0 166.0h0M477.4 158.1h0M478.5 163.6h0M483.0 152.1h0M472.4 158.1h0M481.3 157.3h0M492.8 151.5h0M484.3 156.6h0M506.1 130.3h0M489.9 162.6h0M491.4 148.6h0M524.8 103.2h0M500.0 139.2h0M494.1 132.0h0M490.9 160.6h0M493.1 138.4h0M504.3 122.0h0M475.9 156.6h0M516.3 118.1h0M526.7 110.9h0M517.5 115.6h0M483.5 162.6h0M458.3 178.1h0M480.7 158.1h0M497.6 141.8h0M511.5 122.1h0M492.5 138.4h0M485.2 145.2h0M525.9 112.1h0M477.8 152.7h0M514.5 125.7h0M512.3 122.7h0M463.8 173.7h0M497.6 135.1h0M480.7 161.6h0M473.3 168.7h0M460.3 192.8h0M460.3 180.7h0M502.8 137.9h0M484.5 139.7h0M499.0 142.4h0M471.9 157.3h0M486.3 146.4h0M486.5 142.7h0M463.0 170.2h0M457.1 175.7h0M500.8 137.4h0M495.8 148.6h0M475.1 178.1h0M491.6 146.0h0M507.7 129.5h0M532.1 96.8h0M472.9 163.6h0M507.0 140.0h0M538.2 90.1h0M496.5 141.5h0M523.9 108.6h0M434.1 199.9h0M523.4 111.4h0M493.5 145.6h0M450.1 175.7h0M510.7 130.0h0M514.2 125.9h0M517.9 119.2h0M517.9 109.1h0M496.2 146.8h0M473.8 147.7h0M480.4 178.1h0M490.6 149.0h0M502.9 134.9h0M481.6 151.0h0M493.7 136.7h0M510.4 123.4h0M501.4 145.2h0M541.7 86.6h0M539.1 85.1h0M469.2 192.8h0M481.6 147.7h0M468.0 171.8h0M466.7 171.8h0M505.9 132.4h0M472.4 166.0h0M470.3 168.7h0M481.9 150.0h0M509.9 132.2h0M488.6 147.7h0M484.3 161.6h0M511.5 120.1h0M503.7 136.0h0M501.6 131.3h0M512.0 116.0h0M475.5 166.0h0M496.6 134.3h0M481.0 163.6h0M514.3 119.3h0M511.0 122.8h0M472.4 171.8h0M522.4 115.3h0M472.4 170.2h0M518.7 114.7h0M495.7 139.2h0M471.4 175.7h0M465.3 162.6h0M489.0 155.9h0M492.8 141.8h0M477.8 160.6h0M502.0 127.6h0M470.9 178.1h0M491.9 145.6h0M491.6 141.8h0M455.9 183.9h0M501.8 148.6h0M463.0 178.1h0M438.0 192.8h0M481.3 166.0h0M486.1 140.0h0M511.3 115.7h0M481.6 158.9h0M524.6 116.3h0M522.6 105.8h0M515.5 122.9h0M519.8 114.0h0M497.6 144.5h0M481.6 158.1h0M506.6 122.1h0M512.7 125.8h0M497.3 138.9h0M487.8 138.9h0M462.2 170.2h0M506.8 121.2h0M501.5 131.0h0M469.8 160.6h0M498.0 152.1h0M510.1 129.4h0M489.1 152.1h0M510.7 112.4h0M508.7 124.8h0M469.2 175.7h0M483.0 150.0h0M502.7 142.1h0M512.6 137.4h0M522.9 97.0h0M451.7 180.7h0M493.8 144.1h0M509.2 137.6h0M518.2 115.6h0M528.7 102.0h0M470.9 168.7h0M487.0 150.0h0M468.0 171.8h0M512.5 122.7h0M466.0 168.7h0M518.0 113.3h0M513.3 121.0h0M504.2 133.7h0M448.2 187.8h0M478.5 155.9h0M508.7 129.9h0M466.7 187.8h0M485.2 146.8h0M492.4 151.5h0M511.3 125.2h0M497.3 132.9h0M498.0 130.3h0M479.5 161.6h0M492.7 143.1h0M490.9 142.4h0M509.3 126.6h0M487.4 150.5h0M514.6 116.8h0M458.3 170.2h0M518.1 114.8h0M487.6 141.8h0M517.4 113.7h0M493.8 149.0h0M510.9 123.3h0M524.8 98.4h0M484.3 161.6h0M493.0 144.8h0M489.9 150.0h0M497.2 136.7h0M454.6 175.7h0M488.8 146.4h0M488.2 144.1h0M480.7 161.6h0M485.7 153.3h0M457.1 178.1h0M522.2 110.6h0M501.7 140.0h0M533.4 104.5h0M476.3 171.8h0M469.2 171.8h0M500.1 132.8h0M441.2 183.9h0M499.9 146.0h0M477.1 155.2h0M486.3 155.2h0M498.4 142.7h0M493.5 142.4h0M532.2 98.8h0M504.8 121.0h0M466.0 167.3h0M511.9 123.9h0M464.6 175.7h0M495.5 142.7h0M466.7 170.2h0M479.8 170.2h0M520.4 124.0h0M481.9 155.2h0M479.2 150.5h0M485.7 151.5h0M482.7 157.3h0M524.7 111.4h0M466.0 173.7h0M469.2 173.7h0M504.4 134.9h0M458.3 183.9h0M486.5 157.3h0M516.5 113.5h0M493.3 138.4h0M480.4 163.6h0M476.7 159.7h0M465.3 161.6h0M480.4 151.5h0M491.9 134.9h0M518.6 111.3h0M512.6 124.7h0M476.7 162.6h0M474.7 150.5h0M507.2 121.6h0M459.3 187.8h0M482.7 158.1h0M486.1 145.2h0M465.3 173.7h0M472.4 173.7h0M499.8 135.6h0M459.3 175.7h0M471.9 154.5h0M480.4 152.7h0M495.2 145.2h0M463.8 162.6h0M513.8 117.5h0M485.7 149.5h0M486.8 163.6h0M485.7 148.6h0M478.5 160.6h0M475.1 164.8h0M516.3 119.1h0M497.5 144.8h0M491.9 143.4h0M512.5 118.6h0M476.7 157.3h0M507.2 119.5h0M493.8 147.2h0M474.7 154.5h0M507.2 143.8h0M457.1 173.7h0M506.8 132.2h0M467.4 151.0h0M500.7 137.2h0M521.2 106.7h0M502.2 136.7h0M477.1 160.6h0M489.5 137.6h0M486.5 151.5h0M467.4 164.8h0M468.0 158.9h0M494.9 148.6h0M504.2 126.2h0M455.9 199.9h0M488.6 149.0h0M504.7 132.2h0M495.2 147.2h0M472.9 164.8h0M514.4 134.5h0M464.6 183.9h0M506.4 131.5h0M525.0 113.9h0M446.2 192.8h0M497.5 141.2h0M498.5 140.3h0M496.0 139.5h0M477.4 160.6h0M487.2 150.0h0M467.4 170.2h0M494.3 140.0h0M504.0 126.6h0M476.3 173.7h0M473.8 163.6h0M479.8 149.5h0M492.2 151.0h0M492.8 153.9h0M491.6 149.5h0M492.4 149.5h0M462.2 173.7h0M438.0 199.9h0M504.8 133.5h0M521.4 110.3h0M460.3 178.1h0M478.1 149.5h0M497.3 140.9h0M513.1 118.2h0M505.9 126.6h0M518.0 122.4h0M488.6 146.0h0M498.2 143.4h0M498.2 140.3h0M485.2 155.2h0M516.8 130.2h0M502.8 135.6h0M512.2 127.4h0M483.5 155.9h0M513.8 124.6h0M473.3 160.6h0M501.0 141.8h0M438.0 199.9h0M472.4 170.2h0M506.7 126.2h0M481.0 153.3h0M494.8 136.9h0M458.3 180.7h0M523.9 101.6h0M504.8 134.1h0M490.6 152.1h0M501.3 144.5h0M501.2 126.8h0M521.4 118.0h0M495.6 146.4h0M462.2 170.2h0M487.2 147.7h0M516.8 120.9h0M500.3 131.3h0M482.7 163.6h0M502.1 138.7h0M491.2 132.2h0M504.6 131.2h0M454.6 178.1h0M473.3 173.7h0M503.0 128.4h0M487.2 153.3h0M500.6 142.1h0M533.0 107.5h0M481.0 137.2h0M494.1 147.7h0M482.2 153.3h0M478.8 157.3h0M494.0 137.4h0M458.3 171.8h0M448.2 199.9h0M519.0 101.2h0M489.7 153.3h0M513.3 121.3h0M491.9 152.1h0M494.8 142.7h0M504.5 133.9h0M506.8 136.0h0M469.2 187.8h0M517.3 110.0h0M467.4 180.7h0M494.4 146.0h0M545.0 92.5h0M493.1 144.1h0M526.6 101.0h0M484.5 148.1h0M503.2 127.9h0M491.7 147.7h0M500.4 120.9h0M468.0 163.6h0M470.9 180.7h0M498.4 141.5h0M461.3 178.1h0M468.6 163.6h0M501.9 134.3h0M473.8 164.8h0M472.4 161.6h0M471.4 175.7h0M496.6 147.7h0M481.9 158.9h0M493.0 135.1h0M485.0 146.8h0M530.2 92.1h0M480.1 152.1h0M422.0 180.7h0M493.0 145.2h0M494.1 147.7h0M494.9 140.3h0M453.2 180.7h0M514.6 129.4h0M493.5 149.5h0M490.4 144.8h0M466.7 187.8h0M500.5 137.6h0M490.6 144.5h0M519.5 108.9h0M486.5 157.3h0M466.0 180.7h0M495.6 134.1h0M463.8 153.3h0M500.6 135.4h0M470.3 173.7h0M489.7 140.9h0M486.3 152.7h0M492.8 147.2h0M480.4 156.6h0M476.7 162.6h0M492.0 153.9h0M475.9 153.9h0M493.0 144.8h0M483.0 163.6h0M434.1 183.9h0M485.4 137.6h0M521.3 105.1h0M496.1 142.4h0M505.1 129.2h0M500.1 132.8h0M481.6 148.6h0M468.6 178.1h0M509.3 125.8h0M513.3 125.2h0M505.3 128.1h0M500.7 136.9h0M498.6 126.1h0M491.1 140.3h0M500.7 135.4h0M490.9 137.4h0M498.5 143.4h0M473.3 162.6h0M478.5 151.5h0M502.6 133.9h0M483.8 154.5h0M434.1 187.8h0M492.0 141.2h0M450.1 199.9h0M530.6 95.6h0M506.8 127.2h0M503.9 126.4h0M478.8 163.6h0M466.0 183.9h0M488.0 159.7h0M490.9 153.3h0M470.3 150.0h0M491.6 138.4h0M506.2 134.7h0M506.6 135.4h0M473.8 164.8h0M446.2 183.9h0M491.1 142.1h0M480.1 166.0h0M500.5 140.3h0M526.2 98.4h0M526.1 113.6h0M496.0 141.8h0M513.7 111.9h0M525.5 117.7h0M494.7 137.6h0M497.2 142.1h0M508.5 125.7h0M494.1 140.0h0M483.2 160.6h0M477.4 178.1h0M491.1 136.5h0M475.5 158.1h0M507.7 121.5h0M483.8 150.5h0M523.5 112.3h0M515.8 116.3h0M454.6 180.7h0M514.2 110.7h0M483.2 153.3h0M520.3 106.5h0M503.4 135.8h0M491.4 150.5h0M505.1 129.4h0M481.9 157.3h0M499.0 135.6h0M499.4 126.1h0M488.8 145.2h0M500.7 134.7h0M473.8 153.3h0M504.2 129.4h0M469.8 171.8h0M505.4 127.0h0M504.5 135.1h0M506.7 132.8h0M480.7 155.2h0M554.8 78.2h0M486.3 155.2h0M495.2 136.2h0M478.1 160.6h0M521.2 116.8h0M484.7 167.3h0M512.0 123.3h0M470.9 153.9h0M497.9 132.4h0M484.5 142.7h0M511.6 125.1h0M479.8 144.8h0M475.5 171.8h0M501.7 133.9h0M466.7 183.9h0M473.8 170.2h0M507.1 128.2h0M463.0 183.9h0M507.1 117.9h0M483.0 158.9h0M476.7 166.0h0M496.7 143.8h0M503.6 134.9h0M479.5 173.7h0M489.9 152.1h0M508.7 119.6h0M507.3 125.3h0M490.6 142.4h0M476.3 147.7h0M473.3 158.9h0M477.4 162.6h0M506.3 130.7h0M504.8 131.5h0M500.2 125.8h0M521.1 116.6h0M487.6 152.7h0M486.3 145.6h0M483.8 158.9h0M531.5 100.7h0M457.1 183.9h0M498.7 138.4h0M500.3 142.4h0M495.1 142.4h0M540.9 82.8h0M517.8 113.9h0M510.8 125.8h0M475.5 158.9h0M503.2 120.4h0M489.7 145.6h0M441.2 178.1h0M434.1 192.8h0M465.3 187.8h0M443.8 187.8h0M475.9 192.8h0M469.2 212.0h0M459.3 212.0h0M467.4 199.9h0M460.3 170.2h0M466.0 187.8h0M462.2 212.0h0M460.3 183.9h0M457.1 187.8h0M438.0 212.0h0M461.3 212.0h0M438.0 187.8h0M473.8 187.8h0M460.3 187.8h0M443.8 187.8h0M455.9 199.9h0M459.3 212.0h0M451.7 171.8h0M443.8 175.7h0M468.0 212.0h0M469.2 187.8h0M455.9 180.7h0M443.8 187.8h0M470.9 212.0h0M473.3 199.9h0M429.1 212.0h0M443.8 192.8h0M450.1 192.8h0M459.3 199.9h0M471.4 192.8h0M443.8 212.0h0M446.2 180.7h0M450.1 183.9h0M443.8 180.7h0M468.0 192.8h0M450.1 212.0h0M461.3 192.8h0M453.2 187.8h0M450.1 171.8h0M446.2 199.9h0M451.7 180.7h0M461.3 173.7h0M454.6 199.9h0M477.4 175.7h0M461.3 171.8h0M459.3 187.8h0M466.7 183.9h0M446.2 199.9h0M450.1 180.7h0M448.2 199.9h0M438.0 212.0h0M443.8 212.0h0M457.1 199.9h0M462.2 173.7h0M469.8 199.9h0M429.1 212.0h0M443.8 199.9h0M446.2 199.9h0M465.3 199.9h0M467.4 212.0h0M455.9 178.1h0M453.2 192.8h0M446.2 212.0h0M461.3 199.9h0M463.8 199.9h0M453.2 187.8h0M450.1 212.0h0M457.1 180.7h0M453.2 212.0h0M461.3 199.9h0M469.8 192.8h0M455.9 192.8h0M441.2 187.8h0M472.4 212.0h0M475.9 192.8h0M475.5 212.0h0M434.1 212.0h0M429.1 212.0h0M455.9 212.0h0M454.6 212.0h0M458.3 212.0h0M443.8 199.9h0M455.9 173.7h0M438.0 212.0h0M454.6 212.0h0M460.3 199.9h0M446.2 212.0h0M457.1 212.0h0M474.7 192.8h0M461.3 164.8h0M454.6 187.8h0M471.9 168.7h0M467.4 212.0h0M474.2 199.9h0M458.3 212.0h0M422.0 199.9h0M460.3 199.9h0M473.8 173.7h0M451.7 183.9h0M455.9 170.2h0M472.4 199.9h0M461.3 199.9h0M471.9 212.0h0M467.4 180.7h0M471.9 199.9h0M450.1 187.8h0M469.8 173.7h0M438.0 178.1h0M470.9 187.8h0M438.0 199.9h0M471.4 166.0h0M446.2 180.7h0M478.5 212.0h0M441.2 212.0h0M465.3 212.0h0M475.5 199.9h0M455.9 192.8h0M441.2 199.9h0M448.2 199.9h0M461.3 187.8h0M469.8 199.9h0M434.1 192.8h0M443.8 180.7h0M463.0 192.8h0M455.9 212.0h0M467.4 187.8h0M451.7 212.0h0M470.3 199.9h0M459.3 199.9h0M470.3 192.8h0M438.0 183.9h0M441.2 192.8h0M446.2 178.1h0M422.0 212.0h0M477.4 199.9h0M478.5 199.9h0M429.1 212.0h0M441.2 212.0h0M463.0 192.8h0M446.2 180.7h0M472.9 192.8h0M466.7 212.0h0M469.2 183.9h0M450.1 192.8h0M453.2 171.8h0M450.1 192.8h0M457.1 175.7h0M446.2 199.9h0M468.0 199.9h0M434.1 212.0h0M466.0 212.0h0M441.2 199.9h0M478.1 212.0h0M477.8 212.0h0M446.2 187.8h0M448.2 212.0h0M458.3 178.1h0M451.7 180.7h0M455.9 212.0h0M453.2 178.1h0M466.0 192.8h0M472.9 212.0h0M463.0 187.8h0M434.1 192.8h0M451.7 192.8h0M451.7 183.9h0M450.1 183.9h0M455.9 212.0h0M450.1 212.0h0M461.3 178.1h0M438.0 180.7h0M434.1 192.8h0M443.8 180.7h0M438.0 212.0h0M463.0 178.1h0M459.3 187.8h0M463.0 187.8h0M472.9 212.0h0M429.1 212.0h0M438.0 212.0h0M474.2 180.7h0M446.2 212.0h0M453.2 199.9h0M453.2 212.0h0M466.7 192.8h0M434.1 192.8h0M451.7 175.7h0M441.2 199.9h0M429.1 212.0h0M468.0 183.9h0M466.0 187.8h0M458.3 199.9h0M467.4 183.9h0M463.0 199.9h0M451.7 178.1h0M451.7 187.8h0M468.6 175.7h0M446.2 212.0h0M451.7 178.1h0M453.2 183.9h0M464.6 212.0h0M469.2 180.7h0M462.2 199.9h0M453.2 187.8h0M463.8 212.0h0M422.0 192.8h0M464.6 180.7h0M441.2 199.9h0M450.1 173.7h0M429.1 199.9h0M474.7 199.9h0M443.8 199.9h0M422.0 212.0h0M469.8 175.7h0M438.0 180.7h0M475.5 183.9h0M463.0 199.9h0M446.2 183.9h0M441.2 212.0h0M438.0 187.8h0M454.6 212.0h0M441.2 178.1h0M448.2 199.9h0M438.0 187.8h0M458.3 199.9h0M475.9 170.2h0M460.3 187.8h0M438.0 187.8h0M477.1 199.9h0M459.3 212.0h0M472.9 212.0h0M429.1 192.8h0M473.3 180.7h0M466.7 212.0h0M462.2 199.9h0M457.1 192.8h0M446.2 171.8h0M458.3 212.0h0M453.2 192.8h0M474.2 199.9h0M467.4 192.8h0M458.3 180.7h0M461.3 212.0h0M468.6 212.0h0M438.0 212.0h0M466.7 187.8h0M468.0 212.0h0M441.2 199.9h0M470.9 180.7h0M464.6 212.0h0M446.2 183.9h0M473.8 187.8h0M461.3 183.9h0M475.5 187.8h0M443.8 199.9h0M466.0 199.9h0M457.1 199.9h0M438.0 192.8h0M448.2 187.8h0M451.7 212.0h0M472.9 212.0h0M458.3 192.8h0M454.6 212.0h0M448.2 199.9h0M434.1 199.9h0M474.2 199.9h0M461.3 192.8h0M470.9 212.0h0M463.8 183.9h0M460.3 212.0h0M446.2 175.7h0M446.2 187.8h0M451.7 199.9h0M446.2 180.7h0M438.0 183.9h0M446.2 199.9h0M462.2 199.9h0M463.8 175.7h0M464.6 192.8h0M446.2 171.8h0M441.2 192.8h0M461.3 199.9h0M454.6 180.7h0M454.6 183.9h0M434.1 199.9h0M429.1 199.9h0M475.1 199.9h0M470.3 212.0h0M434.1 212.0h0M475.9 192.8h0M434.1 199.9h0M438.0 212.0h0M464.6 187.8h0M467.4 212.0h0M476.3 183.9h0M443.8 212.0h0M465.3 199.9h0M448.2 199.9h0M474.7 199.9h0M463.8 183.9h0M438.0 199.9h0M448.2 212.0h0M441.2 199.9h0M466.0 212.0h0M478.5 192.8h0M464.6 178.1h0M466.0 171.8h0M468.6 192.8h0M460.3 175.7h0M468.0 183.9h0M409.9 212.0h0M474.7 192.8h0M475.9 212.0h0M438.0 199.9h0M458.3 199.9h0M448.2 212.0h0M457.1 212.0h0M460.3 192.8h0M459.3 199.9h0M453.2 178.1h0M476.7 212.0h0M463.0 187.8h0M460.3 212.0h0M458.3 183.9h0M464.6 212.0h0M438.0 212.0h0M450.1 192.8h0M454.6 192.8h0M465.3 178.1h0M451.7 199.9h0M448.2 212.0h0M472.9 166.0h0M448.2 192.8h0M466.7 187.8h0M422.0 212.0h0M469.2 212.0h0M474.7 199.9h0M477.8 199.9h0M438.0 212.0h0M470.9 187.8h0M451.7 173.7h0M454.6 192.8h0M461.3 199.9h0M434.1 199.9h0M463.8 192.8h0M443.8 183.9h0M464.6 212.0h0M451.7 166.0h0M429.1 192.8h0M448.2 199.9h0M450.1 183.9h0M434.1 192.8h0M470.9 170.2h0M472.9 199.9h0M466.0 212.0h0M475.1 212.0h0M467.4 212.0h0M463.0 161.6h0M469.2 199.9h0M468.0 212.0h0M463.8 175.7h0M464.6 212.0h0M446.2 192.8h0M459.3 212.0h0M443.8 199.9h0M448.2 178.1h0M441.2 212.0h0M453.2 212.0h0M470.3 183.9h0M469.8 212.0h0M438.0 178.1h0M453.2 187.8h0M443.8 187.8h0M464.6 212.0h0M466.7 212.0h0M441.2 212.0h0M453.2 183.9h0M441.2 192.8h0M450.1 173.7h0M455.9 212.0h0M443.8 187.8h0M464.6 183.9h0M457.1 199.9h0M434.1 212.0h0M429.1 199.9h0M463.8 212.0h0M443.8 212.0h0M443.8 187.8h0M457.1 187.8h0M450.1 212.0h0M472.4 183.9h0M463.0 192.8h0M422.0 192.8h0M454.6 192.8h0M454.6 180.7h0M453.2 212.0h0M455.9 212.0h0M443.8 212.0h0M455.9 212.0h0M454.6 199.9h0M469.8 212.0h0M457.1 187.8h0M461.3 212.0h0M455.9 199.9h0M450.1 212.0h0M469.2 168.7h0M466.7 192.8h0M454.6 199.9h0M446.2 183.9h0M443.8 178.1h0M463.8 199.9h0M446.2 187.8h0M467.4 199.9h0M474.2 199.9h0M451.7 212.0h0M463.0 192.8h0M459.3 199.9h0M463.0 212.0h0M448.2 212.0h0M464.6 192.8h0M443.8 199.9h0M429.1 212.0h0M462.2 183.9h0M472.4 175.7h0M434.1 199.9h0M451.7 187.8h0M468.6 192.8h0M458.3 192.8h0M451.7 199.9h0M462.2 212.0h0M429.1 212.0h0M466.7 178.1h0M446.2 212.0h0M464.6 183.9h0M471.4 175.7h0M450.1 175.7h0M434.1 199.9h0M463.0 192.8h0M469.2 199.9h0M451.7 212.0h0M463.8 212.0h0M443.8 183.9h0M463.0 187.8h0M441.2 192.8h0M429.1 199.9h0M469.8 199.9h0M477.8 183.9h0M458.3 212.0h0M454.6 199.9h0M451.7 192.8h0M438.0 212.0h0M446.2 212.0h0M457.1 212.0h0M459.3 178.1h0M470.3 212.0h0M474.2 167.3h0M448.2 180.7h0M458.3 212.0h0M466.7 212.0h0M457.1 212.0h0M469.2 180.7h0M450.1 199.9h0M459.3 183.9h0M446.2 192.8h0M457.1 199.9h0M450.1 212.0h0M457.1 180.7h0M457.1 187.8h0M453.2 212.0h0M429.1 187.8h0M434.1 212.0h0M441.2 212.0h0M448.2 187.8h0M472.4 167.3h0M451.7 187.8h0M441.2 212.0h0M469.8 173.7h0M446.2 180.7h0M455.9 183.9h0M460.3 212.0h0M438.0 212.0h0M458.3 183.9h0M469.2 192.8h0M463.0 212.0h0M459.3 183.9h0M453.2 199.9h0M464.6 180.7h0M464.6 187.8h0M462.2 199.9h0M450.1 199.9h0M441.2 183.9h0M446.2 212.0h0M448.2 212.0h0M446.2 183.9h0M473.3 199.9h0M429.1 199.9h0M438.0 192.8h0M473.3 212.0h0M458.3 170.2h0M450.1 187.8h0M458.3 212.0h0M468.0 199.9h0M460.3 175.7h0M454.6 192.8h0M429.1 187.8h0M451.7 212.0h0M454.6 187.8h0M463.0 175.7h0M457.1 192.8h0M462.2 199.9h0M453.2 212.0h0M462.2 175.7h0M461.3 192.8h0M429.1 212.0h0M451.7 183.9h0M461.3 183.9h0M457.1 187.8h0M464.6 187.8h0M455.9 212.0h0M446.2 212.0h0M441.2 173.7h0M457.1 187.8h0M462.2 199.9h0M475.1 212.0h0M459.3 199.9h0M477.1 175.7h0M466.7 199.9h0M438.0 192.8h0M429.1 199.9h0M474.7 192.8h0M457.1 199.9h0M461.3 199.9h0M454.6 199.9h0M443.8 173.7h0M463.0 171.8h0M467.4 199.9h0M464.6 187.8h0M434.1 199.9h0M454.6 192.8h0M441.2 187.8h0M441.2 173.7h0M461.3 187.8h0M471.9 180.7h0M446.2 212.0h0M438.0 199.9h0M478.1 168.7h0M459.3 180.7h0M434.1 183.9h0M441.2 178.1h0M438.0 192.8h0M422.0 212.0h0M464.6 212.0h0M446.2 212.0h0M429.1 199.9h0M446.2 180.7h0M451.7 183.9h0M434.1 212.0h0M443.8 183.9h0M463.0 192.8h0M438.0 212.0h0M448.2 199.9h0M448.2 187.8h0M429.1 212.0h0M455.9 183.9h0M458.3 180.7h0M465.3 180.7h0M448.2 180.7h0M473.3 212.0h0M463.0 199.9h0M446.2 187.8h0M454.6 212.0h0M468.6 192.8h0M468.0 212.0h0M458.3 175.7h0M451.7 192.8h0M458.3 212.0h0M448.2 171.8h0M438.0 212.0h0M468.0 212.0h0M464.6 175.7h0M457.1 192.8h0M450.1 187.8h0M448.2 180.7h0M438.0 199.9h0M446.2 187.8h0M468.0 168.7h0M473.3 199.9h0M446.2 212.0h0M471.4 212.0h0M438.0 199.9h0M469.2 178.1h0M451.7 187.8h0M448.2 173.7h0M448.2 199.9h0M438.0 180.7h0M462.2 178.1h0M479.5 212.0h0M476.7 178.1h0M468.0 199.9h0M457.1 180.7h0M457.1 212.0h0M468.0 212.0h0M434.1 183.9h0M429.1 192.8h0M463.0 212.0h0M465.3 167.3h0M453.2 212.0h0M458.3 199.9h0M438.0 192.8h0M467.4 212.0h0M455.9 183.9h0M462.2 212.0h0M461.3 192.8h0M477.8 199.9h0M461.3 170.2h0M448.2 199.9h0M454.6 187.8h0M465.3 212.0h0M443.8 180.7h0M474.2 180.7h0M457.1 170.2h0M446.2 199.9h0M459.3 170.2h0M443.8 183.9h0M480.1 187.8h0M450.1 183.9h0M471.9 192.8h0M468.0 212.0h0M443.8 199.9h0M450.1 187.8h0M450.1 199.9h0M470.3 178.1h0M434.1 199.9h0M446.2 180.7h0M475.1 183.9h0M463.0 212.0h0M438.0 192.8h0M450.1 199.9h0M441.2 180.7h0M443.8 187.8h0M473.3 171.8h0M429.1 187.8h0M476.7 212.0h0M460.3 212.0h0M468.0 212.0h0M468.6 175.7h0M464.6 199.9h0M471.9 175.7h0M459.3 187.8h0M470.9 192.8h0M450.1 212.0h0M455.9 187.8h0M476.3 180.7h0M438.0 212.0h0M450.1 171.8h0M460.3 212.0h0M443.8 199.9h0M464.6 178.1h0M441.2 180.7h0M434.1 192.8h0M458.3 187.8h0M457.1 192.8h0M441.2 212.0h0M469.2 199.9h0M476.7 192.8h0M477.1 212.0h0M469.2 175.7h0M451.7 199.9h0M460.3 183.9h0M468.0 183.9h0M434.1 199.9h0M460.3 212.0h0M469.2 199.9h0M441.2 199.9h0M460.3 199.9h0M461.3 187.8h0M463.8 192.8h0M463.0 192.8h0M466.7 180.7h0M458.3 192.8h0M468.6 173.7h0M446.2 168.7h0M438.0 212.0h0M471.4 192.8h0M446.2 192.8h0M465.3 212.0h0M450.1 212.0h0M461.3 173.7h0M443.8 192.8h0M477.1 212.0h0M464.6 192.8h0M469.8 199.9h0M470.3 171.8h0M466.7 183.9h0M443.8 178.1h0M464.6 212.0h0M470.3 192.8h0M450.1 212.0h0M454.6 183.9h0M422.0 199.9h0M474.7 175.7h0M478.1 212.0h0M466.7 183.9h0M459.3 192.8h0M472.4 183.9h0M465.3 199.9h0M443.8 187.8h0M454.6 187.8h0M448.2 212.0h0M461.3 212.0h0M453.2 199.9h0M441.2 212.0h0M448.2 192.8h0M438.0 192.8h0M446.2 183.9h0M451.7 199.9h0M473.3 164.8h0M470.3 212.0h0M475.1 175.7h0M438.0 212.0h0M429.1 192.8h0M450.1 187.8h0M466.0 187.8h0M470.3 183.9h0M438.0 212.0h0M473.8 183.9h0M448.2 199.9h0M459.3 199.9h0M463.8 187.8h0M466.7 212.0h0M457.1 170.2h0M474.2 212.0h0M455.9 212.0h0M469.8 212.0h0M462.2 178.1h0M434.1 180.7h0M451.7 192.8h0M451.7 199.9h0M450.1 212.0h0M446.2 212.0h0M443.8 199.9h0M429.1 192.8h0M453.2 187.8h0M446.2 199.9h0M473.3 199.9h0M463.8 178.1h0M441.2 199.9h0M462.2 212.0h0M441.2 199.9h0M443.8 180.7h0M446.2 192.8h0M472.4 187.8h0M438.0 212.0h0M453.2 192.8h0M470.3 180.7h0M458.3 178.1h0M459.3 212.0h0M441.2 187.8h0M443.8 180.7h0M460.3 192.8h0M457.1 199.9h0M448.2 170.2h0M434.1 212.0h0M475.1 192.8h0M454.6 212.0h0M451.7 171.8h0M457.1 187.8h0M448.2 183.9h0M450.1 212.0h0M463.8 199.9h0M454.6 183.9h0M475.9 212.0h0M468.6 199.9h0M453.2 175.7h0M466.0 178.1h0M446.2 178.1h0M466.0 199.9h0M443.8 199.9h0M446.2 192.8h0M464.6 180.7h0M457.1 212.0h0M451.7 192.8h0M441.2 199.9h0M443.8 183.9h0M446.2 212.0h0M465.3 180.7h0M461.3 175.7h0M453.2 180.7h0M446.2 183.9h0M466.7 180.7h0M429.1 199.9h0M446.2 199.9h0M450.1 192.8h0M451.7 168.7h0M443.8 199.9h0M475.1 192.8h0M471.9 170.2h0M446.2 183.9h0M438.0 212.0h0M471.9 199.9h0M461.3 187.8h0M441.2 183.9h0M467.4 212.0h0M446.2 180.7h0M448.2 180.7h0M463.0 192.8h0M457.1 212.0h0M458.3 212.0h0M450.1 192.8h0M463.8 187.8h0M450.1 212.0h0M465.3 192.8h0M477.1 180.7h0M473.3 183.9h0M443.8 212.0h0M460.3 192.8h0M453.2 212.0h0M448.2 199.9h0M462.2 183.9h0M470.3 199.9h0M477.8 212.0h0M464.6 199.9h0M461.3 180.7h0M457.1 212.0h0M468.6 212.0h0M429.1 192.8h0M451.7 175.7h0M473.3 187.8h0M457.1 199.9h0M438.0 180.7h0M453.2 173.7h0M450.1 212.0h0M453.2 192.8h0M422.0 192.8h0M459.3 212.0h0M469.8 212.0h0M466.0 175.7h0M448.2 212.0h0M466.0 187.8h0M462.2 212.0h0M466.7 199.9h0M434.1 199.9h0M459.3 187.8h0M454.6 187.8h0M471.4 199.9h0M458.3 192.8h0M457.1 212.0h0M441.2 212.0h0M459.3 199.9h0M463.8 175.7h0M454.6 180.7h0M451.7 180.7h0M460.3 192.8h0M474.2 171.8h0M477.8 173.7h0M429.1 199.9h0M463.0 175.7h0M468.0 199.9h0M462.2 199.9h0M466.0 199.9h0M443.8 212.0h0M466.7 192.8h0M457.1 199.9h0M458.3 183.9h0M438.0 192.8h0M457.1 183.9h0M438.0 199.9h0M462.2 173.7h0M466.0 168.7h0M434.1 192.8h0M453.2 180.7h0M448.2 199.9h0M457.1 192.8h0M455.9 178.1h0M462.2 212.0h0M446.2 187.8h0M475.5 199.9h0M459.3 199.9h0M438.0 187.8h0M450.1 173.7h0M460.3 192.8h0M474.2 173.7h0M476.7 212.0h0M458.3 192.8h0M457.1 173.7h0M451.7 212.0h0M450.1 199.9h0M446.2 192.8h0M472.9 199.9h0M451.7 199.9h0M466.0 199.9h0M477.4 192.8h0M465.3 180.7h0M446.2 212.0h0M458.3 187.8h0M451.7 164.8h0M446.2 212.0h0M455.9 192.8h0M422.0 212.0h0M443.8 199.9h0M476.3 212.0h0M458.3 187.8h0M466.7 187.8h0M462.2 183.9h0M451.7 199.9h0M438.0 212.0h0M462.2 199.9h0M422.0 212.0h0M463.8 178.1h0M446.2 199.9h0M453.2 212.0h0M470.9 212.0h0M457.1 178.1h0M473.3 212.0h0M438.0 199.9h0M441.2 212.0h0M469.2 183.9h0M441.2 212.0h0M453.2 180.7h0M443.8 199.9h0M441.2 199.9h0M443.8 199.9h0M451.7 212.0h0M457.1 212.0h0M475.1 170.2h0M422.0 199.9h0M450.1 183.9h0M459.3 212.0h0M443.8 187.8h0M464.6 212.0h0M446.2 199.9h0M468.6 212.0h0M450.1 171.8h0M450.1 199.9h0M434.1 212.0h0M451.7 199.9h0M470.3 180.7h0M446.2 192.8h0M450.1 180.7h0M451.7 199.9h0M473.8 192.8h0M472.4 187.8h0M434.1 212.0h0M434.1 199.9h0M434.1 187.8h0M465.3 199.9h0M448.2 183.9h0M443.8 212.0h0M434.1 199.9h0M450.1 212.0h0M472.9 212.0h0M453.2 212.0h0M469.8 212.0h0M459.3 199.9h0M470.3 180.7h0M458.3 173.7h0M471.9 199.9h0M470.9 170.2h0M468.6 192.8h0M461.3 212.0h0M448.2 178.1h0M448.2 199.9h0M434.1 183.9h0M438.0 178.1h0M455.9 187.8h0M434.1 212.0h0M438.0 212.0h0M441.2 199.9h0M479.5 178.1h0M438.0 212.0h0M455.9 183.9h0M448.2 173.7h0M450.1 212.0h0M471.4 199.9h0M453.2 192.8h0M450.1 212.0h0M443.8 212.0h0M451.7 178.1h0M443.8 212.0h0M453.2 187.8h0M476.3 192.8h0M477.4 192.8h0M468.6 212.0h0M438.0 199.9h0M455.9 180.7h0M466.0 212.0h0M453.2 212.0h0M468.6 192.8h0M446.2 175.7h0M448.2 212.0h0M446.2 199.9h0M443.8 180.7h0M434.1 199.9h0M464.6 212.0h0M438.0 192.8h0M450.1 199.9h0M470.9 171.8h0M446.2 212.0h0M458.3 212.0h0M422.0 212.0h0M450.1 199.9h0M451.7 199.9h0M471.4 199.9h0M457.1 199.9h0M451.7 187.8h0M448.2 212.0h0M466.0 212.0h0M461.3 183.9h0M434.1 192.8h0M457.1 199.9h0M479.5 212.0h0M459.3 187.8h0M438.0 199.9h0M453.2 183.9h0M459.3 212.0h0M438.0 183.9h0M429.1 212.0h0M463.0 212.0h0M476.3 199.9h0M467.4 212.0h0M441.2 192.8h0M443.8 187.8h0M448.2 212.0h0M446.2 192.8h0M450.1 178.1h0M472.9 212.0h0M448.2 187.8h0M450.1 180.7h0M460.3 183.9h0M476.7 175.7h0M441.2 187.8h0M441.2 212.0h0M438.0 212.0h0M446.2 212.0h0M470.9 212.0h0M464.6 192.8h0M471.9 212.0h0M463.0 212.0h0M460.3 212.0h0M473.3 199.9h0M443.8 199.9h0M446.2 212.0h0M458.3 187.8h0M469.8 199.9h0M451.7 212.0h0M469.2 187.8h0M470.3 212.0h0M453.2 192.8h0M434.1 212.0h0M451.7 212.0h0M438.0 192.8h0M454.6 199.9h0M476.7 183.9h0M429.1 199.9h0M409.9 167.3h0M441.2 187.8h0M409.9 187.8h0M438.0 192.8h0M422.0 199.9h0M422.0 192.8h0M429.1 199.9h0M409.9 173.7h0M409.9 170.2h0M434.1 153.3h0M409.9 175.7h0M429.1 175.7h0M429.1 152.7h0M438.0 187.8h0M429.1 180.7h0M409.9 163.6h0M441.2 212.0h0M409.9 199.9h0M443.8 167.3h0M422.0 192.8h0M422.0 192.8h0M409.9 149.5h0M409.9 160.6h0M429.1 167.3h0M422.0 180.7h0M422.0 192.8h0M409.9 199.9h0M429.1 145.2h0M429.1 158.1h0M409.9 166.0h0M422.0 178.1h0M422.0 163.6h0M443.8 148.1h0M409.9 178.1h0M429.1 175.7h0M429.1 161.6h0M422.0 178.1h0M422.0 212.0h0M429.1 150.5h0M434.1 175.7h0M443.8 170.2h0M429.1 173.7h0M429.1 199.9h0M434.1 158.1h0M409.9 145.2h0M443.8 146.4h0M409.9 149.0h0M429.1 158.9h0M409.9 187.8h0M409.9 212.0h0M422.0 143.8h0M409.9 157.3h0M409.9 212.0h0M429.1 183.9h0M422.0 147.2h0M409.9 154.5h0M409.9 180.7h0M438.0 154.5h0M422.0 187.8h0M422.0 161.6h0M422.0 147.7h0M409.9 199.9h0M429.1 180.7h0M438.0 192.8h0M434.1 199.9h0M429.1 192.8h0M434.1 151.0h0M409.9 199.9h0M443.8 166.0h0M500.6 108.5h0M440.6 169.9h0M505.2 108.6h0M523.2 90.8h0M501.1 115.2h0M452.3 131.0h0M459.9 125.3h0M523.4 53.6h0M502.0 108.8h0M507.7 105.5h0M527.8 61.9h0M491.4 113.4h0M478.2 118.3h0M461.3 121.4h0M501.5 111.2h0M484.5 109.7h0M484.0 133.8h0M467.6 119.0h0M504.4 90.8h0M484.1 121.0h0M441.2 164.6h0M535.6 78.9h0M513.6 101.7h0M460.5 151.3h0M540.9 70.5h0M530.9 51.9h0M550.0 56.9h0M501.3 113.4h0M441.9 150.9h0M486.8 105.9h0M464.4 134.7h0M491.2 120.4h0M498.2 57.4h0M456.3 156.1h0M488.7 127.6h0M484.7 73.8h0M520.1 93.2h0M454.2 144.8h0M564.7 38.7h0M460.3 120.8h0M495.1 118.3h0M504.3 72.5h0M530.1 48.3h0M497.9 68.8h0M560.4 3.8h0M533.2 83.0h0M518.6 83.0h0M540.9 63.9h0M463.5 140.3h0M512.7 94.5h0M500.4 96.6h0M481.2 102.8h0M481.5 112.3h0M516.0 93.1h0M484.9 112.5h0M490.3 121.9h0M520.3 98.0h0M516.0 76.8h0M543.1 75.1h0M486.9 125.7h0M510.4 101.4h0M488.9 110.3h0M501.8 110.6h0M479.9 131.5h0M496.1 112.0h0M479.4 113.1h0M468.7 142.7h0M499.2 117.8h0M474.2 79.2h0M464.2 132.3h0M433.6 106.6h0M533.9 50.3h0M541.3 72.9h0M535.3 78.0h0M531.8 61.5h0M487.1 124.0h0M513.7 102.1h0M486.7 101.3h0M471.3 137.9h0M431.6 168.1h0M471.3 135.5h0M564.7 25.8h0M486.4 128.8h0M476.6 106.6h0M520.5 90.7h0M486.7 119.7h0M536.4 72.6h0M457.6 144.8h0M447.9 117.5h0M528.3 81.0h0M522.8 68.7h0M470.3 131.7h0M510.0 105.4h0M533.0 84.7h0M505.6 94.7h0M539.3 49.2h0M485.5 132.3h0M512.6 75.2h0M511.6 105.5h0M474.8 116.3h0M458.8 153.7h0M477.8 114.0h0M559.8 17.1h0M564.7 51.9h0M519.7 86.4h0M441.4 174.3h0M516.4 97.1h0M494.4 116.6h0M487.0 123.2h0M564.7 39.3h0M544.8 67.9h0M427.1 180.3h0M423.5 165.5h0M488.8 126.0h0M495.6 121.4h0M552.2 64.4h0M495.1 18.5h0M477.9 119.2h0M474.1 126.9h0M508.2 87.7h0M476.2 137.0h0M457.9 157.8h0M473.6 77.8h0M451.2 124.6h0M479.2 110.0h0M540.8 47.7h0M522.0 55.9h0M509.3 35.2h0M474.7 139.8h0M509.4 101.5h0M455.9 133.2h0M467.4 119.6h0M454.3 125.0h0M488.4 128.3h0M484.3 127.4h0M468.2 130.1h0M452.4 141.1h0M564.7 48.0h0M523.9 90.7h0M509.8 102.1h0M482.2 112.5h0M479.9 131.9h0M474.5 93.1h0M529.1 70.8h0M492.2 121.0h0M489.5 89.0h0M499.8 104.4h0M532.5 67.0h0M468.6 143.5h0M488.8 68.9h0M469.2 141.0h0M520.6 58.9h0M505.8 105.5h0M485.2 110.0h0M472.3 108.1h0M527.2 71.4h0M550.2 46.2h0M492.6 85.4h0M497.4 89.4h0M488.6 85.7h0M519.7 97.1h0M498.9 77.2h0M501.0 108.5h0M536.1 36.7h0M511.3 42.5h0M486.4 41.3h0M504.2 107.9h0M489.1 125.6h0M517.1 93.1h0M484.6 79.1h0M484.4 101.0h0M462.8 142.5h0M561.3 50.8h0M448.4 161.7h0M470.5 126.8h0M475.4 113.3h0M500.9 115.5h0M512.6 80.0h0M474.2 67.4h0M469.7 135.1h0M500.7 111.1h0M421.0 161.9h0M503.1 113.2h0M526.8 74.6h0M544.6 58.4h0M530.9 58.0h0M528.1 26.5h0M460.8 156.5h0M480.0 93.6h0M488.8 125.2h0M471.8 25.8h0M522.2 75.8h0M517.6 80.8h0M463.0 115.6h0M486.7 129.0h0M508.6 96.9h0M564.7 1.6h0M469.7 110.7h0M473.2 26.2h0M518.2 93.8h0M480.6 132.1h0M503.6 52.6h0M540.9 73.0h0M499.2 117.0h0M456.9 147.8h0M515.7 1.6h0M475.7 124.4h0M498.4 90.5h0M520.0 72.1h0M461.0 138.0h0M514.8 91.5h0M511.2 85.9h0M495.8 68.0h0M543.0 70.2h0M519.5 33.4h0M523.6 94.6h0M512.5 96.6h0M509.2 106.8h0M440.6 155.4h0M497.8 82.6h0M453.3 69.3h0M554.1 45.7h0M492.0 122.8h0M525.4 24.0h0M465.2 121.0h0M471.0 114.9h0M516.6 71.3h0M469.5 139.9h0M519.5 73.3h0M563.1 42.8h0M460.3 122.6h0M495.9 113.3h0M511.0 92.0h0M456.3 133.7h0M491.7 80.6h0M539.4 22.4h0M456.9 145.5h0M479.1 118.4h0M452.9 165.2h0M521.6 49.2h0M469.6 129.8h0M457.3 154.1h0M480.8 123.4h0M475.7 141.3h0M550.7 26.9h0M419.6 130.3h0M550.3 54.1h0M485.7 125.4h0M486.4 23.0h0M513.5 13.2h0M522.1 92.6h0M487.2 105.1h0M470.4 97.0h0M480.7 104.2h0M470.0 123.5h0M481.0 124.4h0M462.5 147.3h0M475.9 117.0h0M490.7 64.5h0M460.8 149.4h0M476.9 101.9h0M489.7 125.9h0M482.9 105.5h0M463.5 104.7h0M458.7 129.7h0M512.0 103.1h0M491.8 119.5h0M499.1 88.6h0M543.3 12.9h0M447.4 155.2h0M525.7 88.5h0M529.4 87.6h0M526.9 87.5h0M474.9 110.3h0M456.1 156.7h0M526.8 73.1h0M524.0 83.6h0M524.8 85.2h0M507.7 91.2h0M511.8 77.9h0M518.0 99.9h0M556.8 55.6h0M476.6 134.7h0M528.2 85.6h0M472.1 130.5h0M507.7 106.4h0M504.9 19.8h0M543.0 1.6h0M520.1 55.8h0M522.0 90.6h0M469.0 145.2h0M564.7 37.7h0M479.1 137.3h0M498.7 103.2h0M505.4 112.1h0M505.2 95.2h0M488.6 107.5h0M470.6 140.7h0M462.5 152.2h0M424.4 191.6h0M512.7 98.7h0M484.3 118.5h0M500.4 115.3h0M498.4 85.1h0M492.3 121.1h0M482.9 133.8h0M516.8 19.0h0M549.4 3.5h0M502.2 108.1h0M475.8 136.3h0M456.8 156.4h0M464.7 147.3h0M483.1 97.8h0M445.7 161.2h0M453.2 162.0h0M471.8 135.3h0M516.9 87.9h0M501.7 107.0h0M474.4 84.4h0M507.7 70.0h0M502.8 78.7h0M499.5 107.3h0M491.8 123.4h0M466.4 96.6h0M500.8 92.9h0M511.4 66.2h0M532.0 79.4h0M488.2 91.4h0M483.5 130.8h0M531.3 50.6h0M488.6 120.4h0M508.1 103.6h0M543.8 52.6h0M464.1 145.3h0M474.9 140.0h0M528.6 86.1h0M544.4 27.2h0M477.8 140.0h0M528.6 86.7h0M493.0 109.8h0M527.9 58.5h0M521.5 89.6h0M510.9 99.0h0M525.5 43.2h0M558.8 35.7h0M520.8 81.9h0M512.7 44.0h0M435.6 133.5h0M546.6 52.5h0M438.2 159.5h0M439.5 139.8h0M448.0 81.5h0M496.7 62.3h0M507.4 46.6h0M530.3 87.0h0M506.0 107.3h0M441.8 160.2h0M506.6 69.8h0M512.6 98.7h0M473.7 143.5h0M533.4 68.1h0M472.0 113.1h0M511.1 69.8h0M465.9 146.1h0M499.8 91.6h0M537.9 69.3h0M524.0 47.9h0M497.5 113.9h0M526.3 90.0h0M465.7 142.0h0M552.1 41.6h0M518.3 93.8h0M481.4 136.1h0M461.9 129.9h0M500.0 117.2h0M497.1 96.8h0M462.7 106.9h0M496.7 111.2h0M530.4 47.4h0M500.1 74.4h0M515.7 67.5h0M467.7 119.8h0M499.9 82.8h0M541.0 71.3h0M540.8 13.8h0M492.1 88.7h0M475.2 70.2h0M484.8 115.9h0M464.7 153.4h0M477.2 131.0h0M502.9 113.3h0M467.3 125.1h0M536.9 65.9h0M496.8 88.6h0M467.8 139.0h0M495.5 116.0h0M497.0 84.2h0M481.4 129.8h0M490.2 118.2h0M483.4 122.0h0M448.0 169.3h0M507.3 35.4h0M493.5 117.1h0M484.8 107.1h0M471.9 117.2h0M512.9 93.3h0M453.9 157.0h0M460.8 153.1h0M470.3 104.7h0M501.6 109.7h0M511.6 91.9h0M564.7 37.1h0M491.5 70.2h0M495.8 108.0h0M488.3 45.0h0M466.7 143.1h0M556.1 52.7h0M538.5 56.8h0M479.5 105.1h0M477.0 117.3h0M474.1 112.6h0M500.4 117.8h0M510.4 112.4h0M488.5 141.9h0M453.0 141.1h0M508.0 108.7h0M550.6 62.5h0M502.4 124.7h0M503.3 126.9h0M480.9 136.1h0M491.7 136.3h0M492.0 138.6h0M525.2 105.1h0M531.0 85.2h0M501.2 100.2h0M472.3 138.1h0M461.1 161.2h0M478.0 149.6h0M450.0 180.2h0M466.0 151.9h0M502.7 105.2h0M512.1 109.2h0M523.8 106.7h0M508.4 105.5h0M483.2 146.9h0M508.1 112.3h0M449.0 172.2h0M492.7 136.7h0M467.5 157.7h0M490.3 128.2h0M477.1 150.4h0M480.4 134.3h0M490.5 138.8h0M481.8 136.2h0M523.5 99.4h0M498.8 126.4h0M558.6 51.5h0M481.4 140.4h0M515.6 100.6h0M526.0 98.8h0M470.3 145.2h0M548.0 81.6h0M498.1 130.8h0M498.6 128.2h0M496.5 105.6h0M487.7 138.4h0M490.1 128.4h0M443.0 179.3h0M506.4 123.1h0M529.0 91.5h0M510.5 91.0h0M458.8 167.3h0M479.5 151.4h0M483.9 146.9h0M502.7 117.8h0M488.9 126.7h0M475.8 135.5h0M479.9 121.1h0M452.4 160.1h0M510.2 120.3h0M486.3 144.5h0M510.8 113.8h0M471.8 156.1h0M493.9 136.4h0M446.2 178.0h0M518.0 110.7h0M492.1 131.1h0M506.6 111.9h0M518.6 99.7h0M493.1 135.5h0M505.5 106.3h0M459.1 160.7h0M465.6 144.0h0M463.3 163.1h0M500.9 127.4h0M509.1 117.9h0M462.2 166.0h0M476.9 152.3h0M502.2 118.2h0M494.4 131.1h0M494.9 120.5h0M498.9 112.5h0M482.0 143.8h0M515.1 114.7h0M488.7 131.7h0M503.0 125.2h0M495.9 126.6h0M551.0 77.3h0M508.6 109.9h0M526.0 99.0h0M494.1 123.5h0M466.2 156.1h0M490.0 127.5h0M493.8 135.6h0M466.4 148.7h0M500.7 116.2h0M511.6 104.6h0M456.8 173.6h0M558.6 50.9h0M503.1 119.0h0M475.6 148.0h0M526.2 97.2h0M481.1 145.9h0M527.4 103.3h0M468.2 146.5h0M486.5 140.7h0M531.0 89.9h0M495.1 135.2h0M484.7 137.6h0M533.6 94.1h0M507.1 98.6h0M492.7 121.5h0M487.4 141.8h0M517.1 100.0h0M467.9 151.6h0M546.1 81.1h0M514.9 104.7h0M532.9 77.4h0M503.7 125.0h0M493.4 134.2h0M487.9 127.5h0M536.8 92.8h0M449.0 176.0h0M488.7 136.2h0M497.6 114.9h0M528.8 96.3h0M464.1 120.6h0M494.3 107.6h0M487.0 132.5h0M518.4 106.9h0M462.5 162.6h0M533.5 94.8h0M538.6 89.0h0M481.6 124.9h0M493.1 113.5h0M503.0 126.5h0M489.5 126.0h0M488.6 135.6h0M503.3 108.3h0M522.5 107.0h0M468.1 154.0h0M511.4 96.8h0M476.4 146.2h0M503.3 116.0h0M503.2 115.5h0M478.5 148.1h0M490.2 128.5h0M495.4 134.9h0M496.8 113.7h0M538.5 90.7h0M486.6 142.5h0M481.5 148.0h0M496.3 112.9h0M506.9 118.4h0M474.7 148.5h0M485.7 132.2h0M501.4 126.5h0M467.1 145.9h0M477.2 145.9h0M494.9 116.6h0M496.5 130.3h0M495.4 135.1h0M471.6 147.4h0M494.4 132.8h0M498.1 77.7h0M464.7 165.0h0M526.9 103.7h0M497.0 130.0h0M488.0 141.9h0M491.8 135.5h0M474.2 147.9h0M467.9 158.8h0M469.2 159.4h0M477.0 153.5h0M474.8 155.3h0M517.6 98.3h0M493.8 115.5h0M480.8 148.9h0M506.1 120.5h0M481.8 120.6h0M504.3 125.3h0M493.8 123.6h0M495.5 127.3h0M448.8 178.9h0M509.0 110.6h0M467.4 153.4h0M507.8 120.7h0M500.5 129.4h0M469.6 159.1h0M501.5 120.8h0M458.4 156.1h0M483.0 122.6h0M488.6 142.0h0M454.4 169.0h0M494.4 126.9h0M511.9 118.4h0M497.1 115.3h0M512.9 114.1h0M486.8 139.1h0M479.7 117.9h0M533.4 90.7h0M519.2 109.4h0M502.5 118.0h0M448.9 168.2h0M511.1 117.9h0M512.9 84.4h0M542.3 87.9h0M497.8 124.8h0M558.6 44.9h0M512.9 117.6h0M510.1 115.9h0M484.2 136.7h0M487.3 142.7h0M503.7 102.6h0M501.3 121.2h0M472.5 152.6h0M517.3 104.1h0M508.9 120.8h0M477.9 146.6h0M485.1 130.9h0M473.4 152.1h0M497.1 110.5h0M463.5 153.9h0M490.6 136.6h0M529.9 86.8h0M532.2 94.4h0M494.9 104.9h0M501.1 122.5h0M522.9 83.9h0M507.4 116.0h0M495.4 132.7h0M524.8 101.2h0M480.7 139.6h0M524.2 104.8h0M517.1 107.1h0M524.7 89.8h0M533.8 86.4h0M490.7 124.3h0M491.8 130.0h0M497.5 123.3h0M491.0 135.7h0M511.7 115.6h0M498.0 124.3h0M473.4 156.5h0M443.6 185.5h0M478.5 115.2h0M501.0 125.7h0M467.9 159.8h0M493.7 135.2h0M493.8 128.8h0M498.8 128.9h0M528.3 97.2h0M494.2 116.8h0M490.0 102.8h0M496.4 132.5h0M526.2 83.8h0M506.8 117.1h0M509.4 119.5h0M449.4 158.7h0M472.7 139.7h0M500.2 122.7h0M468.8 159.9h0M512.0 114.8h0M482.4 147.5h0M488.9 117.6h0M496.6 133.0h0M518.7 102.2h0M516.3 112.2h0M545.3 78.0h0M457.0 161.5h0M468.7 127.3h0M484.7 136.9h0M527.1 99.5h0M510.2 115.8h0M469.7 155.6h0M474.2 155.9h0M542.8 83.5h0M506.2 111.9h0M470.1 153.9h0M470.2 156.3h0M515.8 113.8h0M476.5 148.9h0M490.1 100.9h0M490.3 130.9h0M474.4 152.7h0M505.5 109.4h0M497.1 129.2h0M496.2 127.2h0M503.2 124.5h0M495.8 134.2h0M509.4 114.6h0M454.3 164.5h0M540.3 78.6h0M522.2 98.4h0M496.4 104.8h0M483.6 117.9h0M500.2 126.0h0M513.1 116.9h0M468.5 157.6h0M480.2 138.2h0M535.8 73.2h0M488.0 91.2h0M496.8 134.1h0M483.7 114.3h0M495.2 130.6h0M481.0 142.1h0M472.1 154.3h0M505.4 115.8h0M480.5 146.2h0M481.9 140.9h0M507.9 106.1h0M509.3 116.4h0M523.5 92.6h0M504.2 111.1h0M495.3 135.3h0M492.4 112.2h0M501.8 126.5h0M476.4 150.8h0M456.0 152.1h0M520.5 108.6h0M487.6 143.2h0M481.2 149.6h0M532.2 96.5h0M465.0 162.3h0M512.7 113.8h0M472.1 140.2h0M500.3 119.2h0M497.3 114.9h0M505.3 103.7h0M465.2 144.0h0M484.6 141.5h0M508.9 118.2h0M501.9 127.6h0M482.2 121.4h0M497.1 133.5h0M501.0 124.2h0M447.3 166.8h0M472.3 158.0h0M511.2 107.1h0M503.3 124.7h0M498.1 121.3h0M501.3 126.7h0M450.1 174.3h0M502.3 121.0h0M483.0 140.9h0M537.5 93.1h0M448.1 169.4h0M496.5 117.5h0M477.3 149.1h0M483.1 144.9h0M471.1 150.8h0M474.1 152.3h0M486.4 118.7h0M482.8 126.0h0M464.8 164.1h0M533.0 96.5h0M517.5 111.9h0M512.4 104.3h0M481.4 147.9h0M532.7 98.1h0M539.5 83.1h0M454.0 174.9h0M534.4 84.3h0M461.8 165.3h0M507.9 113.6h0M496.2 133.9h0M502.6 121.4h0M509.3 73.9h0M470.8 153.5h0M495.5 133.9h0M476.3 148.2h0M506.3 123.7h0M458.6 170.3h0M530.6 90.0h0M527.5 100.3h0M494.4 135.2h0M515.3 112.8h0M537.1 89.5h0M522.6 108.3h0M511.1 103.2h0M473.3 110.1h0M491.3 130.3h0M539.8 90.6h0M501.6 113.6h0M510.4 107.8h0M493.5 137.5h0M521.7 71.0h0M542.5 67.6h0M481.9 145.3h0M514.7 112.1h0M511.9 96.0h0M511.3 112.2h0M487.4 142.7h0M497.9 132.1h0M541.6 86.9h0M452.6 177.5h0M478.0 149.9h0M515.3 108.8h0M499.3 127.0h0M451.6 175.5h0M510.3 114.3h0M489.9 115.1h0M445.4 165.0h0M475.5 146.5h0M492.7 134.8h0M473.6 149.5h0M488.8 131.3h0M495.8 126.5h0M524.1 91.7h0M518.3 101.9h0M506.6 124.0h0M479.3 145.3h0M471.8 155.9h0M543.1 72.0h0M501.5 100.6h0M480.0 127.7h0M518.5 111.7h0M512.9 103.6h0M486.5 135.2h0M500.2 129.3h0M531.7 95.2h0M455.1 164.4h0M481.0 149.4h0M485.8 143.8h0M489.6 136.4h0M446.2 182.2h0M484.2 129.3h0M505.3 123.8h0M489.9 128.6h0M482.0 146.5h0M484.1 140.4h0M500.8 124.2h0M488.0 137.5h0M541.3 84.5h0M517.2 111.0h0M491.7 138.2h0M496.9 130.7h0M450.8 159.9h0M489.4 140.0h0M522.9 105.9h0M484.4 144.3h0M539.6 82.6h0M502.5 127.1h0M476.7 154.0h0M484.6 127.1h0M514.7 109.9h0M498.2 120.3h0M476.5 138.9h0M493.3 97.6h0M490.1 136.6h0M440.1 185.2h0M537.6 83.7h0M490.9 132.7h0M495.2 129.5h0M446.1 176.2h0M464.5 161.8h0M510.2 119.4h0M516.9 98.9h0M506.6 113.0h0M516.4 98.8h0M482.0 132.5h0M479.8 148.9h0M499.0 130.8h0M497.0 133.3h0M462.4 157.7h0M492.9 124.4h0M489.8 136.4h0M507.0 95.3h0M461.3 157.6h0M492.5 132.5h0M459.2 163.5h0M523.2 107.0h0M479.0 142.4h0M504.9 124.2h0M488.4 141.3h0M521.7 99.7h0M481.1 146.0h0M486.9 126.5h0M520.7 89.9h0M486.1 114.8h0M514.8 152.6h0M474.1 184.0h0M520.3 135.6h0M525.0 141.0h0M487.3 179.1h0M532.7 122.7h0M513.0 140.9h0M484.1 169.4h0M479.3 182.3h0M542.0 106.6h0M493.6 163.3h0M484.4 166.7h0M507.2 141.8h0M563.8 89.6h0M485.2 177.1h0M490.2 165.7h0M548.6 101.3h0M544.7 116.2h0M553.2 99.0h0M520.9 136.7h0M539.6 114.4h0M539.5 116.4h0M526.0 138.1h0M486.9 179.0h0M549.2 110.1h0M520.1 140.4h0M515.9 133.7h0M478.5 182.7h0M531.0 118.1h0M522.0 133.4h0" stroke="#bdbdbd" stroke-width="2.1" stroke-linecap="round" fill="none"/>
<circle cx="518.0" cy="9.5" r="1.9" fill="#df4a2c"/>
<circle cx="508.8" cy="24.6" r="1.9" fill="#df4a2c"/>
<circle cx="479.3" cy="49.1" r="1.9" fill="#df4a2c"/>
<circle cx="485.8" cy="51.0" r="1.9" fill="#df4a2c"/>
<circle cx="487.7" cy="49.8" r="1.9" fill="#df4a2c"/>
<circle cx="490.4" cy="48.6" r="1.9" fill="#df4a2c"/>
<circle cx="491.9" cy="47.9" r="1.9" fill="#df4a2c"/>
<circle cx="469.4" cy="58.6" r="1.9" fill="#df4a2c"/>
<circle cx="443.6" cy="78.9" r="1.9" fill="#df4a2c"/>
<circle cx="465.0" cy="93.2" r="1.9" fill="#df4a2c"/>
<circle cx="428.6" cy="138.8" r="1.9" fill="#df4a2c"/>
<circle cx="563.5" cy="189.5" r="1.9" fill="#df4a2c"/>
<text x="567.4" y="195.3" font-size="13.35" fill="#1a1a1a">PA5438</text>
<path d="M399.6 0V221.8H621.5" fill="none" stroke="#1a1a1a" stroke-width="1.5"/>
<line x1="395.8" y1="211.6" x2="399.6" y2="211.6" stroke="#1a1a1a" stroke-width="1.25"/>
<text x="392.6" y="215.7" text-anchor="end" font-size="11.1">0</text>
<line x1="409.9" y1="221.8" x2="409.9" y2="225.60000000000002" stroke="#1a1a1a" stroke-width="1.25"/>
<text x="410.1" y="240.8" text-anchor="middle" font-size="11.1">0</text>
<line x1="395.8" y1="187.4" x2="399.6" y2="187.4" stroke="#1a1a1a" stroke-width="1.25"/>
<text x="392.6" y="191.5" text-anchor="end" font-size="11.1">2</text>
<line x1="434.1" y1="221.8" x2="434.1" y2="225.60000000000002" stroke="#1a1a1a" stroke-width="1.25"/>
<text x="434.3" y="240.8" text-anchor="middle" font-size="11.1">2</text>
<line x1="395.8" y1="163.2" x2="399.6" y2="163.2" stroke="#1a1a1a" stroke-width="1.25"/>
<text x="392.6" y="167.3" text-anchor="end" font-size="11.1">4</text>
<line x1="458.3" y1="221.8" x2="458.3" y2="225.60000000000002" stroke="#1a1a1a" stroke-width="1.25"/>
<text x="458.5" y="240.8" text-anchor="middle" font-size="11.1">4</text>
<line x1="395.8" y1="139.1" x2="399.6" y2="139.1" stroke="#1a1a1a" stroke-width="1.25"/>
<text x="392.6" y="143.2" text-anchor="end" font-size="11.1">6</text>
<line x1="482.4" y1="221.8" x2="482.4" y2="225.60000000000002" stroke="#1a1a1a" stroke-width="1.25"/>
<text x="482.6" y="240.8" text-anchor="middle" font-size="11.1">6</text>
<line x1="395.8" y1="114.9" x2="399.6" y2="114.9" stroke="#1a1a1a" stroke-width="1.25"/>
<text x="392.6" y="119.0" text-anchor="end" font-size="11.1">8</text>
<line x1="506.6" y1="221.8" x2="506.6" y2="225.60000000000002" stroke="#1a1a1a" stroke-width="1.25"/>
<text x="506.8" y="240.8" text-anchor="middle" font-size="11.1">8</text>
<line x1="395.8" y1="90.7" x2="399.6" y2="90.7" stroke="#1a1a1a" stroke-width="1.25"/>
<text x="392.6" y="94.8" text-anchor="end" font-size="11.1">10</text>
<line x1="530.8" y1="221.8" x2="530.8" y2="225.60000000000002" stroke="#1a1a1a" stroke-width="1.25"/>
<text x="532.3" y="240.8" text-anchor="middle" font-size="11.1">10</text>
<line x1="395.8" y1="66.5" x2="399.6" y2="66.5" stroke="#1a1a1a" stroke-width="1.25"/>
<text x="392.6" y="70.6" text-anchor="end" font-size="11.1">12</text>
<line x1="555.0" y1="221.8" x2="555.0" y2="225.60000000000002" stroke="#1a1a1a" stroke-width="1.25"/>
<text x="556.5" y="240.8" text-anchor="middle" font-size="11.1">12</text>
<line x1="395.8" y1="42.3" x2="399.6" y2="42.3" stroke="#1a1a1a" stroke-width="1.25"/>
<text x="392.6" y="46.4" text-anchor="end" font-size="11.1">14</text>
<line x1="579.2" y1="221.8" x2="579.2" y2="225.60000000000002" stroke="#1a1a1a" stroke-width="1.25"/>
<text x="580.7" y="240.8" text-anchor="middle" font-size="11.1">14</text>
<line x1="395.8" y1="18.2" x2="399.6" y2="18.2" stroke="#1a1a1a" stroke-width="1.25"/>
<text x="392.6" y="22.3" text-anchor="end" font-size="11.1">16</text>
<line x1="603.3" y1="221.8" x2="603.3" y2="225.60000000000002" stroke="#1a1a1a" stroke-width="1.25"/>
<text x="604.8" y="240.8" text-anchor="middle" font-size="11.1">16</text>
<text x="509.6" y="254.2" text-anchor="middle" font-size="11.6">Baseline</text>
<text x="510.2" y="267.3" text-anchor="middle" font-size="11.6">(log<tspan font-size="7" dy="0.3">2</tspan><tspan dy="-0.3"> sgRNA umicounts)</tspan></text>
<text transform="translate(354.6 123.6) rotate(-90)" text-anchor="middle" font-size="11.6">Tobramycin</text>
<text transform="translate(369.2 127.2) rotate(-90)" text-anchor="middle" font-size="11.4">(log<tspan font-size="7" dy="0.3">2</tspan><tspan dy="-0.3"> sgRNA umicounts)</tspan></text>
</g>
<g id="pC">
<text x="6.6" y="313.9" font-size="17.5" font-weight="bold" style="stroke-width:.5px">C</text>
<defs>
<linearGradient id="g1" x1="0" y1="0" x2="1" y2="0"><stop offset="0" stop-color="#23623a"/><stop offset="0.42" stop-color="#27693f"/><stop offset="0.58" stop-color="#2a6046"/><stop offset="0.7" stop-color="#2c534e"/><stop offset="0.84" stop-color="#2e4a56"/><stop offset="1" stop-color="#31495b"/></linearGradient>
<radialGradient id="g1b" cx="0.88" cy="1.2" r="0.68"><stop offset="0" stop-color="#1a2f47" stop-opacity="1"/><stop offset="0.5" stop-color="#1d354a" stop-opacity="0.72"/><stop offset="1" stop-color="#1e384a" stop-opacity="0"/></radialGradient>
<linearGradient id="vg1" x1="0" y1="0" x2="0" y2="1"><stop offset="0" stop-color="#123222" stop-opacity="0.55"/><stop offset="1" stop-color="#123222" stop-opacity="0"/></linearGradient>
<radialGradient id="sp1" cx="0.5" cy="0.45" r="0.5"><stop offset="0" stop-color="#74b982"/><stop offset="0.8" stop-color="#7abe87"/><stop offset="1" stop-color="#8ac794"/></radialGradient>
<filter id="bl1" x="-10%" y="-10%" width="120%" height="120%"><feGaussianBlur stdDeviation="0.7"/></filter>
<filter id="bl2" x="-10%" y="-10%" width="120%" height="120%"><feGaussianBlur stdDeviation="0.45"/></filter>
<filter id="bl3" x="-20%" y="-20%" width="140%" height="140%"><feGaussianBlur stdDeviation="3"/></filter>
<filter id="bl4" x="-40%" y="-60%" width="180%" height="220%"><feGaussianBlur stdDeviation="6"/></filter>
<clipPath id="c1"><rect x="85.8" y="342.1" width="212.39999999999998" height="115.5"/></clipPath>
</defs>
<g clip-path="url(#c1)">
<rect x="85.8" y="342.1" width="212.39999999999998" height="115.5" fill="url(#g1)"/>
<rect x="85.8" y="342.1" width="212.39999999999998" height="115.5" fill="url(#g1b)"/>
<rect x="85.8" y="342.1" width="212.39999999999998" height="9" fill="url(#vg1)"/>
<path d="M290.5 342.1 Q 296 347 298.2 353 V342.1Z" fill="#6b7452" filter="url(#bl1)" opacity="0.9"/>
<path d="M278.5 342.1 Q 284 349 288.5 355.5" stroke="#8fa3a6" stroke-width="0.7" fill="none" opacity="0.75" filter="url(#bl2)"/>
<path d="M297.4 352 V457.6" stroke="#7d97a3" stroke-width="1.2" fill="none" opacity="0.55" filter="url(#bl2)"/>
<rect x="85.8" y="342.1" width="2.2" height="115.5" fill="#163a26" opacity="0.8"/>
<rect x="85.8" y="342.1" width="212.39999999999998" height="1.5" fill="#163a2a" opacity="0.6"/>
<g filter="url(#bl1)">
<circle cx="100.8" cy="363.4" r="8.9" fill="#b9d9bd"/>
<circle cx="100.8" cy="362.7" r="8.65" fill="url(#sp1)"/>
<circle cx="125.8" cy="364.8" r="8.8" fill="#b9d9bd"/>
<circle cx="125.8" cy="364.1" r="8.55" fill="url(#sp1)"/>
<circle cx="152.8" cy="362.7" r="8.8" fill="#b9d9bd"/>
<circle cx="152.8" cy="362.0" r="8.55" fill="url(#sp1)"/>
<circle cx="178.8" cy="362.3" r="8.6" fill="#b9d9bd"/>
<circle cx="178.8" cy="361.6" r="8.35" fill="url(#sp1)"/>
<circle cx="204.6" cy="360.9" r="8.6" fill="#b9d9bd"/>
<circle cx="204.6" cy="360.2" r="8.35" fill="url(#sp1)"/>
<circle cx="232.0" cy="360.5" r="8.5" fill="#b9d9bd"/>
<circle cx="232.0" cy="359.8" r="8.25" fill="url(#sp1)"/>
<circle cx="98.1" cy="403.9" r="9.2" fill="#b9d9bd"/>
<circle cx="98.1" cy="403.2" r="8.95" fill="url(#sp1)"/>
<circle cx="124.7" cy="403.9" r="8.6" fill="#b9d9bd"/>
<circle cx="124.7" cy="403.2" r="8.35" fill="url(#sp1)"/>
<circle cx="150.7" cy="403.9" r="8.5" fill="#b9d9bd"/>
<circle cx="150.7" cy="403.2" r="8.25" fill="url(#sp1)"/>
<circle cx="177.3" cy="405.0" r="8.5" fill="#b9d9bd"/>
<circle cx="177.3" cy="404.3" r="8.25" fill="url(#sp1)"/>
<circle cx="203.9" cy="403.2" r="8.3" fill="#b9d9bd"/>
<circle cx="203.9" cy="402.5" r="8.05" fill="url(#sp1)"/>
<circle cx="230.6" cy="402.9" r="8.2" fill="#b9d9bd"/>
<circle cx="230.6" cy="402.2" r="7.949999999999999" fill="url(#sp1)"/>
<circle cx="100.8" cy="443.9" r="9.0" fill="#b9d9bd"/>
<circle cx="100.8" cy="443.2" r="8.75" fill="url(#sp1)"/>
<circle cx="127.2" cy="443.2" r="8.8" fill="#b9d9bd"/>
<circle cx="127.2" cy="442.5" r="8.55" fill="url(#sp1)"/>
<circle cx="153.2" cy="442.8" r="8.7" fill="#b9d9bd"/>
<circle cx="153.2" cy="442.1" r="8.45" fill="url(#sp1)"/>
<circle cx="180.9" cy="443.2" r="8.5" fill="#b9d9bd"/>
<circle cx="180.9" cy="442.5" r="8.25" fill="url(#sp1)"/>
<circle cx="206.2" cy="442.2" r="8.5" fill="#b9d9bd"/>
<circle cx="206.2" cy="441.5" r="8.25" fill="url(#sp1)"/>
<circle cx="234.2" cy="441.09999999999997" r="8.7" fill="#b9d9bd"/>
<circle cx="234.2" cy="440.4" r="8.45" fill="url(#sp1)"/>
<circle cx="100.8" cy="443.2" r="8.6" fill="#9cc27a" opacity="0.55"/>
<circle cx="100.8" cy="362.7" r="8.5" fill="#8fc08a" opacity="0.5"/>
<circle cx="98.1" cy="403.2" r="8.8" fill="#8cc08c" opacity="0.4"/>
<circle cx="230.6" cy="402.2" r="7.6" fill="#6fa878" opacity="0.45"/>
</g>
<g filter="url(#bl2)">
<ellipse cx="252.9" cy="357.9" rx="1.32" ry="1.28" transform="rotate(56 252.9 357.9)" fill="#d3dfd5"/><ellipse cx="254.0" cy="361.2" rx="1.53" ry="1.12" transform="rotate(5 254.0 361.2)" fill="#d3dfd5"/><ellipse cx="259.4" cy="353.6" rx="1.46" ry="1.22" transform="rotate(55 259.4 353.6)" fill="#d3dfd5"/><ellipse cx="257.0" cy="359.1" rx="1.52" ry="0.98" transform="rotate(47 257.0 359.1)" fill="#d3dfd5"/><ellipse cx="259.3" cy="354.9" rx="1.59" ry="1.29" transform="rotate(173 259.3 354.9)" fill="#d3dfd5"/><ellipse cx="258.5" cy="353.6" rx="1.42" ry="0.96" transform="rotate(175 258.5 353.6)" fill="#d3dfd5"/><ellipse cx="257.1" cy="358.2" rx="1.70" ry="1.21" transform="rotate(110 257.1 358.2)" fill="#d3dfd5"/><ellipse cx="260.4" cy="357.7" rx="1.62" ry="1.08" transform="rotate(11 260.4 357.7)" fill="#d3dfd5"/><ellipse cx="255.5" cy="353.7" rx="1.67" ry="1.00" transform="rotate(151 255.5 353.7)" fill="#d3dfd5"/><ellipse cx="254.6" cy="358.1" rx="1.80" ry="0.96" transform="rotate(148 254.6 358.1)" fill="#d3dfd5"/><ellipse cx="256.9" cy="353.1" rx="1.35" ry="1.22" transform="rotate(34 256.9 353.1)" fill="#d3dfd5"/><ellipse cx="264.6" cy="361.4" rx="1.89" ry="1.25" transform="rotate(85 264.6 361.4)" fill="#d3dfd5"/><ellipse cx="259.2" cy="358.9" rx="1.72" ry="1.19" transform="rotate(150 259.2 358.9)" fill="#d3dfd5"/><ellipse cx="258.7" cy="361.4" rx="1.71" ry="1.22" transform="rotate(173 258.7 361.4)" fill="#d3dfd5"/><ellipse cx="262.0" cy="362.1" rx="1.92" ry="1.07" transform="rotate(106 262.0 362.1)" fill="#d3dfd5"/><ellipse cx="264.7" cy="359.2" rx="1.94" ry="1.23" transform="rotate(159 264.7 359.2)" fill="#d3dfd5"/><ellipse cx="257.6" cy="355.6" rx="1.81" ry="0.98" transform="rotate(150 257.6 355.6)" fill="#d3dfd5"/><ellipse cx="264.8" cy="360.7" rx="1.33" ry="1.05" transform="rotate(57 264.8 360.7)" fill="#d3dfd5"/><ellipse cx="258.3" cy="355.8" rx="1.52" ry="0.90" transform="rotate(47 258.3 355.8)" fill="#d3dfd5"/>
<ellipse cx="256.6" cy="405.3" rx="1.85" ry="0.94" transform="rotate(108 256.6 405.3)" fill="#d3dfd5"/><ellipse cx="256.5" cy="399.4" rx="1.24" ry="1.01" transform="rotate(118 256.5 399.4)" fill="#d3dfd5"/><ellipse cx="254.7" cy="401.1" rx="1.55" ry="1.17" transform="rotate(76 254.7 401.1)" fill="#d3dfd5"/><ellipse cx="252.8" cy="397.6" rx="1.75" ry="1.06" transform="rotate(34 252.8 397.6)" fill="#d3dfd5"/><ellipse cx="254.4" cy="405.5" rx="1.91" ry="1.21" transform="rotate(57 254.4 405.5)" fill="#d3dfd5"/><ellipse cx="260.5" cy="400.1" rx="1.76" ry="0.94" transform="rotate(19 260.5 400.1)" fill="#d3dfd5"/><ellipse cx="258.5" cy="407.4" rx="1.74" ry="1.24" transform="rotate(116 258.5 407.4)" fill="#d3dfd5"/><ellipse cx="253.2" cy="404.4" rx="1.67" ry="1.24" transform="rotate(79 253.2 404.4)" fill="#d3dfd5"/><ellipse cx="260.5" cy="399.1" rx="1.86" ry="1.10" transform="rotate(125 260.5 399.1)" fill="#d3dfd5"/><ellipse cx="254.5" cy="405.7" rx="1.37" ry="0.94" transform="rotate(7 254.5 405.7)" fill="#d3dfd5"/><ellipse cx="255.6" cy="398.1" rx="1.92" ry="1.23" transform="rotate(69 255.6 398.1)" fill="#d3dfd5"/><ellipse cx="261.4" cy="401.2" rx="1.81" ry="1.06" transform="rotate(35 261.4 401.2)" fill="#d3dfd5"/><ellipse cx="258.0" cy="404.3" rx="1.68" ry="0.95" transform="rotate(4 258.0 404.3)" fill="#d3dfd5"/><ellipse cx="257.7" cy="400.4" rx="1.56" ry="1.10" transform="rotate(112 257.7 400.4)" fill="#d3dfd5"/><ellipse cx="251.0" cy="401.9" rx="1.80" ry="1.13" transform="rotate(111 251.0 401.9)" fill="#d3dfd5"/><ellipse cx="250.9" cy="401.8" rx="1.38" ry="1.18" transform="rotate(100 250.9 401.8)" fill="#d3dfd5"/>
<ellipse cx="265.1" cy="443.8" rx="1.84" ry="1.13" transform="rotate(17 265.1 443.8)" fill="#d3dfd5"/><ellipse cx="256.4" cy="443.5" rx="1.33" ry="1.19" transform="rotate(20 256.4 443.5)" fill="#d3dfd5"/><ellipse cx="257.1" cy="444.8" rx="1.54" ry="1.13" transform="rotate(133 257.1 444.8)" fill="#d3dfd5"/><ellipse cx="265.7" cy="440.1" rx="1.72" ry="1.18" transform="rotate(53 265.7 440.1)" fill="#d3dfd5"/><ellipse cx="267.7" cy="441.5" rx="1.44" ry="1.03" transform="rotate(161 267.7 441.5)" fill="#d3dfd5"/><ellipse cx="256.7" cy="438.7" rx="1.82" ry="0.91" transform="rotate(127 256.7 438.7)" fill="#d3dfd5"/><ellipse cx="258.2" cy="444.4" rx="1.73" ry="1.27" transform="rotate(37 258.2 444.4)" fill="#d3dfd5"/><ellipse cx="258.0" cy="437.9" rx="1.79" ry="1.19" transform="rotate(39 258.0 437.9)" fill="#d3dfd5"/><ellipse cx="263.9" cy="436.4" rx="1.75" ry="1.23" transform="rotate(77 263.9 436.4)" fill="#d3dfd5"/><ellipse cx="261.5" cy="435.1" rx="1.28" ry="1.24" transform="rotate(71 261.5 435.1)" fill="#d3dfd5"/><ellipse cx="256.9" cy="442.0" rx="1.76" ry="1.02" transform="rotate(157 256.9 442.0)" fill="#d3dfd5"/><ellipse cx="260.9" cy="443.0" rx="1.69" ry="0.98" transform="rotate(32 260.9 443.0)" fill="#d3dfd5"/><ellipse cx="261.1" cy="435.5" rx="1.65" ry="1.27" transform="rotate(37 261.1 435.5)" fill="#d3dfd5"/><ellipse cx="263.8" cy="437.9" rx="1.97" ry="1.15" transform="rotate(109 263.8 437.9)" fill="#d3dfd5"/><ellipse cx="267.1" cy="440.3" rx="1.83" ry="0.92" transform="rotate(66 267.1 440.3)" fill="#d3dfd5"/><ellipse cx="265.0" cy="443.7" rx="1.37" ry="1.24" transform="rotate(23 265.0 443.7)" fill="#d3dfd5"/><ellipse cx="259.7" cy="446.4" rx="1.97" ry="1.18" transform="rotate(38 259.7 446.4)" fill="#d3dfd5"/><ellipse cx="255.6" cy="439.8" rx="1.24" ry="1.17" transform="rotate(66 255.6 439.8)" fill="#d3dfd5"/><ellipse cx="256.4" cy="438.3" rx="1.74" ry="1.11" transform="rotate(100 256.4 438.3)" fill="#d3dfd5"/><ellipse cx="261.7" cy="442.9" rx="1.58" ry="1.11" transform="rotate(139 261.7 442.9)" fill="#d3dfd5"/>
<circle cx="279.3" cy="356.6" r="1.2" fill="#cfdcd6"/>
<circle cx="289.6" cy="357.0" r="1.6" fill="#cfdcd6"/>
<circle cx="287.5" cy="355.2" r="1.0" fill="#cfdcd6"/>
<circle cx="278.0" cy="401.2" r="1.1" fill="#cfdcd6"/>
<circle cx="286.5" cy="438.8" r="1.1" fill="#cfdcd6"/>
<circle cx="289.4" cy="439.2" r="1.1" fill="#cfdcd6"/>
<circle cx="284.4" cy="441.8" r="1.1" fill="#cfdcd6"/>
<circle cx="289.0" cy="447.6" r="1.2" fill="#cfdcd6"/>
<circle cx="288.2" cy="444.8" r="1.0" fill="#cfdcd6"/>
</g>
</g>
<text x="19.6" y="338.7" font-size="12.4">Dilution fold</text>
<text x="93.2" y="338.4" font-size="12">10<tspan font-size="7.2" dy="-4.2">0</tspan></text>
<text x="120.0" y="338.4" font-size="12">10<tspan font-size="7.2" dy="-4.2">-1</tspan></text>
<text x="146.0" y="338.4" font-size="12">10<tspan font-size="7.2" dy="-4.2">-2</tspan></text>
<text x="171.0" y="338.4" font-size="12">10<tspan font-size="7.2" dy="-4.2">-3</tspan></text>
<text x="197.4" y="338.4" font-size="12">10<tspan font-size="7.2" dy="-4.2">-4</tspan></text>
<text x="224.0" y="338.4" font-size="12">10<tspan font-size="7.2" dy="-4.2">-5</tspan></text>
<text x="250.7" y="338.4" font-size="12">10<tspan font-size="7.2" dy="-4.2">-6</tspan></text>
<text x="280.2" y="338.4" font-size="12">10<tspan font-size="7.2" dy="-4.2">-7</tspan></text>
<text x="83.2" y="364.9" text-anchor="end" font-size="12.2">WT</text>
<text x="80.6" y="408.3" text-anchor="end" font-size="12.2" letter-spacing="0.15">Δ<tspan font-style="italic" dx="1.3">rccR</tspan></text>
<text x="80.6" y="448.4" text-anchor="end" font-size="12.2" letter-spacing="0.15">Δ<tspan font-style="italic" dx="1.3">rccR</tspan> + <tspan font-style="italic">rccR</tspan></text>
<text x="188" y="474.2" text-anchor="middle" font-size="12">TOB 0 μg/ml</text>
<defs>
<linearGradient id="g2" x1="0" y1="0" x2="1" y2="1"><stop offset="0" stop-color="#1b1f1f"/><stop offset="0.55" stop-color="#232929"/><stop offset="1" stop-color="#1f2525"/></linearGradient>
<clipPath id="c2"><rect x="85.3" y="521.9" width="211.7" height="116.30000000000007"/></clipPath>
</defs>
<g clip-path="url(#c2)">
<rect x="85.3" y="521.9" width="211.7" height="116.30000000000007" fill="url(#g2)"/>
<path d="M200 540 L297 560 L297 585 L190 560Z" fill="#363d3c" opacity="0.4" filter="url(#bl4)"/>
<path d="M120 600 L260 632 L230 637 L110 612Z" fill="#2d3333" opacity="0.4" filter="url(#bl4)"/>
<g filter="url(#bl2)">
<circle cx="93.0" cy="544.9" r="7.0" fill="#4b473f"/><circle cx="93.0" cy="544.9" r="6.6" fill="none" stroke="#77746a" stroke-width="0.7"/><circle cx="95.9" cy="547.9" r="0.80" fill="#5a574e"/><circle cx="96.4" cy="549.5" r="0.54" fill="#2b2a27"/><circle cx="97.0" cy="549.1" r="0.81" fill="#5a574e"/><circle cx="88.2" cy="544.6" r="0.64" fill="#7d796c"/><circle cx="96.4" cy="548.9" r="0.84" fill="#7d796c"/><circle cx="94.8" cy="540.9" r="0.99" fill="#7d796c"/><circle cx="94.2" cy="549.1" r="0.74" fill="#5a574e"/><circle cx="90.6" cy="543.3" r="0.90" fill="#7d796c"/><circle cx="94.4" cy="543.3" r="0.73" fill="#5a574e"/><circle cx="97.9" cy="547.7" r="0.71" fill="#2b2a27"/><circle cx="95.9" cy="548.8" r="0.60" fill="#7d796c"/><circle cx="93.2" cy="546.0" r="0.60" fill="#5a574e"/><circle cx="90.7" cy="548.3" r="0.95" fill="#7d796c"/><circle cx="92.6" cy="545.6" r="0.58" fill="#5a574e"/><circle cx="97.0" cy="544.8" r="0.85" fill="#5a574e"/><circle cx="98.3" cy="546.1" r="0.79" fill="#2b2a27"/><circle cx="91.8" cy="548.0" r="0.54" fill="#5a574e"/><circle cx="98.4" cy="545.7" r="0.73" fill="#2b2a27"/><circle cx="96.6" cy="548.6" r="0.60" fill="#5a574e"/><circle cx="88.4" cy="541.6" r="0.51" fill="#2b2a27"/><circle cx="93.9" cy="542.5" r="0.55" fill="#5a574e"/><circle cx="91.6" cy="549.8" r="0.75" fill="#2b2a27"/><circle cx="94.7" cy="542.7" r="0.66" fill="#7d796c"/><circle cx="98.7" cy="544.1" r="0.67" fill="#2b2a27"/><circle cx="89.9" cy="546.2" r="0.87" fill="#5a574e"/><circle cx="96.4" cy="546.5" r="0.62" fill="#2b2a27"/><circle cx="95.9" cy="540.7" r="0.77" fill="#2b2a27"/><circle cx="91.1" cy="540.0" r="0.96" fill="#7d796c"/><circle cx="95.8" cy="548.7" r="0.57" fill="#7d796c"/><circle cx="94.3" cy="539.4" r="0.88" fill="#7d796c"/>
<circle cx="121.0" cy="546.8" r="7.0" fill="#282a2a"/><circle cx="121.0" cy="553.6" r="0.48" fill="#8e8f8d"/><circle cx="123.1" cy="551.3" r="0.49" fill="#8e8f8d"/><circle cx="119.0" cy="543.1" r="0.76" fill="#8e8f8d"/><circle cx="123.4" cy="543.8" r="0.62" fill="#8e8f8d"/><circle cx="124.7" cy="549.7" r="0.57" fill="#8e8f8d"/><circle cx="115.9" cy="548.3" r="0.77" fill="#8e8f8d"/><circle cx="120.8" cy="551.2" r="0.67" fill="#8e8f8d"/><circle cx="127.4" cy="544.6" r="0.75" fill="#8e8f8d"/><circle cx="127.3" cy="549.5" r="0.66" fill="#8e8f8d"/><circle cx="124.6" cy="543.1" r="0.49" fill="#8e8f8d"/><circle cx="122.6" cy="541.1" r="0.71" fill="#8e8f8d"/><circle cx="122.3" cy="550.9" r="0.71" fill="#8e8f8d"/><circle cx="127.8" cy="547.7" r="0.45" fill="#8e8f8d"/><circle cx="116.8" cy="543.8" r="0.53" fill="#8e8f8d"/><circle cx="124.0" cy="552.3" r="0.77" fill="#8e8f8d"/><circle cx="120.2" cy="541.1" r="0.68" fill="#8e8f8d"/><circle cx="115.5" cy="545.5" r="0.76" fill="#8e8f8d"/><circle cx="120.1" cy="551.3" r="0.78" fill="#8e8f8d"/><circle cx="126.0" cy="544.9" r="0.72" fill="#8e8f8d"/><circle cx="120.7" cy="540.0" r="0.43" fill="#8e8f8d"/><circle cx="125.4" cy="543.6" r="0.58" fill="#8e8f8d"/><circle cx="118.8" cy="541.5" r="0.57" fill="#8e8f8d"/><circle cx="119.3" cy="553.3" r="0.73" fill="#8e8f8d"/><circle cx="125.1" cy="549.9" r="0.71" fill="#8e8f8d"/><circle cx="126.0" cy="542.1" r="0.50" fill="#8e8f8d"/><circle cx="125.7" cy="543.0" r="0.43" fill="#8e8f8d"/><circle cx="121.2" cy="547.4" r="0.42" fill="#6f706f"/><circle cx="120.6" cy="545.8" r="0.61" fill="#6f706f"/><circle cx="123.7" cy="548.3" r="0.61" fill="#6f706f"/><circle cx="121.4" cy="544.7" r="0.54" fill="#6f706f"/><circle cx="122.2" cy="549.9" r="0.44" fill="#6f706f"/><circle cx="120.6" cy="546.7" r="0.43" fill="#6f706f"/><circle cx="120.0" cy="543.9" r="0.54" fill="#6f706f"/><circle cx="121.8" cy="543.9" r="0.56" fill="#6f706f"/>
<circle cx="153.4" cy="541.4" r="0.63" fill="#707170"/><circle cx="149.9" cy="546.7" r="0.68" fill="#707170"/><circle cx="149.8" cy="545.0" r="0.67" fill="#707170"/><circle cx="152.9" cy="544.9" r="0.63" fill="#707170"/><circle cx="153.2" cy="547.0" r="0.64" fill="#707170"/><circle cx="146.7" cy="547.3" r="0.39" fill="#707170"/><circle cx="151.5" cy="541.6" r="0.44" fill="#707170"/><circle cx="150.9" cy="539.8" r="0.54" fill="#707170"/><circle cx="149.6" cy="539.7" r="0.36" fill="#707170"/><circle cx="145.6" cy="542.0" r="0.39" fill="#707170"/><circle cx="150.7" cy="549.2" r="0.60" fill="#707170"/><circle cx="146.2" cy="543.9" r="0.37" fill="#707170"/>
<circle cx="92.0" cy="579.6" r="7.0" fill="#444440"/><circle cx="92.0" cy="579.6" r="6.6" fill="none" stroke="#77746a" stroke-width="0.7"/><circle cx="93.7" cy="576.5" r="0.85" fill="#7d796c"/><circle cx="89.2" cy="576.2" r="0.88" fill="#5a574e"/><circle cx="91.1" cy="575.6" r="0.79" fill="#5a574e"/><circle cx="96.4" cy="581.5" r="0.87" fill="#5a574e"/><circle cx="88.6" cy="582.1" r="0.61" fill="#5a574e"/><circle cx="95.2" cy="579.0" r="0.73" fill="#7d796c"/><circle cx="95.4" cy="576.8" r="0.71" fill="#7d796c"/><circle cx="94.3" cy="580.0" r="0.94" fill="#5a574e"/><circle cx="92.6" cy="580.5" r="0.96" fill="#2b2a27"/><circle cx="97.1" cy="578.9" r="0.96" fill="#5a574e"/><circle cx="89.1" cy="583.9" r="0.58" fill="#2b2a27"/><circle cx="91.7" cy="577.0" r="0.59" fill="#5a574e"/><circle cx="94.6" cy="584.3" r="0.83" fill="#5a574e"/><circle cx="89.2" cy="575.5" r="0.84" fill="#2b2a27"/><circle cx="97.5" cy="579.5" r="0.71" fill="#5a574e"/><circle cx="92.2" cy="581.2" r="0.89" fill="#2b2a27"/><circle cx="92.7" cy="576.9" r="0.97" fill="#5a574e"/><circle cx="87.6" cy="580.6" r="1.00" fill="#2b2a27"/><circle cx="93.8" cy="578.2" r="0.95" fill="#5a574e"/><circle cx="93.6" cy="575.0" r="0.58" fill="#2b2a27"/><circle cx="97.4" cy="581.5" r="0.50" fill="#5a574e"/><circle cx="96.9" cy="578.8" r="0.78" fill="#2b2a27"/><circle cx="87.7" cy="580.9" r="0.73" fill="#7d796c"/><circle cx="92.4" cy="582.9" r="0.75" fill="#2b2a27"/><circle cx="88.0" cy="582.7" r="0.90" fill="#5a574e"/><circle cx="88.4" cy="580.5" r="0.51" fill="#5a574e"/><circle cx="88.8" cy="583.8" r="0.67" fill="#2b2a27"/><circle cx="94.5" cy="583.6" r="0.75" fill="#2b2a27"/><circle cx="94.8" cy="580.4" r="0.54" fill="#7d796c"/><circle cx="91.9" cy="581.2" r="0.99" fill="#2b2a27"/>
<circle cx="118.6" cy="580.2" r="7.0" fill="#2f3434"/><circle cx="118.6" cy="580.2" r="6.7" fill="none" stroke="#858785" stroke-width="0.75"/><circle cx="116.8" cy="575.5" r="0.54" fill="#6f706f"/><circle cx="116.7" cy="579.3" r="0.69" fill="#6f706f"/><circle cx="116.5" cy="583.3" r="0.79" fill="#6f706f"/><circle cx="120.9" cy="576.7" r="0.78" fill="#565757"/><circle cx="123.8" cy="580.8" r="0.56" fill="#2a2b2b"/><circle cx="113.3" cy="579.0" r="0.53" fill="#6f706f"/><circle cx="121.8" cy="578.1" r="0.79" fill="#2a2b2b"/><circle cx="119.3" cy="576.9" r="0.64" fill="#565757"/><circle cx="118.6" cy="585.2" r="0.50" fill="#6f706f"/><circle cx="121.1" cy="581.5" r="0.54" fill="#565757"/><circle cx="119.9" cy="582.7" r="0.48" fill="#565757"/><circle cx="116.5" cy="583.4" r="0.57" fill="#6f706f"/><circle cx="119.9" cy="579.2" r="0.65" fill="#2a2b2b"/><circle cx="123.5" cy="581.0" r="0.57" fill="#2a2b2b"/><circle cx="123.5" cy="579.5" r="0.75" fill="#2a2b2b"/><circle cx="115.8" cy="584.6" r="0.57" fill="#2a2b2b"/><circle cx="122.3" cy="576.3" r="0.54" fill="#6f706f"/><circle cx="120.8" cy="575.0" r="0.58" fill="#565757"/><circle cx="119.5" cy="582.9" r="0.55" fill="#2a2b2b"/><circle cx="118.1" cy="578.9" r="0.59" fill="#6f706f"/><circle cx="122.2" cy="580.2" r="0.48" fill="#2a2b2b"/><circle cx="118.4" cy="582.7" r="0.50" fill="#2a2b2b"/><circle cx="117.3" cy="583.8" r="0.51" fill="#6f706f"/><circle cx="119.1" cy="579.5" r="0.59" fill="#2a2b2b"/><circle cx="115.7" cy="577.6" r="0.66" fill="#6f706f"/><circle cx="123.7" cy="578.0" r="0.73" fill="#6f706f"/>
<circle cx="146.6" cy="581.7" r="7.0" fill="#2f3434"/><circle cx="146.6" cy="581.7" r="6.7" fill="none" stroke="#858785" stroke-width="0.75"/><circle cx="143.2" cy="580.2" r="0.44" fill="#2a2b2b"/><circle cx="146.0" cy="581.1" r="0.75" fill="#2a2b2b"/><circle cx="147.3" cy="580.8" r="0.72" fill="#6f706f"/><circle cx="145.9" cy="579.6" r="0.68" fill="#6f706f"/><circle cx="152.0" cy="580.3" r="0.67" fill="#6f706f"/><circle cx="144.3" cy="583.5" r="0.78" fill="#6f706f"/><circle cx="145.3" cy="585.7" r="0.56" fill="#565757"/><circle cx="142.9" cy="585.0" r="0.57" fill="#6f706f"/><circle cx="144.8" cy="577.8" r="0.43" fill="#6f706f"/><circle cx="144.3" cy="577.2" r="0.46" fill="#565757"/><circle cx="151.7" cy="580.9" r="0.76" fill="#6f706f"/><circle cx="144.1" cy="579.3" r="0.42" fill="#565757"/><circle cx="145.2" cy="577.5" r="0.66" fill="#6f706f"/><circle cx="149.9" cy="580.5" r="0.43" fill="#6f706f"/><circle cx="151.4" cy="581.4" r="0.61" fill="#565757"/><circle cx="148.1" cy="577.4" r="0.54" fill="#565757"/><circle cx="144.7" cy="585.9" r="0.46" fill="#2a2b2b"/><circle cx="147.8" cy="585.3" r="0.65" fill="#6f706f"/><circle cx="141.7" cy="581.6" r="0.78" fill="#565757"/><circle cx="149.2" cy="585.8" r="0.54" fill="#6f706f"/><circle cx="145.7" cy="580.4" r="0.46" fill="#6f706f"/><circle cx="144.8" cy="582.5" r="0.77" fill="#565757"/><circle cx="146.8" cy="583.3" r="0.62" fill="#6f706f"/><circle cx="150.6" cy="584.0" r="0.52" fill="#2a2b2b"/><circle cx="149.9" cy="581.5" r="0.69" fill="#6f706f"/><circle cx="145.5" cy="581.0" r="0.72" fill="#2a2b2b"/>
<circle cx="173.1" cy="583.4" r="7.0" fill="#2f3434"/><circle cx="173.1" cy="583.4" r="6.7" fill="none" stroke="#858785" stroke-width="0.75"/><circle cx="174.4" cy="581.5" r="0.62" fill="#565757"/><circle cx="173.9" cy="586.8" r="0.57" fill="#2a2b2b"/><circle cx="169.4" cy="580.3" r="0.41" fill="#2a2b2b"/><circle cx="171.8" cy="582.4" r="0.80" fill="#6f706f"/><circle cx="173.6" cy="582.5" r="0.63" fill="#565757"/><circle cx="175.5" cy="583.5" r="0.47" fill="#2a2b2b"/><circle cx="169.0" cy="584.4" r="0.58" fill="#565757"/><circle cx="174.5" cy="580.1" r="0.48" fill="#565757"/><circle cx="169.8" cy="587.4" r="0.54" fill="#565757"/><circle cx="170.6" cy="582.3" r="0.66" fill="#565757"/><circle cx="171.0" cy="580.0" r="0.51" fill="#2a2b2b"/><circle cx="168.6" cy="584.0" r="0.62" fill="#2a2b2b"/><circle cx="177.0" cy="587.1" r="0.41" fill="#565757"/><circle cx="174.7" cy="586.3" r="0.65" fill="#6f706f"/><circle cx="168.6" cy="581.9" r="0.60" fill="#2a2b2b"/><circle cx="170.7" cy="586.8" r="0.60" fill="#565757"/><circle cx="175.7" cy="583.8" r="0.43" fill="#2a2b2b"/><circle cx="176.1" cy="583.5" r="0.55" fill="#6f706f"/><circle cx="170.0" cy="579.3" r="0.57" fill="#2a2b2b"/><circle cx="170.4" cy="583.1" r="0.48" fill="#2a2b2b"/><circle cx="168.3" cy="584.9" r="0.64" fill="#2a2b2b"/><circle cx="172.6" cy="579.0" r="0.50" fill="#565757"/><circle cx="169.4" cy="584.8" r="0.40" fill="#6f706f"/><circle cx="172.7" cy="583.8" r="0.62" fill="#6f706f"/><circle cx="171.5" cy="582.9" r="0.50" fill="#6f706f"/><circle cx="170.5" cy="584.5" r="0.75" fill="#565757"/>
<circle cx="201.2" cy="584.8" r="7.3" fill="#2f3434"/><circle cx="201.2" cy="584.8" r="7.0" fill="none" stroke="#858785" stroke-width="0.75"/><circle cx="197.2" cy="587.7" r="0.51" fill="#2a2b2b"/><circle cx="205.5" cy="584.0" r="0.66" fill="#6f706f"/><circle cx="197.6" cy="582.9" r="0.45" fill="#565757"/><circle cx="200.7" cy="579.3" r="0.76" fill="#6f706f"/><circle cx="202.1" cy="584.5" r="0.70" fill="#6f706f"/><circle cx="197.9" cy="581.5" r="0.45" fill="#565757"/><circle cx="197.6" cy="581.1" r="0.40" fill="#6f706f"/><circle cx="203.6" cy="587.4" r="0.62" fill="#565757"/><circle cx="197.8" cy="582.1" r="0.56" fill="#565757"/><circle cx="196.9" cy="588.1" r="0.53" fill="#565757"/><circle cx="197.4" cy="581.0" r="0.45" fill="#6f706f"/><circle cx="200.9" cy="582.7" r="0.41" fill="#6f706f"/><circle cx="202.5" cy="588.2" r="0.68" fill="#6f706f"/><circle cx="201.8" cy="587.5" r="0.42" fill="#565757"/><circle cx="203.3" cy="585.1" r="0.70" fill="#2a2b2b"/><circle cx="199.2" cy="587.6" r="0.50" fill="#2a2b2b"/><circle cx="206.5" cy="582.8" r="0.77" fill="#2a2b2b"/><circle cx="198.6" cy="581.2" r="0.56" fill="#565757"/><circle cx="199.8" cy="580.8" r="0.70" fill="#2a2b2b"/><circle cx="198.2" cy="582.0" r="0.69" fill="#565757"/><circle cx="201.3" cy="579.9" r="0.46" fill="#565757"/><circle cx="198.9" cy="580.5" r="0.64" fill="#6f706f"/><circle cx="198.3" cy="580.0" r="0.43" fill="#2a2b2b"/><circle cx="200.8" cy="585.5" r="0.67" fill="#2a2b2b"/><circle cx="202.3" cy="585.1" r="0.50" fill="#565757"/><circle cx="201.1" cy="584.4" r="0.66" fill="#6f706f"/>
<circle cx="231.3" cy="583.5" r="7.3" fill="#2f3434"/><circle cx="231.3" cy="583.5" r="7.0" fill="none" stroke="#858785" stroke-width="0.75"/><circle cx="226.4" cy="586.2" r="0.51" fill="#565757"/><circle cx="229.5" cy="588.1" r="0.71" fill="#6f706f"/><circle cx="228.1" cy="582.7" r="0.77" fill="#6f706f"/><circle cx="227.9" cy="585.0" r="0.65" fill="#565757"/><circle cx="230.3" cy="579.0" r="0.57" fill="#565757"/><circle cx="227.9" cy="579.1" r="0.42" fill="#2a2b2b"/><circle cx="235.6" cy="586.2" r="0.58" fill="#2a2b2b"/><circle cx="227.5" cy="582.5" r="0.78" fill="#565757"/><circle cx="228.1" cy="587.0" r="0.62" fill="#6f706f"/><circle cx="233.9" cy="588.1" r="0.61" fill="#6f706f"/><circle cx="229.6" cy="580.0" r="0.74" fill="#6f706f"/><circle cx="229.4" cy="584.4" r="0.73" fill="#565757"/><circle cx="226.9" cy="583.5" r="0.60" fill="#2a2b2b"/><circle cx="229.5" cy="583.4" r="0.43" fill="#6f706f"/><circle cx="232.3" cy="581.6" r="0.69" fill="#6f706f"/><circle cx="227.1" cy="583.4" r="0.47" fill="#2a2b2b"/><circle cx="235.6" cy="585.3" r="0.44" fill="#6f706f"/><circle cx="235.7" cy="584.8" r="0.78" fill="#6f706f"/><circle cx="230.6" cy="583.3" r="0.63" fill="#6f706f"/><circle cx="230.5" cy="581.6" r="0.67" fill="#2a2b2b"/><circle cx="233.8" cy="582.4" r="0.78" fill="#2a2b2b"/><circle cx="232.8" cy="581.3" r="0.56" fill="#2a2b2b"/><circle cx="235.0" cy="579.7" r="0.64" fill="#2a2b2b"/><circle cx="227.8" cy="581.8" r="0.52" fill="#565757"/><circle cx="227.1" cy="583.6" r="0.59" fill="#565757"/><circle cx="237.1" cy="582.8" r="0.68" fill="#6f706f"/>
<circle cx="259.1" cy="582.8" r="7.2" fill="#2b3030" stroke="#5d6161" stroke-width="0.6"/>
<circle cx="258.2" cy="587.3" r="0.44" fill="#9c9d9b"/><circle cx="254.8" cy="582.2" r="0.43" fill="#9c9d9b"/><circle cx="264.6" cy="586.7" r="0.64" fill="#9c9d9b"/><circle cx="253.9" cy="584.5" r="0.49" fill="#9c9d9b"/><circle cx="258.5" cy="584.5" r="0.42" fill="#9c9d9b"/><circle cx="261.3" cy="577.1" r="0.40" fill="#9c9d9b"/><circle cx="258.1" cy="584.6" r="0.56" fill="#9c9d9b"/><circle cx="255.4" cy="579.4" r="0.45" fill="#9c9d9b"/><circle cx="257.5" cy="577.7" r="0.56" fill="#9c9d9b"/><circle cx="257.2" cy="589.0" r="0.43" fill="#9c9d9b"/><circle cx="261.7" cy="586.1" r="0.49" fill="#9c9d9b"/><circle cx="254.9" cy="579.0" r="0.65" fill="#9c9d9b"/><circle cx="259.5" cy="580.0" r="0.66" fill="#9c9d9b"/><circle cx="259.2" cy="587.8" r="0.48" fill="#9c9d9b"/><circle cx="260.0" cy="580.7" r="0.55" fill="#9c9d9b"/><circle cx="255.3" cy="578.6" r="0.43" fill="#9c9d9b"/><circle cx="262.7" cy="582.4" r="0.56" fill="#9c9d9b"/><circle cx="258.6" cy="584.1" r="0.49" fill="#9c9d9b"/><circle cx="256.7" cy="587.4" r="0.42" fill="#9c9d9b"/><circle cx="261.8" cy="581.5" r="0.59" fill="#9c9d9b"/><circle cx="256.6" cy="586.0" r="0.72" fill="#9c9d9b"/><circle cx="263.2" cy="579.4" r="0.50" fill="#9c9d9b"/><circle cx="261.7" cy="586.6" r="0.46" fill="#9c9d9b"/><circle cx="257.3" cy="582.8" r="0.41" fill="#9c9d9b"/><circle cx="254.9" cy="582.0" r="0.75" fill="#9c9d9b"/><circle cx="255.6" cy="586.3" r="0.54" fill="#9c9d9b"/><circle cx="259.7" cy="578.7" r="0.49" fill="#9c9d9b"/><circle cx="253.2" cy="584.4" r="0.58" fill="#9c9d9b"/><circle cx="256.8" cy="578.0" r="0.48" fill="#9c9d9b"/><circle cx="254.9" cy="583.3" r="0.68" fill="#9c9d9b"/><circle cx="258.4" cy="588.9" r="0.53" fill="#9c9d9b"/><circle cx="255.9" cy="588.5" r="0.70" fill="#9c9d9b"/><circle cx="253.1" cy="581.2" r="0.70" fill="#9c9d9b"/><circle cx="259.7" cy="577.6" r="0.66" fill="#9c9d9b"/>
<circle cx="289.1" cy="578.2" r="0.65" fill="#9c9d9b"/><circle cx="292.9" cy="586.9" r="0.74" fill="#9c9d9b"/><circle cx="285.8" cy="584.9" r="0.74" fill="#9c9d9b"/><circle cx="286.5" cy="580.9" r="0.64" fill="#9c9d9b"/><circle cx="291.3" cy="583.6" r="0.70" fill="#9c9d9b"/><circle cx="286.9" cy="580.5" r="0.46" fill="#9c9d9b"/><circle cx="292.1" cy="582.6" r="0.55" fill="#9c9d9b"/><circle cx="285.3" cy="579.8" r="0.40" fill="#9c9d9b"/><circle cx="287.7" cy="588.8" r="0.67" fill="#9c9d9b"/><circle cx="284.2" cy="580.8" r="0.47" fill="#9c9d9b"/><circle cx="288.7" cy="580.7" r="0.65" fill="#9c9d9b"/><circle cx="282.6" cy="583.9" r="0.53" fill="#9c9d9b"/><circle cx="288.9" cy="586.7" r="0.62" fill="#9c9d9b"/><circle cx="287.9" cy="584.7" r="0.47" fill="#9c9d9b"/><circle cx="293.4" cy="580.9" r="0.60" fill="#9c9d9b"/><circle cx="282.6" cy="587.6" r="0.49" fill="#9c9d9b"/><circle cx="287.5" cy="583.2" r="0.63" fill="#9c9d9b"/><circle cx="294.1" cy="582.7" r="0.43" fill="#9c9d9b"/><circle cx="284.6" cy="581.6" r="0.72" fill="#9c9d9b"/><circle cx="288.8" cy="583.9" r="0.43" fill="#9c9d9b"/><circle cx="284.4" cy="589.6" r="0.60" fill="#9c9d9b"/><circle cx="287.2" cy="582.5" r="0.46" fill="#9c9d9b"/><circle cx="283.8" cy="587.7" r="0.66" fill="#9c9d9b"/><circle cx="284.6" cy="582.1" r="0.46" fill="#9c9d9b"/><circle cx="284.7" cy="585.5" r="0.67" fill="#9c9d9b"/><circle cx="293.1" cy="579.7" r="0.44" fill="#9c9d9b"/><circle cx="288.2" cy="582.9" r="0.45" fill="#9c9d9b"/><circle cx="286.7" cy="579.9" r="0.69" fill="#9c9d9b"/><circle cx="285.8" cy="578.4" r="0.61" fill="#9c9d9b"/><circle cx="293.7" cy="580.3" r="0.41" fill="#9c9d9b"/><circle cx="292.8" cy="583.3" r="0.50" fill="#9c9d9b"/><circle cx="292.8" cy="578.7" r="0.67" fill="#9c9d9b"/><circle cx="287.9" cy="583.1" r="0.50" fill="#9c9d9b"/><circle cx="290.8" cy="577.1" r="0.50" fill="#9c9d9b"/><circle cx="288.2" cy="581.4" r="0.66" fill="#9c9d9b"/><circle cx="286.7" cy="585.4" r="0.46" fill="#9c9d9b"/>
<circle cx="93.9" cy="617.0" r="8.0" fill="#5e563c"/><circle cx="93.9" cy="617.0" r="7.6" fill="none" stroke="#77746a" stroke-width="0.7"/><circle cx="91.9" cy="619.3" r="0.54" fill="#2b2a27"/><circle cx="87.4" cy="618.7" r="0.93" fill="#8d8258"/><circle cx="94.7" cy="615.7" r="0.78" fill="#2b2a27"/><circle cx="98.4" cy="618.5" r="0.66" fill="#8d8258"/><circle cx="95.2" cy="622.9" r="0.71" fill="#8d8258"/><circle cx="89.5" cy="621.8" r="0.69" fill="#2b2a27"/><circle cx="94.6" cy="618.6" r="0.76" fill="#8d8258"/><circle cx="88.6" cy="620.3" r="0.76" fill="#5a574e"/><circle cx="95.4" cy="612.1" r="0.80" fill="#5a574e"/><circle cx="98.3" cy="620.6" r="0.93" fill="#8d8258"/><circle cx="93.2" cy="612.6" r="0.54" fill="#2b2a27"/><circle cx="88.7" cy="615.3" r="0.51" fill="#2b2a27"/><circle cx="99.3" cy="615.0" r="0.86" fill="#5a574e"/><circle cx="90.4" cy="613.7" r="0.61" fill="#5a574e"/><circle cx="91.6" cy="611.8" r="0.98" fill="#8d8258"/><circle cx="87.6" cy="617.3" r="0.98" fill="#5a574e"/><circle cx="89.3" cy="619.6" r="0.80" fill="#8d8258"/><circle cx="90.8" cy="617.6" r="0.59" fill="#8d8258"/><circle cx="92.0" cy="621.9" r="0.83" fill="#5a574e"/><circle cx="92.8" cy="621.8" r="0.73" fill="#5a574e"/><circle cx="97.1" cy="622.9" r="0.67" fill="#5a574e"/><circle cx="91.8" cy="611.4" r="0.92" fill="#5a574e"/><circle cx="97.5" cy="615.7" r="0.83" fill="#5a574e"/><circle cx="92.1" cy="622.8" r="0.87" fill="#2b2a27"/><circle cx="93.6" cy="614.6" r="0.98" fill="#2b2a27"/><circle cx="87.6" cy="618.4" r="0.56" fill="#8d8258"/><circle cx="93.1" cy="619.4" r="0.66" fill="#5a574e"/><circle cx="97.4" cy="621.8" r="0.80" fill="#5a574e"/><circle cx="90.9" cy="622.5" r="0.52" fill="#8d8258"/><circle cx="89.6" cy="617.0" r="0.69" fill="#2b2a27"/>
<circle cx="121.6" cy="618.4" r="7.2" fill="#282a2a"/><circle cx="119.5" cy="612.7" r="0.45" fill="#8e8f8d"/><circle cx="126.2" cy="622.4" r="0.74" fill="#8e8f8d"/><circle cx="123.0" cy="622.9" r="0.69" fill="#8e8f8d"/><circle cx="116.4" cy="619.4" r="0.54" fill="#8e8f8d"/><circle cx="126.6" cy="620.5" r="0.52" fill="#8e8f8d"/><circle cx="117.2" cy="622.1" r="0.67" fill="#8e8f8d"/><circle cx="117.1" cy="613.9" r="0.41" fill="#8e8f8d"/><circle cx="118.4" cy="613.7" r="0.74" fill="#8e8f8d"/><circle cx="125.3" cy="616.9" r="0.73" fill="#8e8f8d"/><circle cx="121.5" cy="624.4" r="0.71" fill="#8e8f8d"/><circle cx="125.6" cy="612.7" r="0.65" fill="#8e8f8d"/><circle cx="125.1" cy="614.1" r="0.49" fill="#8e8f8d"/><circle cx="124.6" cy="623.1" r="0.70" fill="#8e8f8d"/><circle cx="115.7" cy="620.3" r="0.45" fill="#8e8f8d"/><circle cx="127.0" cy="617.4" r="0.73" fill="#8e8f8d"/><circle cx="120.7" cy="612.0" r="0.55" fill="#8e8f8d"/><circle cx="125.8" cy="621.9" r="0.53" fill="#8e8f8d"/><circle cx="115.8" cy="622.7" r="0.52" fill="#8e8f8d"/><circle cx="122.5" cy="614.0" r="0.64" fill="#8e8f8d"/><circle cx="118.9" cy="622.3" r="0.56" fill="#8e8f8d"/><circle cx="126.9" cy="616.1" r="0.61" fill="#8e8f8d"/><circle cx="123.4" cy="613.1" r="0.45" fill="#8e8f8d"/><circle cx="125.9" cy="623.0" r="0.59" fill="#8e8f8d"/><circle cx="123.4" cy="625.3" r="0.51" fill="#8e8f8d"/><circle cx="122.6" cy="613.5" r="0.70" fill="#8e8f8d"/><circle cx="117.6" cy="617.7" r="0.69" fill="#8e8f8d"/><circle cx="121.2" cy="619.9" r="0.61" fill="#6f706f"/><circle cx="123.2" cy="618.4" r="0.60" fill="#6f706f"/><circle cx="119.2" cy="618.6" r="0.45" fill="#6f706f"/><circle cx="122.1" cy="618.4" r="0.60" fill="#6f706f"/><circle cx="121.9" cy="618.5" r="0.66" fill="#6f706f"/><circle cx="121.6" cy="618.1" r="0.48" fill="#6f706f"/><circle cx="124.6" cy="619.8" r="0.65" fill="#6f706f"/><circle cx="122.0" cy="615.9" r="0.60" fill="#6f706f"/>
<circle cx="149.3" cy="622.0" r="0.55" fill="#707170"/><circle cx="146.4" cy="618.2" r="0.55" fill="#707170"/><circle cx="152.6" cy="617.0" r="0.61" fill="#707170"/><circle cx="153.6" cy="613.4" r="0.49" fill="#707170"/><circle cx="152.4" cy="618.0" r="0.63" fill="#707170"/><circle cx="150.2" cy="617.6" r="0.47" fill="#707170"/><circle cx="149.3" cy="620.3" r="0.57" fill="#707170"/><circle cx="146.2" cy="620.4" r="0.48" fill="#707170"/><circle cx="156.5" cy="620.2" r="0.61" fill="#707170"/><circle cx="155.2" cy="620.6" r="0.51" fill="#707170"/><circle cx="155.6" cy="615.8" r="0.46" fill="#707170"/><circle cx="154.0" cy="615.9" r="0.60" fill="#707170"/><circle cx="152.4" cy="621.2" r="0.40" fill="#707170"/><circle cx="152.5" cy="615.8" r="0.44" fill="#707170"/>
</g>
</g>
<text x="16.0" y="518.7" font-size="12.4">Dilution fold</text>
<text x="87.6" y="518.3" font-size="12">10<tspan font-size="7.2" dy="-4.2">0</tspan></text>
<text x="115.0" y="518.3" font-size="12">10<tspan font-size="7.2" dy="-4.2">-1</tspan></text>
<text x="141.6" y="518.3" font-size="12">10<tspan font-size="7.2" dy="-4.2">-2</tspan></text>
<text x="167.8" y="518.3" font-size="12">10<tspan font-size="7.2" dy="-4.2">-3</tspan></text>
<text x="194.6" y="518.3" font-size="12">10<tspan font-size="7.2" dy="-4.2">-4</tspan></text>
<text x="226.8" y="518.3" font-size="12">10<tspan font-size="7.2" dy="-4.2">-5</tspan></text>
<text x="254.5" y="518.3" font-size="12">10<tspan font-size="7.2" dy="-4.2">-6</tspan></text>
<text x="281.8" y="518.3" font-size="12">10<tspan font-size="7.2" dy="-4.2">-7</tspan></text>
<text x="83.3" y="549.5" text-anchor="end" font-size="12.2">WT</text>
<text x="81.8" y="584.6" text-anchor="end" font-size="12.2" letter-spacing="0.15">Δ<tspan font-style="italic" dx="1.3">rccR</tspan></text>
<text x="81.4" y="621.7" text-anchor="end" font-size="12.2" letter-spacing="0.15">Δ<tspan font-style="italic" dx="1.3">rccR</tspan> + <tspan font-style="italic">rccR</tspan></text>
<text x="188.3" y="654.2" text-anchor="middle" font-size="12">TOB 1.5 μg/ml</text>
</g>
<text x="346.2" y="309.5" font-size="17.5" font-weight="bold" style="stroke-width:.5px">D</text>
<g id="pD1">
<text x="510.7" y="300.4" text-anchor="middle" font-size="13">TOB 0 μg/ml</text>
<path d="M521.5 351.4V357.0M519.3 351.4h4.4M519.3 357.0h4.4M530.2 351.4V358.4M528.0 351.4h4.4M528.0 358.4h4.4M538.9 352.1V359.1M536.7 352.1h4.4M536.7 359.1h4.4M547.6 352.4V359.4M545.4 352.4h4.4M545.4 359.4h4.4M556.4 353.8V360.8M554.2 353.8h4.4M554.2 360.8h4.4M565.1 354.2V361.2M562.9 354.2h4.4M562.9 361.2h4.4M573.8 354.2V361.2M571.6 354.2h4.4M571.6 361.2h4.4M582.5 354.5V361.5M580.3 354.5h4.4M580.3 361.5h4.4M591.3 354.9V361.9M589.1 354.9h4.4M589.1 361.9h4.4M600.0 354.9V363.3M597.8 354.9h4.4M597.8 363.3h4.4M608.7 354.9V361.9M606.5 354.9h4.4M606.5 361.9h4.4M617.4 354.9V361.9M615.2 354.9h4.4M615.2 361.9h4.4" stroke="#12128f" stroke-width="0.8" fill="none"/>
<path d="M408.0 441.0 L416.7 441.3 L425.5 437.5 L434.2 429.1 L442.9 421.4 L451.6 411.6 L460.4 399.0 L469.1 389.2 L477.8 380.4 L486.5 373.1 L495.3 366.9 L504.0 361.9 L512.7 357.0 L521.5 354.2 L530.2 354.9 L538.9 355.6 L547.6 355.9 L556.4 357.3 L565.1 357.7 L573.8 357.7 L582.5 358.0 L591.3 358.4 L600.0 359.1 L608.7 358.4 L617.4 358.4" stroke="#12128f" stroke-width="2.4" fill="none" stroke-linejoin="round" stroke-linecap="round"/>
<circle cx="408.0" cy="441.0" r="2.3" fill="#12128f"/>
<circle cx="416.7" cy="441.3" r="2.3" fill="#12128f"/>
<circle cx="425.5" cy="437.5" r="2.3" fill="#12128f"/>
<circle cx="434.2" cy="429.1" r="2.3" fill="#12128f"/>
<circle cx="442.9" cy="421.4" r="2.3" fill="#12128f"/>
<circle cx="451.6" cy="411.6" r="2.3" fill="#12128f"/>
<circle cx="460.4" cy="399.0" r="2.3" fill="#12128f"/>
<circle cx="469.1" cy="389.2" r="2.3" fill="#12128f"/>
<circle cx="477.8" cy="380.4" r="2.3" fill="#12128f"/>
<circle cx="486.5" cy="373.1" r="2.3" fill="#12128f"/>
<circle cx="495.3" cy="366.9" r="2.3" fill="#12128f"/>
<circle cx="504.0" cy="361.9" r="2.3" fill="#12128f"/>
<circle cx="512.7" cy="357.0" r="2.3" fill="#12128f"/>
<circle cx="521.5" cy="354.2" r="2.3" fill="#12128f"/>
<circle cx="530.2" cy="354.9" r="2.3" fill="#12128f"/>
<circle cx="538.9" cy="355.6" r="2.3" fill="#12128f"/>
<circle cx="547.6" cy="355.9" r="2.3" fill="#12128f"/>
<circle cx="556.4" cy="357.3" r="2.3" fill="#12128f"/>
<circle cx="565.1" cy="357.7" r="2.3" fill="#12128f"/>
<circle cx="573.8" cy="357.7" r="2.3" fill="#12128f"/>
<circle cx="582.5" cy="358.0" r="2.3" fill="#12128f"/>
<circle cx="591.3" cy="358.4" r="2.3" fill="#12128f"/>
<circle cx="600.0" cy="359.1" r="2.3" fill="#12128f"/>
<circle cx="608.7" cy="358.4" r="2.3" fill="#12128f"/>
<circle cx="617.4" cy="358.4" r="2.3" fill="#12128f"/>
<path d="M530.2 348.6V355.6M528.0 348.6h4.4M528.0 355.6h4.4M538.9 344.2V352.6M536.7 344.2h4.4M536.7 352.6h4.4M547.6 341.9V353.1M545.4 341.9h4.4M545.4 353.1h4.4M556.4 339.5V353.5M554.2 339.5h4.4M554.2 353.5h4.4M565.1 340.2V354.2M562.9 340.2h4.4M562.9 354.2h4.4M573.8 341.9V354.5M571.6 341.9h4.4M571.6 354.5h4.4M582.5 343.7V354.9M580.3 343.7h4.4M580.3 354.9h4.4M591.3 344.0V355.2M589.1 344.0h4.4M589.1 355.2h4.4M600.0 344.4V355.6M597.8 344.4h4.4M597.8 355.6h4.4M608.7 345.1V356.3M606.5 345.1h4.4M606.5 356.3h4.4M617.4 346.1V355.9M615.2 346.1h4.4M615.2 355.9h4.4" stroke="#fb0f1a" stroke-width="0.8" fill="none"/>
<path d="M408.0 441.0 L416.7 441.3 L425.5 438.5 L434.2 430.5 L442.9 423.4 L451.6 415.1 L460.4 402.5 L469.1 392.0 L477.8 381.8 L486.5 373.4 L495.3 367.4 L504.0 361.9 L512.7 356.9 L521.5 354.2 L530.2 352.1 L538.9 348.4 L547.6 347.5 L556.4 346.5 L565.1 347.2 L573.8 348.2 L582.5 349.3 L591.3 349.6 L600.0 350.0 L608.7 350.7 L617.4 351.0" stroke="#fb0f1a" stroke-width="2.4" fill="none" stroke-linejoin="round" stroke-linecap="round"/>
<circle cx="408.0" cy="441.0" r="2.3" fill="#fb0f1a"/>
<circle cx="416.7" cy="441.3" r="2.3" fill="#fb0f1a"/>
<circle cx="425.5" cy="438.5" r="2.3" fill="#fb0f1a"/>
<circle cx="434.2" cy="430.5" r="2.3" fill="#fb0f1a"/>
<circle cx="442.9" cy="423.4" r="2.3" fill="#fb0f1a"/>
<circle cx="451.6" cy="415.1" r="2.3" fill="#fb0f1a"/>
<circle cx="460.4" cy="402.5" r="2.3" fill="#fb0f1a"/>
<circle cx="469.1" cy="392.0" r="2.3" fill="#fb0f1a"/>
<circle cx="477.8" cy="381.8" r="2.3" fill="#fb0f1a"/>
<circle cx="486.5" cy="373.4" r="2.3" fill="#fb0f1a"/>
<circle cx="495.3" cy="367.4" r="2.3" fill="#fb0f1a"/>
<circle cx="504.0" cy="361.9" r="2.3" fill="#fb0f1a"/>
<circle cx="512.7" cy="356.9" r="2.3" fill="#fb0f1a"/>
<circle cx="521.5" cy="354.2" r="2.3" fill="#fb0f1a"/>
<circle cx="530.2" cy="352.1" r="2.3" fill="#fb0f1a"/>
<circle cx="538.9" cy="348.4" r="2.3" fill="#fb0f1a"/>
<circle cx="547.6" cy="347.5" r="2.3" fill="#fb0f1a"/>
<circle cx="556.4" cy="346.5" r="2.3" fill="#fb0f1a"/>
<circle cx="565.1" cy="347.2" r="2.3" fill="#fb0f1a"/>
<circle cx="573.8" cy="348.2" r="2.3" fill="#fb0f1a"/>
<circle cx="582.5" cy="349.3" r="2.3" fill="#fb0f1a"/>
<circle cx="591.3" cy="349.6" r="2.3" fill="#fb0f1a"/>
<circle cx="600.0" cy="350.0" r="2.3" fill="#fb0f1a"/>
<circle cx="608.7" cy="350.7" r="2.3" fill="#fb0f1a"/>
<circle cx="617.4" cy="351.0" r="2.3" fill="#fb0f1a"/>
<path d="M460.4 387.1V391.3M458.2 387.1h4.4M458.2 391.3h4.4M469.1 378.3V381.1M466.9 378.3h4.4M466.9 381.1h4.4M477.8 365.4V368.2M475.6 365.4h4.4M475.6 368.2h4.4M486.5 352.8V355.6M484.3 352.8h4.4M484.3 355.6h4.4M495.3 344.9V350.5M493.1 344.9h4.4M493.1 350.5h4.4M504.0 346.8V352.4M501.8 346.8h4.4M501.8 352.4h4.4M512.7 347.5V353.1M510.5 347.5h4.4M510.5 353.1h4.4M521.5 348.6V354.2M519.3 348.6h4.4M519.3 354.2h4.4M530.2 349.6V356.6M528.0 349.6h4.4M528.0 356.6h4.4M538.9 350.7V357.7M536.7 350.7h4.4M536.7 357.7h4.4M547.6 350.0V358.4M545.4 350.0h4.4M545.4 358.4h4.4M556.4 348.9V358.7M554.2 348.9h4.4M554.2 358.7h4.4M565.1 347.5V358.7M562.9 347.5h4.4M562.9 358.7h4.4M573.8 347.2V359.8M571.6 347.2h4.4M571.6 359.8h4.4M582.5 345.9V361.3M580.3 345.9h4.4M580.3 361.3h4.4M591.3 345.2V362.0M589.1 345.2h4.4M589.1 362.0h4.4M600.0 345.7V362.5M597.8 345.7h4.4M597.8 362.5h4.4M608.7 345.7V362.5M606.5 345.7h4.4M606.5 362.5h4.4M617.4 344.7V362.9M615.2 344.7h4.4M615.2 362.9h4.4" stroke="#000000" stroke-width="0.8" fill="none"/>
<path d="M408.0 441.0 L416.7 441.3 L425.5 435.4 L434.2 426.6 L442.9 414.4 L451.6 402.1 L460.4 389.2 L469.1 379.8 L477.8 366.8 L486.5 354.2 L495.3 347.7 L504.0 349.6 L512.7 350.3 L521.5 351.4 L530.2 353.1 L538.9 354.2 L547.6 354.2 L556.4 353.8 L565.1 353.1 L573.8 353.5 L582.5 353.6 L591.3 353.6 L600.0 354.1 L608.7 354.1 L617.4 353.8" stroke="#000000" stroke-width="2.4" fill="none" stroke-linejoin="round" stroke-linecap="round"/>
<circle cx="408.0" cy="441.0" r="2.3" fill="#000000"/>
<circle cx="416.7" cy="441.3" r="2.3" fill="#000000"/>
<circle cx="425.5" cy="435.4" r="2.3" fill="#000000"/>
<circle cx="434.2" cy="426.6" r="2.3" fill="#000000"/>
<circle cx="442.9" cy="414.4" r="2.3" fill="#000000"/>
<circle cx="451.6" cy="402.1" r="2.3" fill="#000000"/>
<circle cx="460.4" cy="389.2" r="2.3" fill="#000000"/>
<circle cx="469.1" cy="379.8" r="2.3" fill="#000000"/>
<circle cx="477.8" cy="366.8" r="2.3" fill="#000000"/>
<circle cx="486.5" cy="354.2" r="2.3" fill="#000000"/>
<circle cx="495.3" cy="347.7" r="2.3" fill="#000000"/>
<circle cx="504.0" cy="349.6" r="2.3" fill="#000000"/>
<circle cx="512.7" cy="350.3" r="2.3" fill="#000000"/>
<circle cx="521.5" cy="351.4" r="2.3" fill="#000000"/>
<circle cx="530.2" cy="353.1" r="2.3" fill="#000000"/>
<circle cx="538.9" cy="354.2" r="2.3" fill="#000000"/>
<circle cx="547.6" cy="354.2" r="2.3" fill="#000000"/>
<circle cx="556.4" cy="353.8" r="2.3" fill="#000000"/>
<circle cx="565.1" cy="353.1" r="2.3" fill="#000000"/>
<circle cx="573.8" cy="353.5" r="2.3" fill="#000000"/>
<circle cx="582.5" cy="353.6" r="2.3" fill="#000000"/>
<circle cx="591.3" cy="353.6" r="2.3" fill="#000000"/>
<circle cx="600.0" cy="354.1" r="2.3" fill="#000000"/>
<circle cx="608.7" cy="354.1" r="2.3" fill="#000000"/>
<circle cx="617.4" cy="353.8" r="2.3" fill="#000000"/>
<path d="M408.0 309.2V449.4H618.0" fill="none" stroke="#000" stroke-width="1.6"/>
<line x1="403.8" y1="449.4" x2="408.0" y2="449.4" stroke="#111" stroke-width="1.3"/>
<text x="402.2" y="454.1" text-anchor="end" font-size="10.1">0.0</text>
<line x1="403.8" y1="414.4" x2="408.0" y2="414.4" stroke="#111" stroke-width="1.3"/>
<text x="402.2" y="419.1" text-anchor="end" font-size="10.1">0.5</text>
<line x1="403.8" y1="379.4" x2="408.0" y2="379.4" stroke="#111" stroke-width="1.3"/>
<text x="402.2" y="384.1" text-anchor="end" font-size="10.1">1.0</text>
<line x1="403.8" y1="344.4" x2="408.0" y2="344.4" stroke="#111" stroke-width="1.3"/>
<text x="402.2" y="349.1" text-anchor="end" font-size="10.1">1.5</text>
<line x1="403.8" y1="309.4" x2="408.0" y2="309.4" stroke="#111" stroke-width="1.3"/>
<text x="402.2" y="314.1" text-anchor="end" font-size="10.1">2.0</text>
<line x1="408.0" y1="449.4" x2="408.0" y2="453.59999999999997" stroke="#111" stroke-width="1.3"/>
<text x="408.0" y="465.2" text-anchor="middle" font-size="10.0">0</text>
<line x1="442.9" y1="449.4" x2="442.9" y2="453.59999999999997" stroke="#111" stroke-width="1.3"/>
<text x="442.9" y="465.2" text-anchor="middle" font-size="10.0">4</text>
<line x1="477.8" y1="449.4" x2="477.8" y2="453.59999999999997" stroke="#111" stroke-width="1.3"/>
<text x="477.8" y="465.2" text-anchor="middle" font-size="10.0">8</text>
<line x1="512.7" y1="449.4" x2="512.7" y2="453.59999999999997" stroke="#111" stroke-width="1.3"/>
<text x="512.7" y="465.2" text-anchor="middle" font-size="10.0">12</text>
<line x1="547.6" y1="449.4" x2="547.6" y2="453.59999999999997" stroke="#111" stroke-width="1.3"/>
<text x="547.6" y="465.2" text-anchor="middle" font-size="10.0">16</text>
<line x1="582.5" y1="449.4" x2="582.5" y2="453.59999999999997" stroke="#111" stroke-width="1.3"/>
<text x="582.5" y="465.2" text-anchor="middle" font-size="10.0">20</text>
<line x1="617.4" y1="449.4" x2="617.4" y2="453.59999999999997" stroke="#111" stroke-width="1.3"/>
<text x="617.4" y="465.2" text-anchor="middle" font-size="10.0">24</text>
<text x="511.8" y="479.9" text-anchor="middle" font-size="11.6">Time / h</text>
<text transform="translate(379.8 379.3) rotate(-90)" text-anchor="middle" font-size="12">OD<tspan font-size="8.6" dy="2.6">600</tspan></text>
<line x1="410.6" y1="312.3" x2="425.2" y2="312.3" stroke="#000000" stroke-width="2.3"/>
<circle cx="418.1" cy="312.3" r="2.0" fill="#000000"/>
<text x="433.8" y="314.7" font-size="7.4" fill="#111">WT</text>
<line x1="410.6" y1="322.0" x2="425.2" y2="322.0" stroke="#fb0f1a" stroke-width="2.3"/>
<circle cx="418.1" cy="322.0" r="2.0" fill="#fb0f1a"/>
<text x="433.8" y="324.4" font-size="7.4" fill="#111">Δ <tspan font-style="italic">rccR</tspan></text>
<line x1="410.6" y1="332.7" x2="425.2" y2="332.7" stroke="#12128f" stroke-width="2.3"/>
<circle cx="418.1" cy="332.7" r="2.0" fill="#12128f"/>
<text x="433.8" y="335.1" font-size="7.4" fill="#111">Δ <tspan font-style="italic">rccR</tspan> + <tspan font-style="italic">rccR</tspan></text>
</g>
<g id="pD2">
<text x="511" y="501.5" text-anchor="middle" font-size="13">TOB 1.5 μg/ml</text>
<path d="M460.4 576.6V582.2M458.2 576.6h4.4M458.2 582.2h4.4M469.1 572.3V580.7M466.9 572.3h4.4M466.9 580.7h4.4M477.8 575.7V586.8M475.6 575.7h4.4M475.6 586.8h4.4M486.5 584.5V590.0M484.3 584.5h4.4M484.3 590.0h4.4M495.3 586.3V591.8M493.1 586.3h4.4M493.1 591.8h4.4M504.0 589.9V595.5M501.8 589.9h4.4M501.8 595.5h4.4M512.7 591.7V597.3M510.5 591.7h4.4M510.5 597.3h4.4M521.5 594.2V599.8M519.3 594.2h4.4M519.3 599.8h4.4M530.2 597.8V603.4M528.0 597.8h4.4M528.0 603.4h4.4M538.9 599.0V605.9M536.7 599.0h4.4M536.7 605.9h4.4M547.6 601.8V608.7M545.4 601.8h4.4M545.4 608.7h4.4M556.4 602.9V609.8M554.2 602.9h4.4M554.2 609.8h4.4M565.1 604.7V611.7M562.9 604.7h4.4M562.9 611.7h4.4M573.8 607.2V614.2M571.6 607.2h4.4M571.6 614.2h4.4M582.5 609.0V616.0M580.3 609.0h4.4M580.3 616.0h4.4M591.3 609.7V616.7M589.1 609.7h4.4M589.1 616.7h4.4M600.0 610.8V617.8M597.8 610.8h4.4M597.8 617.8h4.4M608.7 610.1V617.1M606.5 610.1h4.4M606.5 617.1h4.4M617.4 611.5V618.5M615.2 611.5h4.4M615.2 618.5h4.4" stroke="#12128f" stroke-width="0.8" fill="none"/>
<path d="M408.0 634.1 L416.7 634.1 L425.5 628.0 L434.2 612.6 L442.9 598.0 L451.6 587.5 L460.4 579.4 L469.1 576.5 L477.8 581.2 L486.5 587.2 L495.3 589.1 L504.0 592.7 L512.7 594.5 L521.5 597.0 L530.2 600.6 L538.9 602.5 L547.6 605.2 L556.4 606.4 L565.1 608.2 L573.8 610.7 L582.5 612.5 L591.3 613.2 L600.0 614.3 L608.7 613.6 L617.4 615.0" stroke="#12128f" stroke-width="2.4" fill="none" stroke-linejoin="round" stroke-linecap="round"/>
<circle cx="408.0" cy="634.1" r="2.3" fill="#12128f"/>
<circle cx="416.7" cy="634.1" r="2.3" fill="#12128f"/>
<circle cx="425.5" cy="628.0" r="2.3" fill="#12128f"/>
<circle cx="434.2" cy="612.6" r="2.3" fill="#12128f"/>
<circle cx="442.9" cy="598.0" r="2.3" fill="#12128f"/>
<circle cx="451.6" cy="587.5" r="2.3" fill="#12128f"/>
<circle cx="460.4" cy="579.4" r="2.3" fill="#12128f"/>
<circle cx="469.1" cy="576.5" r="2.3" fill="#12128f"/>
<circle cx="477.8" cy="581.2" r="2.3" fill="#12128f"/>
<circle cx="486.5" cy="587.2" r="2.3" fill="#12128f"/>
<circle cx="495.3" cy="589.1" r="2.3" fill="#12128f"/>
<circle cx="504.0" cy="592.7" r="2.3" fill="#12128f"/>
<circle cx="512.7" cy="594.5" r="2.3" fill="#12128f"/>
<circle cx="521.5" cy="597.0" r="2.3" fill="#12128f"/>
<circle cx="530.2" cy="600.6" r="2.3" fill="#12128f"/>
<circle cx="538.9" cy="602.5" r="2.3" fill="#12128f"/>
<circle cx="547.6" cy="605.2" r="2.3" fill="#12128f"/>
<circle cx="556.4" cy="606.4" r="2.3" fill="#12128f"/>
<circle cx="565.1" cy="608.2" r="2.3" fill="#12128f"/>
<circle cx="573.8" cy="610.7" r="2.3" fill="#12128f"/>
<circle cx="582.5" cy="612.5" r="2.3" fill="#12128f"/>
<circle cx="591.3" cy="613.2" r="2.3" fill="#12128f"/>
<circle cx="600.0" cy="614.3" r="2.3" fill="#12128f"/>
<circle cx="608.7" cy="613.6" r="2.3" fill="#12128f"/>
<circle cx="617.4" cy="615.0" r="2.3" fill="#12128f"/>
<path d="M460.4 563.8V569.4M458.2 563.8h4.4M458.2 569.4h4.4M469.1 550.0V559.8M466.9 550.0h4.4M466.9 559.8h4.4M477.8 540.0V549.7M475.6 540.0h4.4M475.6 549.7h4.4M486.5 541.1V549.4M484.3 541.1h4.4M484.3 549.4h4.4M495.3 532.4V543.6M493.1 532.4h4.4M493.1 543.6h4.4M504.0 532.7V542.5M501.8 532.7h4.4M501.8 542.5h4.4M512.7 529.5V540.7M510.5 529.5h4.4M510.5 540.7h4.4M521.5 527.7V540.2M519.3 527.7h4.4M519.3 540.2h4.4M530.2 534.9V546.1M528.0 534.9h4.4M528.0 546.1h4.4M538.9 533.1V542.9M536.7 533.1h4.4M536.7 542.9h4.4M547.6 536.7V546.5M545.4 536.7h4.4M545.4 546.5h4.4M556.4 536.3V546.1M554.2 536.3h4.4M554.2 546.1h4.4M565.1 539.3V550.4M562.9 539.3h4.4M562.9 550.4h4.4M573.8 543.2V554.3M571.6 543.2h4.4M571.6 554.3h4.4M582.5 548.2V559.3M580.3 548.2h4.4M580.3 559.3h4.4M591.3 551.1V562.3M589.1 551.1h4.4M589.1 562.3h4.4M600.0 554.7V565.9M597.8 554.7h4.4M597.8 565.9h4.4M608.7 556.6V567.7M606.5 556.6h4.4M606.5 567.7h4.4M617.4 560.2V571.3M615.2 560.2h4.4M615.2 571.3h4.4" stroke="#fb0f1a" stroke-width="0.8" fill="none"/>
<path d="M408.0 634.1 L416.7 632.9 L425.5 630.1 L434.2 614.7 L442.9 602.2 L451.6 587.5 L460.4 566.6 L469.1 554.9 L477.8 544.8 L486.5 545.3 L495.3 538.0 L504.0 537.6 L512.7 535.1 L521.5 534.0 L530.2 540.5 L538.9 538.0 L547.6 541.6 L556.4 541.2 L565.1 544.8 L573.8 548.7 L582.5 553.8 L591.3 556.7 L600.0 560.3 L608.7 562.1 L617.4 565.8" stroke="#fb0f1a" stroke-width="2.4" fill="none" stroke-linejoin="round" stroke-linecap="round"/>
<circle cx="408.0" cy="634.1" r="2.3" fill="#fb0f1a"/>
<circle cx="416.7" cy="632.9" r="2.3" fill="#fb0f1a"/>
<circle cx="425.5" cy="630.1" r="2.3" fill="#fb0f1a"/>
<circle cx="434.2" cy="614.7" r="2.3" fill="#fb0f1a"/>
<circle cx="442.9" cy="602.2" r="2.3" fill="#fb0f1a"/>
<circle cx="451.6" cy="587.5" r="2.3" fill="#fb0f1a"/>
<circle cx="460.4" cy="566.6" r="2.3" fill="#fb0f1a"/>
<circle cx="469.1" cy="554.9" r="2.3" fill="#fb0f1a"/>
<circle cx="477.8" cy="544.8" r="2.3" fill="#fb0f1a"/>
<circle cx="486.5" cy="545.3" r="2.3" fill="#fb0f1a"/>
<circle cx="495.3" cy="538.0" r="2.3" fill="#fb0f1a"/>
<circle cx="504.0" cy="537.6" r="2.3" fill="#fb0f1a"/>
<circle cx="512.7" cy="535.1" r="2.3" fill="#fb0f1a"/>
<circle cx="521.5" cy="534.0" r="2.3" fill="#fb0f1a"/>
<circle cx="530.2" cy="540.5" r="2.3" fill="#fb0f1a"/>
<circle cx="538.9" cy="538.0" r="2.3" fill="#fb0f1a"/>
<circle cx="547.6" cy="541.6" r="2.3" fill="#fb0f1a"/>
<circle cx="556.4" cy="541.2" r="2.3" fill="#fb0f1a"/>
<circle cx="565.1" cy="544.8" r="2.3" fill="#fb0f1a"/>
<circle cx="573.8" cy="548.7" r="2.3" fill="#fb0f1a"/>
<circle cx="582.5" cy="553.8" r="2.3" fill="#fb0f1a"/>
<circle cx="591.3" cy="556.7" r="2.3" fill="#fb0f1a"/>
<circle cx="600.0" cy="560.3" r="2.3" fill="#fb0f1a"/>
<circle cx="608.7" cy="562.1" r="2.3" fill="#fb0f1a"/>
<circle cx="617.4" cy="565.8" r="2.3" fill="#fb0f1a"/>
<path d="M451.6 582.6V588.2M449.4 582.6h4.4M449.4 588.2h4.4M460.4 583.8V592.1M458.2 583.8h4.4M458.2 592.1h4.4M469.1 585.3V596.5M466.9 585.3h4.4M466.9 596.5h4.4M477.8 586.1V597.3M475.6 586.1h4.4M475.6 597.3h4.4M486.5 586.4V597.6M484.3 586.4h4.4M484.3 597.6h4.4M495.3 588.2V599.4M493.1 588.2h4.4M493.1 599.4h4.4M504.0 588.9V601.5M501.8 588.9h4.4M501.8 601.5h4.4M512.7 589.3V601.9M510.5 589.3h4.4M510.5 601.9h4.4M521.5 591.4V602.6M519.3 591.4h4.4M519.3 602.6h4.4M530.2 593.2V604.4M528.0 593.2h4.4M528.0 604.4h4.4M538.9 592.5V605.1M536.7 592.5h4.4M536.7 605.1h4.4M547.6 593.0V606.9M545.4 593.0h4.4M545.4 606.9h4.4M556.4 590.5V607.2M554.2 590.5h4.4M554.2 607.2h4.4M565.1 590.9V607.6M562.9 590.9h4.4M562.9 607.6h4.4M573.8 594.1V608.0M571.6 594.1h4.4M571.6 608.0h4.4M582.5 596.6V610.5M580.3 596.6h4.4M580.3 610.5h4.4M591.3 594.1V610.8M589.1 594.1h4.4M589.1 610.8h4.4M600.0 591.3V613.6M597.8 591.3h4.4M597.8 613.6h4.4M608.7 594.4V611.1M606.5 594.4h4.4M606.5 611.1h4.4M617.4 593.7V611.8M615.2 593.7h4.4M615.2 611.8h4.4" stroke="#000000" stroke-width="0.8" fill="none"/>
<path d="M408.0 634.1 L416.7 634.1 L425.5 626.2 L434.2 610.0 L442.9 594.5 L451.6 585.4 L460.4 587.9 L469.1 590.9 L477.8 591.7 L486.5 592.0 L495.3 593.8 L504.0 595.2 L512.7 595.6 L521.5 597.0 L530.2 598.8 L538.9 598.8 L547.6 599.9 L556.4 598.8 L565.1 599.2 L573.8 601.1 L582.5 603.6 L591.3 602.5 L600.0 602.5 L608.7 602.7 L617.4 602.7" stroke="#000000" stroke-width="2.4" fill="none" stroke-linejoin="round" stroke-linecap="round"/>
<circle cx="408.0" cy="634.1" r="2.3" fill="#000000"/>
<circle cx="416.7" cy="634.1" r="2.3" fill="#000000"/>
<circle cx="425.5" cy="626.2" r="2.3" fill="#000000"/>
<circle cx="434.2" cy="610.0" r="2.3" fill="#000000"/>
<circle cx="442.9" cy="594.5" r="2.3" fill="#000000"/>
<circle cx="451.6" cy="585.4" r="2.3" fill="#000000"/>
<circle cx="460.4" cy="587.9" r="2.3" fill="#000000"/>
<circle cx="469.1" cy="590.9" r="2.3" fill="#000000"/>
<circle cx="477.8" cy="591.7" r="2.3" fill="#000000"/>
<circle cx="486.5" cy="592.0" r="2.3" fill="#000000"/>
<circle cx="495.3" cy="593.8" r="2.3" fill="#000000"/>
<circle cx="504.0" cy="595.2" r="2.3" fill="#000000"/>
<circle cx="512.7" cy="595.6" r="2.3" fill="#000000"/>
<circle cx="521.5" cy="597.0" r="2.3" fill="#000000"/>
<circle cx="530.2" cy="598.8" r="2.3" fill="#000000"/>
<circle cx="538.9" cy="598.8" r="2.3" fill="#000000"/>
<circle cx="547.6" cy="599.9" r="2.3" fill="#000000"/>
<circle cx="556.4" cy="598.8" r="2.3" fill="#000000"/>
<circle cx="565.1" cy="599.2" r="2.3" fill="#000000"/>
<circle cx="573.8" cy="601.1" r="2.3" fill="#000000"/>
<circle cx="582.5" cy="603.6" r="2.3" fill="#000000"/>
<circle cx="591.3" cy="602.5" r="2.3" fill="#000000"/>
<circle cx="600.0" cy="602.5" r="2.3" fill="#000000"/>
<circle cx="608.7" cy="602.7" r="2.3" fill="#000000"/>
<circle cx="617.4" cy="602.7" r="2.3" fill="#000000"/>
<path d="M408.0 510.7V650.3H618.0" fill="none" stroke="#000" stroke-width="1.6"/>
<line x1="403.8" y1="650.3" x2="408.0" y2="650.3" stroke="#111" stroke-width="1.3"/>
<text x="402.2" y="655.0" text-anchor="end" font-size="10.1">0.0</text>
<line x1="403.8" y1="622.4" x2="408.0" y2="622.4" stroke="#111" stroke-width="1.3"/>
<text x="402.2" y="627.1" text-anchor="end" font-size="10.1">0.2</text>
<line x1="403.8" y1="594.5" x2="408.0" y2="594.5" stroke="#111" stroke-width="1.3"/>
<text x="402.2" y="599.2" text-anchor="end" font-size="10.1">0.4</text>
<line x1="403.8" y1="566.6" x2="408.0" y2="566.6" stroke="#111" stroke-width="1.3"/>
<text x="402.2" y="571.3" text-anchor="end" font-size="10.1">0.6</text>
<line x1="403.8" y1="538.7" x2="408.0" y2="538.7" stroke="#111" stroke-width="1.3"/>
<text x="402.2" y="543.4" text-anchor="end" font-size="10.1">0.8</text>
<line x1="403.8" y1="510.8" x2="408.0" y2="510.8" stroke="#111" stroke-width="1.3"/>
<text x="402.2" y="515.5" text-anchor="end" font-size="10.1">1.0</text>
<line x1="408.0" y1="650.3" x2="408.0" y2="654.5" stroke="#111" stroke-width="1.3"/>
<text x="408.0" y="666.0" text-anchor="middle" font-size="10.0">0</text>
<line x1="442.9" y1="650.3" x2="442.9" y2="654.5" stroke="#111" stroke-width="1.3"/>
<text x="442.9" y="666.0" text-anchor="middle" font-size="10.0">4</text>
<line x1="477.8" y1="650.3" x2="477.8" y2="654.5" stroke="#111" stroke-width="1.3"/>
<text x="477.8" y="666.0" text-anchor="middle" font-size="10.0">8</text>
<line x1="512.7" y1="650.3" x2="512.7" y2="654.5" stroke="#111" stroke-width="1.3"/>
<text x="512.7" y="666.0" text-anchor="middle" font-size="10.0">12</text>
<line x1="547.6" y1="650.3" x2="547.6" y2="654.5" stroke="#111" stroke-width="1.3"/>
<text x="547.6" y="666.0" text-anchor="middle" font-size="10.0">16</text>
<line x1="582.5" y1="650.3" x2="582.5" y2="654.5" stroke="#111" stroke-width="1.3"/>
<text x="582.5" y="666.0" text-anchor="middle" font-size="10.0">20</text>
<line x1="617.4" y1="650.3" x2="617.4" y2="654.5" stroke="#111" stroke-width="1.3"/>
<text x="617.4" y="666.0" text-anchor="middle" font-size="10.0">24</text>
<text x="511.8" y="680.4" text-anchor="middle" font-size="11.6">Time / h</text>
<text transform="translate(379.8 580.5) rotate(-90)" text-anchor="middle" font-size="12">OD<tspan font-size="8.6" dy="2.6">600</tspan></text>
<line x1="410.6" y1="512.7" x2="425.2" y2="512.7" stroke="#000000" stroke-width="2.3"/>
<circle cx="418.1" cy="512.7" r="2.0" fill="#000000"/>
<text x="433.8" y="515.1" font-size="7.4" fill="#111">WT</text>
<line x1="410.6" y1="523.0" x2="425.2" y2="523.0" stroke="#fb0f1a" stroke-width="2.3"/>
<circle cx="418.1" cy="523.0" r="2.0" fill="#fb0f1a"/>
<text x="433.8" y="525.4" font-size="7.4" fill="#111">Δ <tspan font-style="italic">rccR</tspan></text>
<line x1="410.6" y1="533.2" x2="425.2" y2="533.2" stroke="#12128f" stroke-width="2.3"/>
<circle cx="418.1" cy="533.2" r="2.0" fill="#12128f"/>
<text x="433.8" y="535.6" font-size="7.4" fill="#111">Δ <tspan font-style="italic">rccR</tspan> + <tspan font-style="italic">rccR</tspan></text>
</g>
</svg>
</body></html>
